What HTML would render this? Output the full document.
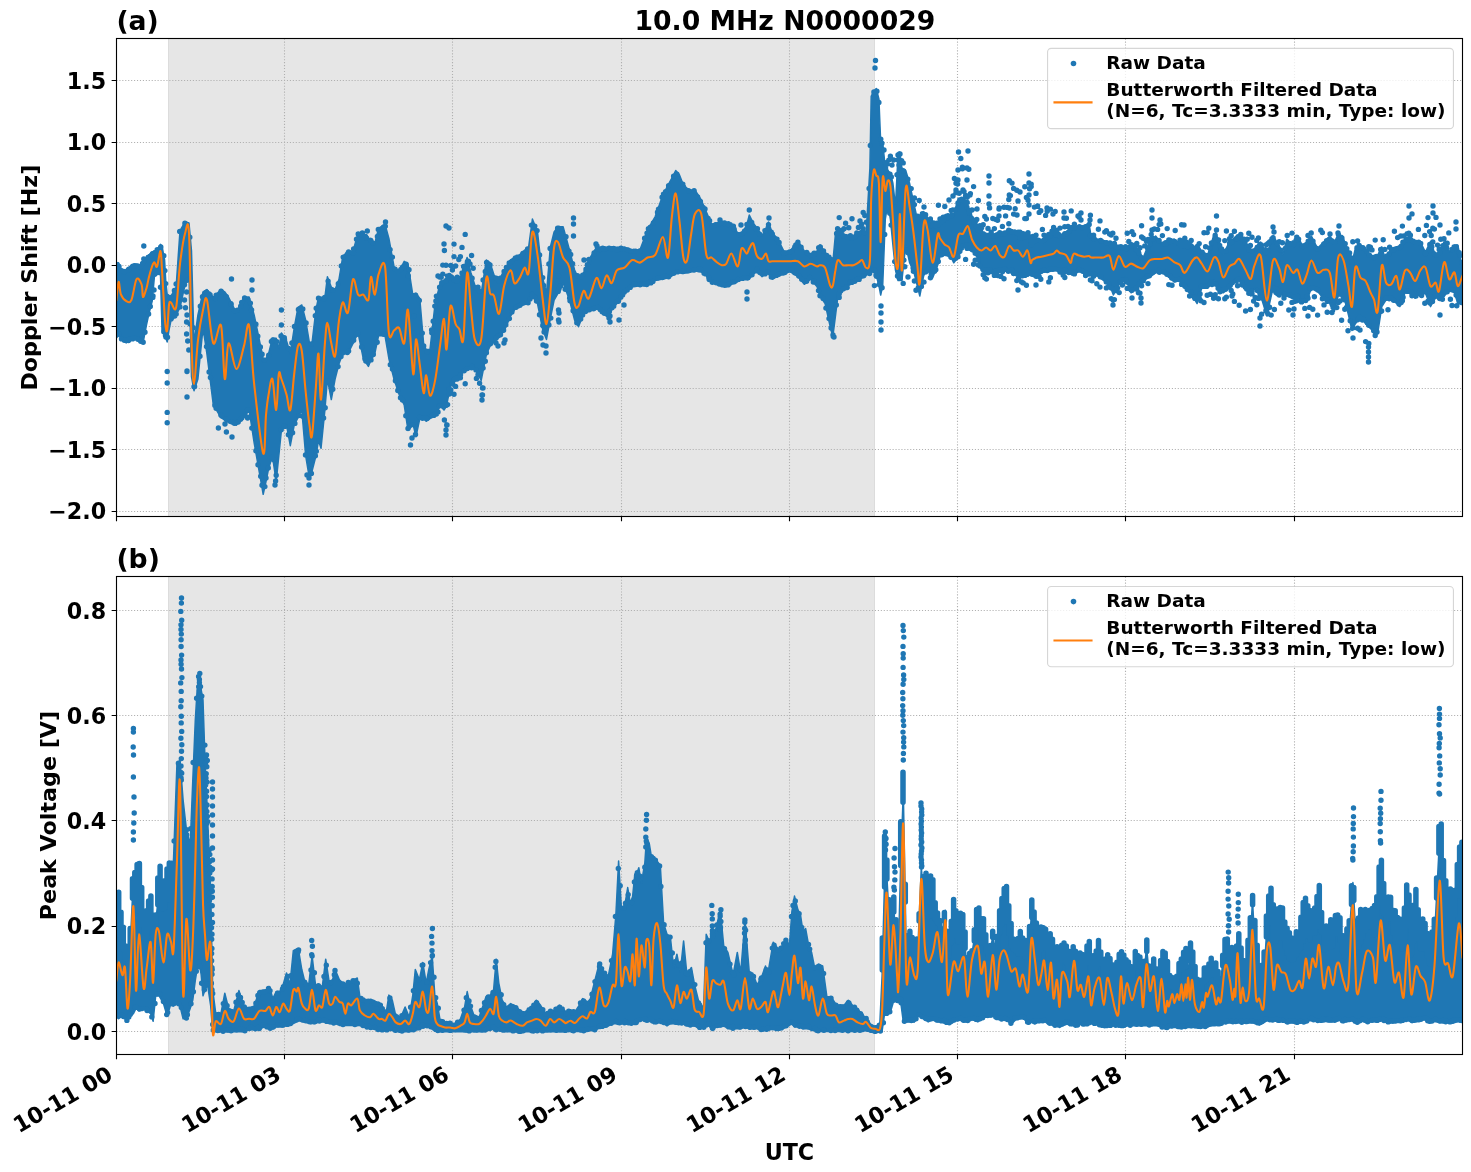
<!DOCTYPE html><html><head><meta charset="utf-8"><style>
html,body{margin:0;padding:0;background:#fff;overflow:hidden;}svg{display:block;}
text{font-family:'DejaVu Sans', 'Liberation Sans', sans-serif;font-weight:bold;fill:#000;}
.tl{font-size:22.22px;}.lg{font-size:18.51px;}.ti{font-size:26.67px;}.al{font-size:22.22px;}.yl{font-size:21.4px;}
</style></head><body>
<svg width="1471" height="1172" viewBox="0 0 1471 1172">
<rect width="1471" height="1172" fill="#fff"/>
<defs><clipPath id="ca"><rect x="116.4" y="38.6" width="1346.0" height="478.0"/></clipPath>
<clipPath id="cb"><rect x="116.4" y="576.7" width="1346.0" height="477.6"/></clipPath></defs>
<rect x="168.0" y="38.6" width="707.0" height="478.0" fill="#e6e6e6"/>
<path d="M168.5 38.6V516.6M874.5 38.6V516.6" stroke="#dcdcdc" stroke-width="1"/>
<path d="M284.5 38.6V516.6M452.5 38.6V516.6M621.5 38.6V516.6M789.5 38.6V516.6M957.5 38.6V516.6M1125.5 38.6V516.6M1294.5 38.6V516.6M116.4 80.5H1462.4M116.4 142.5H1462.4M116.4 203.5H1462.4M116.4 265.5H1462.4M116.4 326.5H1462.4M116.4 388.5H1462.4M116.4 449.5H1462.4M116.4 511.5H1462.4" stroke="#b0b0b0" stroke-width="1.11" stroke-dasharray="1.11 1.83" fill="none"/>
<g clip-path="url(#ca)">
<path d="M116.4 262.7 L118.6 262.7 L121.0 269.0 L126.2 270.0 L131.4 265.0 L136.5 264.0 L141.6 265.0 L143.0 262.0 L146.6 257.0 L148.8 255.0 L152.2 252.0 L154.4 251.0 L157.0 250.0 L160.5 244.4 L162.0 246.0 L164.6 260.0 L165.7 280.0 L167.2 294.7 L169.0 296.0 L171.0 296.0 L176.1 287.0 L180.0 230.7 L185.1 221.8 L189.0 223.0 L191.5 251.0 L194.0 343.0 L197.9 315.2 L203.0 292.0 L206.9 289.6 L213.3 297.3 L221.0 289.6 L224.8 292.0 L228.6 297.3 L236.3 312.6 L244.0 297.3 L249.1 297.0 L254.2 315.2 L263.2 358.7 L266.0 358.7 L268.6 353.6 L272.4 338.2 L276.2 338.2 L278.8 348.5 L281.4 333.0 L286.5 340.8 L290.3 353.6 L294.2 328.0 L298.0 307.5 L301.8 305.0 L305.7 320.3 L309.5 343.3 L312.0 343.3 L315.9 310.0 L318.5 297.3 L321.0 297.3 L324.9 297.3 L327.4 276.8 L331.3 287.0 L335.1 289.6 L339.0 279.3 L342.8 256.3 L347.9 251.2 L353.0 251.2 L358.1 233.3 L363.3 233.3 L368.4 238.4 L371.0 238.4 L374.8 243.5 L378.6 228.2 L385.0 224.3 L388.9 238.4 L394.0 266.5 L399.1 271.7 L404.2 261.4 L408.0 264.0 L413.2 297.3 L416.0 293.3 L419.8 298.5 L423.7 344.5 L426.2 349.6 L430.0 349.6 L435.1 303.6 L440.2 283.1 L444.0 280.0 L446.5 278.0 L450.5 275.0 L455.6 280.5 L459.4 279.0 L463.3 270.0 L467.1 257.5 L471.0 272.9 L474.8 285.0 L481.2 293.3 L486.3 260.1 L490.1 262.6 L494.0 275.0 L499.1 280.0 L504.2 270.0 L510.6 260.0 L514.4 257.5 L519.6 254.9 L524.7 250.0 L528.6 247.3 L532.4 219.1 L537.5 231.9 L542.6 278.0 L546.5 293.3 L550.3 247.3 L554.1 232.0 L558.0 226.8 L563.1 226.8 L569.5 250.0 L574.6 270.0 L578.5 278.0 L583.6 272.9 L588.7 260.0 L596.4 247.3 L601.5 247.3 L606.6 247.3 L611.7 247.3 L616.8 247.3 L624.5 247.3 L632.2 250.0 L639.9 250.0 L647.5 230.0 L655.2 216.5 L662.9 195.0 L668.0 185.0 L671.9 178.0 L675.7 170.5 L679.5 175.0 L683.4 185.0 L687.2 188.4 L691.1 190.0 L694.9 190.0 L701.3 200.0 L706.4 212.0 L711.5 224.2 L716.6 223.0 L721.8 221.7 L726.2 222.9 L731.4 222.9 L737.8 233.1 L741.6 233.1 L746.7 225.4 L749.3 215.0 L753.1 222.9 L757.0 228.0 L762.1 235.7 L765.9 228.0 L768.5 222.0 L772.3 233.1 L777.4 238.2 L783.8 251.0 L790.2 251.0 L797.9 240.8 L804.3 251.0 L810.7 253.6 L817.1 251.0 L820.0 244.8 L825.1 252.4 L830.2 257.6 L832.8 262.7 L835.4 234.5 L837.9 228.0 L843.0 234.0 L848.2 236.0 L853.3 236.0 L858.4 232.0 L862.2 230.0 L866.1 234.0 L869.9 168.0 L871.2 96.3 L873.7 91.2 L876.3 88.6 L878.9 98.9 L880.7 142.4 L882.7 142.4 L885.3 168.0 L887.8 170.5 L890.4 173.1 L892.9 183.3 L895.5 206.4 L898.1 152.6 L899.9 152.6 L901.9 168.0 L905.7 170.5 L909.6 183.3 L913.4 201.2 L917.3 219.2 L919.8 219.2 L923.7 211.5 L927.5 219.2 L932.6 224.3 L937.7 224.3 L940.0 222.9 L944.6 216.8 L949.2 215.2 L953.8 213.7 L958.4 198.3 L963.0 198.3 L967.6 209.1 L970.7 212.0 L972.2 216.8 L976.8 226.0 L981.5 232.1 L986.1 233.7 L990.7 235.2 L995.3 233.7 L999.9 232.1 L1004.5 232.1 L1009.1 229.0 L1013.7 230.6 L1018.3 233.7 L1022.9 236.7 L1027.5 232.1 L1030.6 240.0 L1032.1 244.4 L1035.2 240.0 L1036.7 238.3 L1041.3 239.8 L1047.5 235.2 L1053.6 232.1 L1056.7 233.0 L1059.8 235.2 L1065.9 232.1 L1070.5 228.0 L1072.0 226.0 L1074.0 226.0 L1078.2 226.0 L1084.3 226.0 L1088.9 222.9 L1091.1 236.0 L1097.3 239.0 L1103.4 240.6 L1109.6 242.1 L1113.4 245.2 L1118.8 245.2 L1124.9 248.3 L1131.1 243.7 L1137.2 249.8 L1143.3 257.5 L1149.5 242.1 L1155.6 236.0 L1161.8 243.7 L1167.9 242.1 L1174.1 239.0 L1180.2 243.7 L1184.8 245.2 L1192.5 245.2 L1197.1 248.3 L1201.7 251.3 L1207.8 254.4 L1214.0 234.4 L1218.6 239.0 L1223.2 254.4 L1229.3 242.1 L1234.6 237.5 L1239.2 234.4 L1245.4 242.1 L1250.7 251.3 L1254.6 248.3 L1260.7 242.1 L1266.8 254.4 L1273.0 236.0 L1279.1 245.2 L1283.0 254.4 L1286.8 239.0 L1293.0 245.2 L1297.6 236.0 L1302.2 245.2 L1306.8 242.1 L1311.4 236.0 L1317.5 248.3 L1323.7 242.1 L1329.8 236.0 L1334.4 242.1 L1338.2 234.4 L1343.6 239.0 L1348.5 252.0 L1352.0 262.2 L1355.4 248.5 L1360.5 245.1 L1365.6 248.5 L1370.7 255.4 L1374.1 255.4 L1377.6 255.4 L1381.8 246.8 L1386.1 262.2 L1391.2 248.5 L1396.3 246.8 L1399.8 246.8 L1404.9 238.3 L1410.0 238.3 L1415.1 241.7 L1420.2 241.7 L1425.4 252.0 L1430.5 241.7 L1435.6 255.4 L1439.0 252.0 L1444.2 241.7 L1449.3 252.0 L1454.4 245.1 L1457.8 245.1 L1462.4 267.3 L1462.4 303.2 L1457.8 303.2 L1454.4 292.9 L1449.3 289.5 L1444.2 296.3 L1439.0 299.8 L1435.6 296.3 L1430.5 306.6 L1425.4 292.9 L1420.2 292.9 L1415.1 298.1 L1410.0 292.9 L1404.9 292.9 L1399.8 306.6 L1396.3 303.2 L1391.2 299.8 L1386.1 299.8 L1381.8 306.6 L1377.6 333.9 L1374.1 332.2 L1370.7 328.8 L1365.6 323.7 L1360.5 316.8 L1355.4 323.7 L1352.0 330.5 L1348.5 315.1 L1343.6 295.9 L1338.2 295.9 L1334.4 311.2 L1329.8 303.5 L1323.7 298.9 L1317.5 291.3 L1311.4 288.2 L1306.8 300.5 L1302.2 303.5 L1297.6 297.4 L1293.0 298.9 L1286.8 295.9 L1283.0 295.9 L1279.1 291.3 L1273.0 288.2 L1266.8 315.8 L1260.7 295.9 L1254.6 288.2 L1250.7 295.9 L1245.4 288.2 L1239.2 280.5 L1234.6 282.0 L1229.3 288.2 L1223.2 292.8 L1218.6 291.3 L1214.0 280.5 L1207.8 288.2 L1201.7 288.2 L1197.1 303.5 L1192.5 295.9 L1184.8 288.2 L1180.2 280.5 L1174.1 282.0 L1167.9 275.9 L1161.8 272.8 L1155.6 272.8 L1149.5 277.4 L1143.3 280.5 L1137.2 288.2 L1131.1 292.8 L1124.9 277.4 L1118.8 285.1 L1113.4 295.0 L1109.6 285.1 L1103.4 280.5 L1097.3 275.9 L1091.1 275.9 L1088.9 275.1 L1084.3 272.0 L1078.2 272.0 L1074.0 274.0 L1072.0 275.1 L1070.5 274.0 L1065.9 272.0 L1059.8 272.0 L1056.7 271.0 L1053.6 270.5 L1047.5 272.0 L1041.3 272.0 L1036.7 278.2 L1035.2 277.0 L1032.1 275.1 L1030.6 275.1 L1027.5 275.1 L1022.9 276.7 L1018.3 275.1 L1013.7 273.6 L1009.1 272.0 L1004.5 270.5 L999.9 272.0 L995.3 273.6 L990.7 272.0 L986.1 272.0 L981.5 270.5 L976.8 256.7 L972.2 250.5 L970.7 248.0 L967.6 245.9 L963.0 247.5 L958.4 256.7 L953.8 262.8 L949.2 253.6 L944.6 255.2 L940.0 256.7 L937.7 265.2 L932.6 278.0 L927.5 270.4 L923.7 275.5 L919.8 296.0 L917.3 285.7 L913.4 270.4 L909.6 262.7 L905.7 244.8 L901.9 280.6 L899.9 280.6 L898.1 280.6 L895.5 270.4 L892.9 244.8 L890.4 219.2 L887.8 203.8 L885.3 219.2 L882.7 285.7 L880.7 295.0 L878.9 285.7 L876.3 275.5 L873.7 270.4 L871.2 270.4 L869.9 272.9 L866.1 275.5 L862.2 278.0 L858.4 280.6 L853.3 283.2 L848.2 285.7 L843.0 290.8 L837.9 296.0 L835.4 316.4 L832.8 336.9 L830.2 326.7 L825.1 303.6 L820.0 296.0 L817.1 286.8 L810.7 279.2 L804.3 284.3 L797.9 276.6 L790.2 271.5 L783.8 274.0 L777.4 276.6 L772.3 279.2 L768.5 274.0 L765.9 274.0 L762.1 276.6 L757.0 271.5 L753.1 274.0 L749.3 279.2 L746.7 279.2 L741.6 279.2 L737.8 281.7 L731.4 284.3 L726.2 286.8 L721.8 285.7 L716.6 284.0 L711.5 283.1 L706.4 276.0 L701.3 272.0 L694.9 271.0 L691.1 272.0 L687.2 272.9 L683.4 273.0 L679.5 272.9 L675.7 272.9 L671.9 276.0 L668.0 278.0 L662.9 279.0 L655.2 280.5 L647.5 285.7 L639.9 285.7 L632.2 287.0 L624.5 293.3 L616.8 303.6 L611.7 310.0 L606.6 316.4 L601.5 312.0 L596.4 308.7 L588.7 311.0 L583.6 313.8 L578.5 326.6 L574.6 320.0 L569.5 300.0 L563.1 283.1 L558.0 293.3 L554.1 300.0 L550.3 318.9 L546.5 339.4 L542.6 329.2 L537.5 303.6 L532.4 293.3 L528.6 303.6 L524.7 304.5 L519.6 306.1 L514.4 310.0 L510.6 316.0 L504.2 331.0 L499.1 337.0 L494.0 342.0 L490.1 346.0 L486.3 354.8 L481.2 380.4 L474.8 368.0 L471.0 367.6 L467.1 370.1 L463.3 372.0 L459.4 377.0 L455.6 380.4 L450.5 385.5 L446.5 406.0 L444.0 410.0 L440.2 406.0 L435.1 416.2 L430.0 418.7 L426.2 421.3 L423.7 418.7 L419.8 418.7 L416.0 436.7 L413.2 425.0 L408.0 430.4 L404.2 404.8 L399.1 394.5 L394.0 379.0 L388.9 358.7 L385.0 335.7 L378.6 335.7 L374.8 353.6 L371.0 360.0 L368.4 366.4 L363.3 358.7 L358.1 333.0 L353.0 343.3 L347.9 353.6 L342.8 353.6 L339.0 363.8 L335.1 379.0 L331.3 399.6 L327.4 379.0 L324.9 410.0 L321.0 448.3 L318.5 440.6 L315.9 456.0 L312.0 471.3 L309.5 479.0 L305.7 456.0 L301.8 410.0 L298.0 417.6 L294.2 425.2 L290.3 445.7 L286.5 425.2 L281.4 430.4 L278.8 456.0 L276.2 481.5 L272.4 456.0 L268.6 468.7 L266.0 481.5 L263.2 494.3 L254.2 443.0 L249.1 410.0 L244.0 417.6 L236.3 425.2 L228.6 422.7 L224.8 420.0 L221.0 417.6 L213.3 404.8 L206.9 353.6 L203.0 328.0 L197.9 379.0 L194.0 390.7 L191.5 376.6 L189.0 276.8 L185.1 284.5 L180.0 307.5 L176.1 315.2 L171.0 320.3 L169.0 330.0 L167.2 342.0 L165.7 338.0 L164.6 335.0 L162.0 330.0 L160.5 275.0 L157.0 273.0 L154.4 276.6 L152.2 301.0 L148.8 314.4 L146.6 324.3 L143.0 343.0 L141.6 343.0 L136.5 339.5 L131.4 339.5 L126.2 343.0 L121.0 339.5 L118.6 333.0 L116.4 338.2Z" fill="#1f77b4" stroke="#1f77b4" stroke-width="1.5" stroke-linejoin="round"/>
<path d="M114.1 264.5a2.7 2.7 0 1 0 5.4 0a2.7 2.7 0 1 0 -5.4 0M114.0 334.9a2.7 2.7 0 1 0 5.4 0a2.7 2.7 0 1 0 -5.4 0M116.3 266.5a2.7 2.7 0 1 0 5.4 0a2.7 2.7 0 1 0 -5.4 0M116.3 334.0a2.7 2.7 0 1 0 5.4 0a2.7 2.7 0 1 0 -5.4 0M118.1 270.4a2.7 2.7 0 1 0 5.4 0a2.7 2.7 0 1 0 -5.4 0M118.8 338.9a2.7 2.7 0 1 0 5.4 0a2.7 2.7 0 1 0 -5.4 0M121.6 272.0a2.7 2.7 0 1 0 5.4 0a2.7 2.7 0 1 0 -5.4 0M121.6 340.3a2.7 2.7 0 1 0 5.4 0a2.7 2.7 0 1 0 -5.4 0M125.6 269.8a2.7 2.7 0 1 0 5.4 0a2.7 2.7 0 1 0 -5.4 0M125.8 340.5a2.7 2.7 0 1 0 5.4 0a2.7 2.7 0 1 0 -5.4 0M126.2 269.3a2.7 2.7 0 1 0 5.4 0a2.7 2.7 0 1 0 -5.4 0M126.1 339.4a2.7 2.7 0 1 0 5.4 0a2.7 2.7 0 1 0 -5.4 0M130.2 266.3a2.7 2.7 0 1 0 5.4 0a2.7 2.7 0 1 0 -5.4 0M129.9 338.9a2.7 2.7 0 1 0 5.4 0a2.7 2.7 0 1 0 -5.4 0M132.0 265.8a2.7 2.7 0 1 0 5.4 0a2.7 2.7 0 1 0 -5.4 0M131.6 337.8a2.7 2.7 0 1 0 5.4 0a2.7 2.7 0 1 0 -5.4 0M134.8 266.3a2.7 2.7 0 1 0 5.4 0a2.7 2.7 0 1 0 -5.4 0M135.2 339.3a2.7 2.7 0 1 0 5.4 0a2.7 2.7 0 1 0 -5.4 0M137.8 267.0a2.7 2.7 0 1 0 5.4 0a2.7 2.7 0 1 0 -5.4 0M138.0 341.2a2.7 2.7 0 1 0 5.4 0a2.7 2.7 0 1 0 -5.4 0M139.9 263.4a2.7 2.7 0 1 0 5.4 0a2.7 2.7 0 1 0 -5.4 0M140.5 342.2a2.7 2.7 0 1 0 5.4 0a2.7 2.7 0 1 0 -5.4 0M141.6 261.4a2.7 2.7 0 1 0 5.4 0a2.7 2.7 0 1 0 -5.4 0M142.3 332.2a2.7 2.7 0 1 0 5.4 0a2.7 2.7 0 1 0 -5.4 0M145.6 257.1a2.7 2.7 0 1 0 5.4 0a2.7 2.7 0 1 0 -5.4 0M145.9 314.0a2.7 2.7 0 1 0 5.4 0a2.7 2.7 0 1 0 -5.4 0M148.0 256.0a2.7 2.7 0 1 0 5.4 0a2.7 2.7 0 1 0 -5.4 0M147.6 306.5a2.7 2.7 0 1 0 5.4 0a2.7 2.7 0 1 0 -5.4 0M149.8 253.7a2.7 2.7 0 1 0 5.4 0a2.7 2.7 0 1 0 -5.4 0M150.1 297.4a2.7 2.7 0 1 0 5.4 0a2.7 2.7 0 1 0 -5.4 0M152.3 252.6a2.7 2.7 0 1 0 5.4 0a2.7 2.7 0 1 0 -5.4 0M152.0 274.2a2.7 2.7 0 1 0 5.4 0a2.7 2.7 0 1 0 -5.4 0M154.5 249.7a2.7 2.7 0 1 0 5.4 0a2.7 2.7 0 1 0 -5.4 0M155.2 272.6a2.7 2.7 0 1 0 5.4 0a2.7 2.7 0 1 0 -5.4 0M158.1 247.0a2.7 2.7 0 1 0 5.4 0a2.7 2.7 0 1 0 -5.4 0M157.8 287.2a2.7 2.7 0 1 0 5.4 0a2.7 2.7 0 1 0 -5.4 0M161.1 255.8a2.7 2.7 0 1 0 5.4 0a2.7 2.7 0 1 0 -5.4 0M161.1 331.7a2.7 2.7 0 1 0 5.4 0a2.7 2.7 0 1 0 -5.4 0M162.2 270.6a2.7 2.7 0 1 0 5.4 0a2.7 2.7 0 1 0 -5.4 0M162.8 335.4a2.7 2.7 0 1 0 5.4 0a2.7 2.7 0 1 0 -5.4 0M163.0 283.6a2.7 2.7 0 1 0 5.4 0a2.7 2.7 0 1 0 -5.4 0M163.2 337.0a2.7 2.7 0 1 0 5.4 0a2.7 2.7 0 1 0 -5.4 0M164.5 296.4a2.7 2.7 0 1 0 5.4 0a2.7 2.7 0 1 0 -5.4 0M164.8 337.2a2.7 2.7 0 1 0 5.4 0a2.7 2.7 0 1 0 -5.4 0M168.4 297.5a2.7 2.7 0 1 0 5.4 0a2.7 2.7 0 1 0 -5.4 0M168.3 318.9a2.7 2.7 0 1 0 5.4 0a2.7 2.7 0 1 0 -5.4 0M168.8 297.8a2.7 2.7 0 1 0 5.4 0a2.7 2.7 0 1 0 -5.4 0M168.8 318.1a2.7 2.7 0 1 0 5.4 0a2.7 2.7 0 1 0 -5.4 0M171.7 290.4a2.7 2.7 0 1 0 5.4 0a2.7 2.7 0 1 0 -5.4 0M172.0 316.1a2.7 2.7 0 1 0 5.4 0a2.7 2.7 0 1 0 -5.4 0M173.4 284.0a2.7 2.7 0 1 0 5.4 0a2.7 2.7 0 1 0 -5.4 0M173.5 314.1a2.7 2.7 0 1 0 5.4 0a2.7 2.7 0 1 0 -5.4 0M177.0 231.4a2.7 2.7 0 1 0 5.4 0a2.7 2.7 0 1 0 -5.4 0M177.2 306.9a2.7 2.7 0 1 0 5.4 0a2.7 2.7 0 1 0 -5.4 0M182.2 223.2a2.7 2.7 0 1 0 5.4 0a2.7 2.7 0 1 0 -5.4 0M181.8 284.8a2.7 2.7 0 1 0 5.4 0a2.7 2.7 0 1 0 -5.4 0M183.4 224.4a2.7 2.7 0 1 0 5.4 0a2.7 2.7 0 1 0 -5.4 0M184.3 280.3a2.7 2.7 0 1 0 5.4 0a2.7 2.7 0 1 0 -5.4 0M187.1 237.3a2.7 2.7 0 1 0 5.4 0a2.7 2.7 0 1 0 -5.4 0M187.4 324.1a2.7 2.7 0 1 0 5.4 0a2.7 2.7 0 1 0 -5.4 0M190.5 327.8a2.7 2.7 0 1 0 5.4 0a2.7 2.7 0 1 0 -5.4 0M191.3 386.7a2.7 2.7 0 1 0 5.4 0a2.7 2.7 0 1 0 -5.4 0M191.9 339.5a2.7 2.7 0 1 0 5.4 0a2.7 2.7 0 1 0 -5.4 0M191.9 386.5a2.7 2.7 0 1 0 5.4 0a2.7 2.7 0 1 0 -5.4 0M197.6 306.2a2.7 2.7 0 1 0 5.4 0a2.7 2.7 0 1 0 -5.4 0M197.3 356.2a2.7 2.7 0 1 0 5.4 0a2.7 2.7 0 1 0 -5.4 0M199.8 296.7a2.7 2.7 0 1 0 5.4 0a2.7 2.7 0 1 0 -5.4 0M199.5 332.9a2.7 2.7 0 1 0 5.4 0a2.7 2.7 0 1 0 -5.4 0M203.9 292.3a2.7 2.7 0 1 0 5.4 0a2.7 2.7 0 1 0 -5.4 0M203.8 346.6a2.7 2.7 0 1 0 5.4 0a2.7 2.7 0 1 0 -5.4 0M206.3 294.0a2.7 2.7 0 1 0 5.4 0a2.7 2.7 0 1 0 -5.4 0M206.4 372.0a2.7 2.7 0 1 0 5.4 0a2.7 2.7 0 1 0 -5.4 0M207.3 294.6a2.7 2.7 0 1 0 5.4 0a2.7 2.7 0 1 0 -5.4 0M207.7 377.5a2.7 2.7 0 1 0 5.4 0a2.7 2.7 0 1 0 -5.4 0M212.2 298.6a2.7 2.7 0 1 0 5.4 0a2.7 2.7 0 1 0 -5.4 0M212.2 405.5a2.7 2.7 0 1 0 5.4 0a2.7 2.7 0 1 0 -5.4 0M213.5 295.1a2.7 2.7 0 1 0 5.4 0a2.7 2.7 0 1 0 -5.4 0M213.4 408.3a2.7 2.7 0 1 0 5.4 0a2.7 2.7 0 1 0 -5.4 0M218.4 291.3a2.7 2.7 0 1 0 5.4 0a2.7 2.7 0 1 0 -5.4 0M218.2 415.1a2.7 2.7 0 1 0 5.4 0a2.7 2.7 0 1 0 -5.4 0M218.8 292.1a2.7 2.7 0 1 0 5.4 0a2.7 2.7 0 1 0 -5.4 0M218.9 415.8a2.7 2.7 0 1 0 5.4 0a2.7 2.7 0 1 0 -5.4 0M223.6 296.6a2.7 2.7 0 1 0 5.4 0a2.7 2.7 0 1 0 -5.4 0M223.7 419.2a2.7 2.7 0 1 0 5.4 0a2.7 2.7 0 1 0 -5.4 0M228.3 303.6a2.7 2.7 0 1 0 5.4 0a2.7 2.7 0 1 0 -5.4 0M228.8 421.6a2.7 2.7 0 1 0 5.4 0a2.7 2.7 0 1 0 -5.4 0M228.5 304.1a2.7 2.7 0 1 0 5.4 0a2.7 2.7 0 1 0 -5.4 0M229.3 421.6a2.7 2.7 0 1 0 5.4 0a2.7 2.7 0 1 0 -5.4 0M231.7 310.7a2.7 2.7 0 1 0 5.4 0a2.7 2.7 0 1 0 -5.4 0M231.6 423.3a2.7 2.7 0 1 0 5.4 0a2.7 2.7 0 1 0 -5.4 0M234.6 310.3a2.7 2.7 0 1 0 5.4 0a2.7 2.7 0 1 0 -5.4 0M235.5 422.0a2.7 2.7 0 1 0 5.4 0a2.7 2.7 0 1 0 -5.4 0M238.0 306.2a2.7 2.7 0 1 0 5.4 0a2.7 2.7 0 1 0 -5.4 0M237.9 419.2a2.7 2.7 0 1 0 5.4 0a2.7 2.7 0 1 0 -5.4 0M239.0 302.4a2.7 2.7 0 1 0 5.4 0a2.7 2.7 0 1 0 -5.4 0M239.0 417.9a2.7 2.7 0 1 0 5.4 0a2.7 2.7 0 1 0 -5.4 0M241.9 298.0a2.7 2.7 0 1 0 5.4 0a2.7 2.7 0 1 0 -5.4 0M242.4 415.4a2.7 2.7 0 1 0 5.4 0a2.7 2.7 0 1 0 -5.4 0M245.1 299.4a2.7 2.7 0 1 0 5.4 0a2.7 2.7 0 1 0 -5.4 0M244.9 409.7a2.7 2.7 0 1 0 5.4 0a2.7 2.7 0 1 0 -5.4 0M247.7 303.1a2.7 2.7 0 1 0 5.4 0a2.7 2.7 0 1 0 -5.4 0M247.2 416.9a2.7 2.7 0 1 0 5.4 0a2.7 2.7 0 1 0 -5.4 0M248.9 309.9a2.7 2.7 0 1 0 5.4 0a2.7 2.7 0 1 0 -5.4 0M249.1 428.1a2.7 2.7 0 1 0 5.4 0a2.7 2.7 0 1 0 -5.4 0M253.2 324.2a2.7 2.7 0 1 0 5.4 0a2.7 2.7 0 1 0 -5.4 0M253.2 450.7a2.7 2.7 0 1 0 5.4 0a2.7 2.7 0 1 0 -5.4 0M255.1 336.2a2.7 2.7 0 1 0 5.4 0a2.7 2.7 0 1 0 -5.4 0M255.3 464.8a2.7 2.7 0 1 0 5.4 0a2.7 2.7 0 1 0 -5.4 0M257.7 347.0a2.7 2.7 0 1 0 5.4 0a2.7 2.7 0 1 0 -5.4 0M258.0 476.2a2.7 2.7 0 1 0 5.4 0a2.7 2.7 0 1 0 -5.4 0M259.4 354.2a2.7 2.7 0 1 0 5.4 0a2.7 2.7 0 1 0 -5.4 0M259.3 485.3a2.7 2.7 0 1 0 5.4 0a2.7 2.7 0 1 0 -5.4 0M261.8 360.2a2.7 2.7 0 1 0 5.4 0a2.7 2.7 0 1 0 -5.4 0M262.2 486.6a2.7 2.7 0 1 0 5.4 0a2.7 2.7 0 1 0 -5.4 0M266.0 355.2a2.7 2.7 0 1 0 5.4 0a2.7 2.7 0 1 0 -5.4 0M265.6 467.9a2.7 2.7 0 1 0 5.4 0a2.7 2.7 0 1 0 -5.4 0M268.7 341.4a2.7 2.7 0 1 0 5.4 0a2.7 2.7 0 1 0 -5.4 0M269.0 457.4a2.7 2.7 0 1 0 5.4 0a2.7 2.7 0 1 0 -5.4 0M270.2 340.0a2.7 2.7 0 1 0 5.4 0a2.7 2.7 0 1 0 -5.4 0M270.9 459.8a2.7 2.7 0 1 0 5.4 0a2.7 2.7 0 1 0 -5.4 0M274.1 341.6a2.7 2.7 0 1 0 5.4 0a2.7 2.7 0 1 0 -5.4 0M273.5 475.3a2.7 2.7 0 1 0 5.4 0a2.7 2.7 0 1 0 -5.4 0M278.3 335.9a2.7 2.7 0 1 0 5.4 0a2.7 2.7 0 1 0 -5.4 0M278.5 429.8a2.7 2.7 0 1 0 5.4 0a2.7 2.7 0 1 0 -5.4 0M281.6 337.7a2.7 2.7 0 1 0 5.4 0a2.7 2.7 0 1 0 -5.4 0M281.2 426.3a2.7 2.7 0 1 0 5.4 0a2.7 2.7 0 1 0 -5.4 0M281.8 339.4a2.7 2.7 0 1 0 5.4 0a2.7 2.7 0 1 0 -5.4 0M282.3 426.4a2.7 2.7 0 1 0 5.4 0a2.7 2.7 0 1 0 -5.4 0M285.8 348.4a2.7 2.7 0 1 0 5.4 0a2.7 2.7 0 1 0 -5.4 0M285.7 434.8a2.7 2.7 0 1 0 5.4 0a2.7 2.7 0 1 0 -5.4 0M289.2 343.0a2.7 2.7 0 1 0 5.4 0a2.7 2.7 0 1 0 -5.4 0M289.9 432.8a2.7 2.7 0 1 0 5.4 0a2.7 2.7 0 1 0 -5.4 0M291.7 326.4a2.7 2.7 0 1 0 5.4 0a2.7 2.7 0 1 0 -5.4 0M292.2 423.4a2.7 2.7 0 1 0 5.4 0a2.7 2.7 0 1 0 -5.4 0M295.7 309.5a2.7 2.7 0 1 0 5.4 0a2.7 2.7 0 1 0 -5.4 0M296.1 415.6a2.7 2.7 0 1 0 5.4 0a2.7 2.7 0 1 0 -5.4 0M300.1 308.9a2.7 2.7 0 1 0 5.4 0a2.7 2.7 0 1 0 -5.4 0M299.9 416.2a2.7 2.7 0 1 0 5.4 0a2.7 2.7 0 1 0 -5.4 0M303.4 323.0a2.7 2.7 0 1 0 5.4 0a2.7 2.7 0 1 0 -5.4 0M302.8 454.9a2.7 2.7 0 1 0 5.4 0a2.7 2.7 0 1 0 -5.4 0M308.7 344.0a2.7 2.7 0 1 0 5.4 0a2.7 2.7 0 1 0 -5.4 0M308.7 473.5a2.7 2.7 0 1 0 5.4 0a2.7 2.7 0 1 0 -5.4 0M312.6 315.7a2.7 2.7 0 1 0 5.4 0a2.7 2.7 0 1 0 -5.4 0M312.7 455.7a2.7 2.7 0 1 0 5.4 0a2.7 2.7 0 1 0 -5.4 0M313.5 308.2a2.7 2.7 0 1 0 5.4 0a2.7 2.7 0 1 0 -5.4 0M313.6 451.2a2.7 2.7 0 1 0 5.4 0a2.7 2.7 0 1 0 -5.4 0M315.8 298.2a2.7 2.7 0 1 0 5.4 0a2.7 2.7 0 1 0 -5.4 0M316.0 440.7a2.7 2.7 0 1 0 5.4 0a2.7 2.7 0 1 0 -5.4 0M321.1 298.8a2.7 2.7 0 1 0 5.4 0a2.7 2.7 0 1 0 -5.4 0M320.9 418.0a2.7 2.7 0 1 0 5.4 0a2.7 2.7 0 1 0 -5.4 0M322.0 297.5a2.7 2.7 0 1 0 5.4 0a2.7 2.7 0 1 0 -5.4 0M322.5 407.8a2.7 2.7 0 1 0 5.4 0a2.7 2.7 0 1 0 -5.4 0M325.4 281.1a2.7 2.7 0 1 0 5.4 0a2.7 2.7 0 1 0 -5.4 0M325.0 380.8a2.7 2.7 0 1 0 5.4 0a2.7 2.7 0 1 0 -5.4 0M330.2 290.3a2.7 2.7 0 1 0 5.4 0a2.7 2.7 0 1 0 -5.4 0M330.1 389.2a2.7 2.7 0 1 0 5.4 0a2.7 2.7 0 1 0 -5.4 0M335.6 283.7a2.7 2.7 0 1 0 5.4 0a2.7 2.7 0 1 0 -5.4 0M335.4 366.6a2.7 2.7 0 1 0 5.4 0a2.7 2.7 0 1 0 -5.4 0M338.6 265.9a2.7 2.7 0 1 0 5.4 0a2.7 2.7 0 1 0 -5.4 0M338.3 356.6a2.7 2.7 0 1 0 5.4 0a2.7 2.7 0 1 0 -5.4 0M340.5 257.1a2.7 2.7 0 1 0 5.4 0a2.7 2.7 0 1 0 -5.4 0M339.9 352.9a2.7 2.7 0 1 0 5.4 0a2.7 2.7 0 1 0 -5.4 0M345.2 253.4a2.7 2.7 0 1 0 5.4 0a2.7 2.7 0 1 0 -5.4 0M344.6 352.6a2.7 2.7 0 1 0 5.4 0a2.7 2.7 0 1 0 -5.4 0M345.9 252.0a2.7 2.7 0 1 0 5.4 0a2.7 2.7 0 1 0 -5.4 0M345.9 351.1a2.7 2.7 0 1 0 5.4 0a2.7 2.7 0 1 0 -5.4 0M350.7 252.8a2.7 2.7 0 1 0 5.4 0a2.7 2.7 0 1 0 -5.4 0M349.9 341.1a2.7 2.7 0 1 0 5.4 0a2.7 2.7 0 1 0 -5.4 0M350.9 248.9a2.7 2.7 0 1 0 5.4 0a2.7 2.7 0 1 0 -5.4 0M351.0 340.3a2.7 2.7 0 1 0 5.4 0a2.7 2.7 0 1 0 -5.4 0M353.8 239.3a2.7 2.7 0 1 0 5.4 0a2.7 2.7 0 1 0 -5.4 0M353.6 334.5a2.7 2.7 0 1 0 5.4 0a2.7 2.7 0 1 0 -5.4 0M355.5 233.9a2.7 2.7 0 1 0 5.4 0a2.7 2.7 0 1 0 -5.4 0M355.2 333.0a2.7 2.7 0 1 0 5.4 0a2.7 2.7 0 1 0 -5.4 0M358.7 234.9a2.7 2.7 0 1 0 5.4 0a2.7 2.7 0 1 0 -5.4 0M358.9 347.0a2.7 2.7 0 1 0 5.4 0a2.7 2.7 0 1 0 -5.4 0M362.8 236.4a2.7 2.7 0 1 0 5.4 0a2.7 2.7 0 1 0 -5.4 0M362.3 359.0a2.7 2.7 0 1 0 5.4 0a2.7 2.7 0 1 0 -5.4 0M363.8 238.0a2.7 2.7 0 1 0 5.4 0a2.7 2.7 0 1 0 -5.4 0M363.1 361.0a2.7 2.7 0 1 0 5.4 0a2.7 2.7 0 1 0 -5.4 0M368.1 240.4a2.7 2.7 0 1 0 5.4 0a2.7 2.7 0 1 0 -5.4 0M368.3 359.9a2.7 2.7 0 1 0 5.4 0a2.7 2.7 0 1 0 -5.4 0M370.3 243.2a2.7 2.7 0 1 0 5.4 0a2.7 2.7 0 1 0 -5.4 0M370.6 354.5a2.7 2.7 0 1 0 5.4 0a2.7 2.7 0 1 0 -5.4 0M374.7 236.4a2.7 2.7 0 1 0 5.4 0a2.7 2.7 0 1 0 -5.4 0M374.5 342.2a2.7 2.7 0 1 0 5.4 0a2.7 2.7 0 1 0 -5.4 0M375.6 229.4a2.7 2.7 0 1 0 5.4 0a2.7 2.7 0 1 0 -5.4 0M375.6 333.5a2.7 2.7 0 1 0 5.4 0a2.7 2.7 0 1 0 -5.4 0M381.0 226.9a2.7 2.7 0 1 0 5.4 0a2.7 2.7 0 1 0 -5.4 0M381.1 334.2a2.7 2.7 0 1 0 5.4 0a2.7 2.7 0 1 0 -5.4 0M382.6 226.3a2.7 2.7 0 1 0 5.4 0a2.7 2.7 0 1 0 -5.4 0M382.3 334.2a2.7 2.7 0 1 0 5.4 0a2.7 2.7 0 1 0 -5.4 0M387.4 249.6a2.7 2.7 0 1 0 5.4 0a2.7 2.7 0 1 0 -5.4 0M387.6 364.7a2.7 2.7 0 1 0 5.4 0a2.7 2.7 0 1 0 -5.4 0M389.7 257.1a2.7 2.7 0 1 0 5.4 0a2.7 2.7 0 1 0 -5.4 0M389.7 369.1a2.7 2.7 0 1 0 5.4 0a2.7 2.7 0 1 0 -5.4 0M392.4 269.2a2.7 2.7 0 1 0 5.4 0a2.7 2.7 0 1 0 -5.4 0M392.7 380.8a2.7 2.7 0 1 0 5.4 0a2.7 2.7 0 1 0 -5.4 0M395.6 271.4a2.7 2.7 0 1 0 5.4 0a2.7 2.7 0 1 0 -5.4 0M395.1 390.5a2.7 2.7 0 1 0 5.4 0a2.7 2.7 0 1 0 -5.4 0M398.1 269.5a2.7 2.7 0 1 0 5.4 0a2.7 2.7 0 1 0 -5.4 0M397.8 397.7a2.7 2.7 0 1 0 5.4 0a2.7 2.7 0 1 0 -5.4 0M399.8 267.1a2.7 2.7 0 1 0 5.4 0a2.7 2.7 0 1 0 -5.4 0M399.8 400.0a2.7 2.7 0 1 0 5.4 0a2.7 2.7 0 1 0 -5.4 0M403.4 264.2a2.7 2.7 0 1 0 5.4 0a2.7 2.7 0 1 0 -5.4 0M403.1 415.7a2.7 2.7 0 1 0 5.4 0a2.7 2.7 0 1 0 -5.4 0M406.3 269.7a2.7 2.7 0 1 0 5.4 0a2.7 2.7 0 1 0 -5.4 0M405.3 428.4a2.7 2.7 0 1 0 5.4 0a2.7 2.7 0 1 0 -5.4 0M410.5 295.7a2.7 2.7 0 1 0 5.4 0a2.7 2.7 0 1 0 -5.4 0M409.8 424.6a2.7 2.7 0 1 0 5.4 0a2.7 2.7 0 1 0 -5.4 0M412.9 295.2a2.7 2.7 0 1 0 5.4 0a2.7 2.7 0 1 0 -5.4 0M412.8 434.5a2.7 2.7 0 1 0 5.4 0a2.7 2.7 0 1 0 -5.4 0M416.6 300.4a2.7 2.7 0 1 0 5.4 0a2.7 2.7 0 1 0 -5.4 0M416.9 417.3a2.7 2.7 0 1 0 5.4 0a2.7 2.7 0 1 0 -5.4 0M419.6 333.1a2.7 2.7 0 1 0 5.4 0a2.7 2.7 0 1 0 -5.4 0M419.8 418.2a2.7 2.7 0 1 0 5.4 0a2.7 2.7 0 1 0 -5.4 0M421.0 345.9a2.7 2.7 0 1 0 5.4 0a2.7 2.7 0 1 0 -5.4 0M420.8 417.9a2.7 2.7 0 1 0 5.4 0a2.7 2.7 0 1 0 -5.4 0M424.6 351.8a2.7 2.7 0 1 0 5.4 0a2.7 2.7 0 1 0 -5.4 0M424.3 418.4a2.7 2.7 0 1 0 5.4 0a2.7 2.7 0 1 0 -5.4 0M429.1 332.7a2.7 2.7 0 1 0 5.4 0a2.7 2.7 0 1 0 -5.4 0M429.7 415.3a2.7 2.7 0 1 0 5.4 0a2.7 2.7 0 1 0 -5.4 0M430.5 321.2a2.7 2.7 0 1 0 5.4 0a2.7 2.7 0 1 0 -5.4 0M431.1 415.4a2.7 2.7 0 1 0 5.4 0a2.7 2.7 0 1 0 -5.4 0M433.2 301.0a2.7 2.7 0 1 0 5.4 0a2.7 2.7 0 1 0 -5.4 0M432.9 413.7a2.7 2.7 0 1 0 5.4 0a2.7 2.7 0 1 0 -5.4 0M436.9 287.2a2.7 2.7 0 1 0 5.4 0a2.7 2.7 0 1 0 -5.4 0M436.8 405.8a2.7 2.7 0 1 0 5.4 0a2.7 2.7 0 1 0 -5.4 0M439.1 282.8a2.7 2.7 0 1 0 5.4 0a2.7 2.7 0 1 0 -5.4 0M439.9 405.8a2.7 2.7 0 1 0 5.4 0a2.7 2.7 0 1 0 -5.4 0M443.5 280.7a2.7 2.7 0 1 0 5.4 0a2.7 2.7 0 1 0 -5.4 0M443.8 405.2a2.7 2.7 0 1 0 5.4 0a2.7 2.7 0 1 0 -5.4 0M446.2 277.8a2.7 2.7 0 1 0 5.4 0a2.7 2.7 0 1 0 -5.4 0M446.6 389.2a2.7 2.7 0 1 0 5.4 0a2.7 2.7 0 1 0 -5.4 0M449.2 277.4a2.7 2.7 0 1 0 5.4 0a2.7 2.7 0 1 0 -5.4 0M449.9 383.1a2.7 2.7 0 1 0 5.4 0a2.7 2.7 0 1 0 -5.4 0M451.4 280.1a2.7 2.7 0 1 0 5.4 0a2.7 2.7 0 1 0 -5.4 0M451.8 379.3a2.7 2.7 0 1 0 5.4 0a2.7 2.7 0 1 0 -5.4 0M454.0 281.2a2.7 2.7 0 1 0 5.4 0a2.7 2.7 0 1 0 -5.4 0M453.9 378.2a2.7 2.7 0 1 0 5.4 0a2.7 2.7 0 1 0 -5.4 0M457.0 278.4a2.7 2.7 0 1 0 5.4 0a2.7 2.7 0 1 0 -5.4 0M457.8 374.7a2.7 2.7 0 1 0 5.4 0a2.7 2.7 0 1 0 -5.4 0M461.8 269.7a2.7 2.7 0 1 0 5.4 0a2.7 2.7 0 1 0 -5.4 0M461.4 370.8a2.7 2.7 0 1 0 5.4 0a2.7 2.7 0 1 0 -5.4 0M464.7 261.6a2.7 2.7 0 1 0 5.4 0a2.7 2.7 0 1 0 -5.4 0M464.7 368.6a2.7 2.7 0 1 0 5.4 0a2.7 2.7 0 1 0 -5.4 0M469.4 278.3a2.7 2.7 0 1 0 5.4 0a2.7 2.7 0 1 0 -5.4 0M469.5 366.4a2.7 2.7 0 1 0 5.4 0a2.7 2.7 0 1 0 -5.4 0M473.4 288.0a2.7 2.7 0 1 0 5.4 0a2.7 2.7 0 1 0 -5.4 0M473.3 369.9a2.7 2.7 0 1 0 5.4 0a2.7 2.7 0 1 0 -5.4 0M476.7 291.1a2.7 2.7 0 1 0 5.4 0a2.7 2.7 0 1 0 -5.4 0M476.2 374.2a2.7 2.7 0 1 0 5.4 0a2.7 2.7 0 1 0 -5.4 0M480.4 280.0a2.7 2.7 0 1 0 5.4 0a2.7 2.7 0 1 0 -5.4 0M480.4 368.1a2.7 2.7 0 1 0 5.4 0a2.7 2.7 0 1 0 -5.4 0M482.6 271.5a2.7 2.7 0 1 0 5.4 0a2.7 2.7 0 1 0 -5.4 0M482.6 361.3a2.7 2.7 0 1 0 5.4 0a2.7 2.7 0 1 0 -5.4 0M483.9 262.5a2.7 2.7 0 1 0 5.4 0a2.7 2.7 0 1 0 -5.4 0M483.7 352.8a2.7 2.7 0 1 0 5.4 0a2.7 2.7 0 1 0 -5.4 0M487.3 265.0a2.7 2.7 0 1 0 5.4 0a2.7 2.7 0 1 0 -5.4 0M487.7 343.8a2.7 2.7 0 1 0 5.4 0a2.7 2.7 0 1 0 -5.4 0M493.5 278.1a2.7 2.7 0 1 0 5.4 0a2.7 2.7 0 1 0 -5.4 0M493.4 338.0a2.7 2.7 0 1 0 5.4 0a2.7 2.7 0 1 0 -5.4 0M496.0 281.1a2.7 2.7 0 1 0 5.4 0a2.7 2.7 0 1 0 -5.4 0M495.7 335.8a2.7 2.7 0 1 0 5.4 0a2.7 2.7 0 1 0 -5.4 0M497.6 278.3a2.7 2.7 0 1 0 5.4 0a2.7 2.7 0 1 0 -5.4 0M497.8 334.7a2.7 2.7 0 1 0 5.4 0a2.7 2.7 0 1 0 -5.4 0M501.4 271.5a2.7 2.7 0 1 0 5.4 0a2.7 2.7 0 1 0 -5.4 0M500.9 330.2a2.7 2.7 0 1 0 5.4 0a2.7 2.7 0 1 0 -5.4 0M503.7 267.5a2.7 2.7 0 1 0 5.4 0a2.7 2.7 0 1 0 -5.4 0M503.1 324.7a2.7 2.7 0 1 0 5.4 0a2.7 2.7 0 1 0 -5.4 0M506.5 263.0a2.7 2.7 0 1 0 5.4 0a2.7 2.7 0 1 0 -5.4 0M506.7 318.6a2.7 2.7 0 1 0 5.4 0a2.7 2.7 0 1 0 -5.4 0M509.0 261.7a2.7 2.7 0 1 0 5.4 0a2.7 2.7 0 1 0 -5.4 0M509.2 311.9a2.7 2.7 0 1 0 5.4 0a2.7 2.7 0 1 0 -5.4 0M512.7 257.9a2.7 2.7 0 1 0 5.4 0a2.7 2.7 0 1 0 -5.4 0M513.4 307.2a2.7 2.7 0 1 0 5.4 0a2.7 2.7 0 1 0 -5.4 0M514.6 257.3a2.7 2.7 0 1 0 5.4 0a2.7 2.7 0 1 0 -5.4 0M515.3 306.1a2.7 2.7 0 1 0 5.4 0a2.7 2.7 0 1 0 -5.4 0M517.7 256.6a2.7 2.7 0 1 0 5.4 0a2.7 2.7 0 1 0 -5.4 0M517.3 305.3a2.7 2.7 0 1 0 5.4 0a2.7 2.7 0 1 0 -5.4 0M520.2 253.5a2.7 2.7 0 1 0 5.4 0a2.7 2.7 0 1 0 -5.4 0M520.0 302.9a2.7 2.7 0 1 0 5.4 0a2.7 2.7 0 1 0 -5.4 0M524.9 248.9a2.7 2.7 0 1 0 5.4 0a2.7 2.7 0 1 0 -5.4 0M525.4 302.7a2.7 2.7 0 1 0 5.4 0a2.7 2.7 0 1 0 -5.4 0M528.7 225.1a2.7 2.7 0 1 0 5.4 0a2.7 2.7 0 1 0 -5.4 0M529.3 294.1a2.7 2.7 0 1 0 5.4 0a2.7 2.7 0 1 0 -5.4 0M532.1 226.1a2.7 2.7 0 1 0 5.4 0a2.7 2.7 0 1 0 -5.4 0M531.9 296.9a2.7 2.7 0 1 0 5.4 0a2.7 2.7 0 1 0 -5.4 0M534.4 230.6a2.7 2.7 0 1 0 5.4 0a2.7 2.7 0 1 0 -5.4 0M533.8 301.0a2.7 2.7 0 1 0 5.4 0a2.7 2.7 0 1 0 -5.4 0M536.9 255.0a2.7 2.7 0 1 0 5.4 0a2.7 2.7 0 1 0 -5.4 0M536.8 314.8a2.7 2.7 0 1 0 5.4 0a2.7 2.7 0 1 0 -5.4 0M540.0 277.6a2.7 2.7 0 1 0 5.4 0a2.7 2.7 0 1 0 -5.4 0M540.1 325.5a2.7 2.7 0 1 0 5.4 0a2.7 2.7 0 1 0 -5.4 0M540.9 285.4a2.7 2.7 0 1 0 5.4 0a2.7 2.7 0 1 0 -5.4 0M541.4 332.0a2.7 2.7 0 1 0 5.4 0a2.7 2.7 0 1 0 -5.4 0M546.2 264.0a2.7 2.7 0 1 0 5.4 0a2.7 2.7 0 1 0 -5.4 0M546.2 324.9a2.7 2.7 0 1 0 5.4 0a2.7 2.7 0 1 0 -5.4 0M547.4 248.5a2.7 2.7 0 1 0 5.4 0a2.7 2.7 0 1 0 -5.4 0M548.1 318.1a2.7 2.7 0 1 0 5.4 0a2.7 2.7 0 1 0 -5.4 0M554.9 228.2a2.7 2.7 0 1 0 5.4 0a2.7 2.7 0 1 0 -5.4 0M555.5 291.4a2.7 2.7 0 1 0 5.4 0a2.7 2.7 0 1 0 -5.4 0M556.0 228.2a2.7 2.7 0 1 0 5.4 0a2.7 2.7 0 1 0 -5.4 0M556.3 288.8a2.7 2.7 0 1 0 5.4 0a2.7 2.7 0 1 0 -5.4 0M558.2 229.1a2.7 2.7 0 1 0 5.4 0a2.7 2.7 0 1 0 -5.4 0M557.9 285.9a2.7 2.7 0 1 0 5.4 0a2.7 2.7 0 1 0 -5.4 0M563.3 236.8a2.7 2.7 0 1 0 5.4 0a2.7 2.7 0 1 0 -5.4 0M562.5 289.3a2.7 2.7 0 1 0 5.4 0a2.7 2.7 0 1 0 -5.4 0M566.3 251.1a2.7 2.7 0 1 0 5.4 0a2.7 2.7 0 1 0 -5.4 0M566.9 298.1a2.7 2.7 0 1 0 5.4 0a2.7 2.7 0 1 0 -5.4 0M568.0 254.5a2.7 2.7 0 1 0 5.4 0a2.7 2.7 0 1 0 -5.4 0M567.3 300.8a2.7 2.7 0 1 0 5.4 0a2.7 2.7 0 1 0 -5.4 0M569.9 263.7a2.7 2.7 0 1 0 5.4 0a2.7 2.7 0 1 0 -5.4 0M570.4 310.8a2.7 2.7 0 1 0 5.4 0a2.7 2.7 0 1 0 -5.4 0M574.8 275.6a2.7 2.7 0 1 0 5.4 0a2.7 2.7 0 1 0 -5.4 0M574.1 322.7a2.7 2.7 0 1 0 5.4 0a2.7 2.7 0 1 0 -5.4 0M578.7 276.8a2.7 2.7 0 1 0 5.4 0a2.7 2.7 0 1 0 -5.4 0M578.0 319.1a2.7 2.7 0 1 0 5.4 0a2.7 2.7 0 1 0 -5.4 0M580.0 275.1a2.7 2.7 0 1 0 5.4 0a2.7 2.7 0 1 0 -5.4 0M579.9 315.1a2.7 2.7 0 1 0 5.4 0a2.7 2.7 0 1 0 -5.4 0M583.3 269.3a2.7 2.7 0 1 0 5.4 0a2.7 2.7 0 1 0 -5.4 0M582.8 311.5a2.7 2.7 0 1 0 5.4 0a2.7 2.7 0 1 0 -5.4 0M584.7 264.8a2.7 2.7 0 1 0 5.4 0a2.7 2.7 0 1 0 -5.4 0M584.1 309.9a2.7 2.7 0 1 0 5.4 0a2.7 2.7 0 1 0 -5.4 0M586.2 259.5a2.7 2.7 0 1 0 5.4 0a2.7 2.7 0 1 0 -5.4 0M586.7 309.7a2.7 2.7 0 1 0 5.4 0a2.7 2.7 0 1 0 -5.4 0M591.5 254.1a2.7 2.7 0 1 0 5.4 0a2.7 2.7 0 1 0 -5.4 0M590.8 308.8a2.7 2.7 0 1 0 5.4 0a2.7 2.7 0 1 0 -5.4 0M591.4 253.0a2.7 2.7 0 1 0 5.4 0a2.7 2.7 0 1 0 -5.4 0M591.3 308.4a2.7 2.7 0 1 0 5.4 0a2.7 2.7 0 1 0 -5.4 0M594.9 249.1a2.7 2.7 0 1 0 5.4 0a2.7 2.7 0 1 0 -5.4 0M595.0 307.2a2.7 2.7 0 1 0 5.4 0a2.7 2.7 0 1 0 -5.4 0M597.6 249.5a2.7 2.7 0 1 0 5.4 0a2.7 2.7 0 1 0 -5.4 0M597.7 309.8a2.7 2.7 0 1 0 5.4 0a2.7 2.7 0 1 0 -5.4 0M600.0 248.2a2.7 2.7 0 1 0 5.4 0a2.7 2.7 0 1 0 -5.4 0M599.5 311.8a2.7 2.7 0 1 0 5.4 0a2.7 2.7 0 1 0 -5.4 0M602.1 249.0a2.7 2.7 0 1 0 5.4 0a2.7 2.7 0 1 0 -5.4 0M601.6 313.2a2.7 2.7 0 1 0 5.4 0a2.7 2.7 0 1 0 -5.4 0M606.4 248.3a2.7 2.7 0 1 0 5.4 0a2.7 2.7 0 1 0 -5.4 0M606.7 311.4a2.7 2.7 0 1 0 5.4 0a2.7 2.7 0 1 0 -5.4 0M608.6 248.7a2.7 2.7 0 1 0 5.4 0a2.7 2.7 0 1 0 -5.4 0M609.3 307.8a2.7 2.7 0 1 0 5.4 0a2.7 2.7 0 1 0 -5.4 0M610.9 248.4a2.7 2.7 0 1 0 5.4 0a2.7 2.7 0 1 0 -5.4 0M611.0 306.2a2.7 2.7 0 1 0 5.4 0a2.7 2.7 0 1 0 -5.4 0M614.1 249.7a2.7 2.7 0 1 0 5.4 0a2.7 2.7 0 1 0 -5.4 0M613.9 301.5a2.7 2.7 0 1 0 5.4 0a2.7 2.7 0 1 0 -5.4 0M615.0 249.4a2.7 2.7 0 1 0 5.4 0a2.7 2.7 0 1 0 -5.4 0M615.7 301.3a2.7 2.7 0 1 0 5.4 0a2.7 2.7 0 1 0 -5.4 0M618.3 248.2a2.7 2.7 0 1 0 5.4 0a2.7 2.7 0 1 0 -5.4 0M618.1 297.3a2.7 2.7 0 1 0 5.4 0a2.7 2.7 0 1 0 -5.4 0M619.5 249.0a2.7 2.7 0 1 0 5.4 0a2.7 2.7 0 1 0 -5.4 0M619.9 295.1a2.7 2.7 0 1 0 5.4 0a2.7 2.7 0 1 0 -5.4 0M621.7 249.2a2.7 2.7 0 1 0 5.4 0a2.7 2.7 0 1 0 -5.4 0M621.5 292.2a2.7 2.7 0 1 0 5.4 0a2.7 2.7 0 1 0 -5.4 0M625.2 250.0a2.7 2.7 0 1 0 5.4 0a2.7 2.7 0 1 0 -5.4 0M624.5 290.1a2.7 2.7 0 1 0 5.4 0a2.7 2.7 0 1 0 -5.4 0M628.0 251.2a2.7 2.7 0 1 0 5.4 0a2.7 2.7 0 1 0 -5.4 0M627.5 287.4a2.7 2.7 0 1 0 5.4 0a2.7 2.7 0 1 0 -5.4 0M631.2 251.1a2.7 2.7 0 1 0 5.4 0a2.7 2.7 0 1 0 -5.4 0M631.1 284.3a2.7 2.7 0 1 0 5.4 0a2.7 2.7 0 1 0 -5.4 0M632.9 251.2a2.7 2.7 0 1 0 5.4 0a2.7 2.7 0 1 0 -5.4 0M632.8 284.2a2.7 2.7 0 1 0 5.4 0a2.7 2.7 0 1 0 -5.4 0M637.1 250.9a2.7 2.7 0 1 0 5.4 0a2.7 2.7 0 1 0 -5.4 0M637.4 284.8a2.7 2.7 0 1 0 5.4 0a2.7 2.7 0 1 0 -5.4 0M637.6 251.3a2.7 2.7 0 1 0 5.4 0a2.7 2.7 0 1 0 -5.4 0M637.5 284.4a2.7 2.7 0 1 0 5.4 0a2.7 2.7 0 1 0 -5.4 0M641.9 238.3a2.7 2.7 0 1 0 5.4 0a2.7 2.7 0 1 0 -5.4 0M641.5 284.1a2.7 2.7 0 1 0 5.4 0a2.7 2.7 0 1 0 -5.4 0M644.3 233.1a2.7 2.7 0 1 0 5.4 0a2.7 2.7 0 1 0 -5.4 0M644.0 284.5a2.7 2.7 0 1 0 5.4 0a2.7 2.7 0 1 0 -5.4 0M645.7 228.8a2.7 2.7 0 1 0 5.4 0a2.7 2.7 0 1 0 -5.4 0M646.1 282.5a2.7 2.7 0 1 0 5.4 0a2.7 2.7 0 1 0 -5.4 0M647.6 227.1a2.7 2.7 0 1 0 5.4 0a2.7 2.7 0 1 0 -5.4 0M648.1 282.9a2.7 2.7 0 1 0 5.4 0a2.7 2.7 0 1 0 -5.4 0M650.7 222.9a2.7 2.7 0 1 0 5.4 0a2.7 2.7 0 1 0 -5.4 0M650.2 281.4a2.7 2.7 0 1 0 5.4 0a2.7 2.7 0 1 0 -5.4 0M654.8 212.2a2.7 2.7 0 1 0 5.4 0a2.7 2.7 0 1 0 -5.4 0M655.0 277.9a2.7 2.7 0 1 0 5.4 0a2.7 2.7 0 1 0 -5.4 0M655.8 209.1a2.7 2.7 0 1 0 5.4 0a2.7 2.7 0 1 0 -5.4 0M655.4 277.7a2.7 2.7 0 1 0 5.4 0a2.7 2.7 0 1 0 -5.4 0M659.4 197.2a2.7 2.7 0 1 0 5.4 0a2.7 2.7 0 1 0 -5.4 0M659.7 277.5a2.7 2.7 0 1 0 5.4 0a2.7 2.7 0 1 0 -5.4 0M660.8 194.1a2.7 2.7 0 1 0 5.4 0a2.7 2.7 0 1 0 -5.4 0M661.4 276.5a2.7 2.7 0 1 0 5.4 0a2.7 2.7 0 1 0 -5.4 0M662.9 191.8a2.7 2.7 0 1 0 5.4 0a2.7 2.7 0 1 0 -5.4 0M662.4 276.3a2.7 2.7 0 1 0 5.4 0a2.7 2.7 0 1 0 -5.4 0M665.9 185.8a2.7 2.7 0 1 0 5.4 0a2.7 2.7 0 1 0 -5.4 0M665.9 276.7a2.7 2.7 0 1 0 5.4 0a2.7 2.7 0 1 0 -5.4 0M670.9 176.2a2.7 2.7 0 1 0 5.4 0a2.7 2.7 0 1 0 -5.4 0M671.0 273.3a2.7 2.7 0 1 0 5.4 0a2.7 2.7 0 1 0 -5.4 0M674.2 174.2a2.7 2.7 0 1 0 5.4 0a2.7 2.7 0 1 0 -5.4 0M674.7 271.9a2.7 2.7 0 1 0 5.4 0a2.7 2.7 0 1 0 -5.4 0M680.1 184.1a2.7 2.7 0 1 0 5.4 0a2.7 2.7 0 1 0 -5.4 0M679.5 271.5a2.7 2.7 0 1 0 5.4 0a2.7 2.7 0 1 0 -5.4 0M680.7 186.7a2.7 2.7 0 1 0 5.4 0a2.7 2.7 0 1 0 -5.4 0M680.7 271.6a2.7 2.7 0 1 0 5.4 0a2.7 2.7 0 1 0 -5.4 0M686.0 191.0a2.7 2.7 0 1 0 5.4 0a2.7 2.7 0 1 0 -5.4 0M686.1 270.5a2.7 2.7 0 1 0 5.4 0a2.7 2.7 0 1 0 -5.4 0M691.4 190.6a2.7 2.7 0 1 0 5.4 0a2.7 2.7 0 1 0 -5.4 0M691.4 270.0a2.7 2.7 0 1 0 5.4 0a2.7 2.7 0 1 0 -5.4 0M694.9 197.0a2.7 2.7 0 1 0 5.4 0a2.7 2.7 0 1 0 -5.4 0M695.7 269.5a2.7 2.7 0 1 0 5.4 0a2.7 2.7 0 1 0 -5.4 0M697.7 201.5a2.7 2.7 0 1 0 5.4 0a2.7 2.7 0 1 0 -5.4 0M698.0 269.5a2.7 2.7 0 1 0 5.4 0a2.7 2.7 0 1 0 -5.4 0M700.6 207.6a2.7 2.7 0 1 0 5.4 0a2.7 2.7 0 1 0 -5.4 0M701.4 273.2a2.7 2.7 0 1 0 5.4 0a2.7 2.7 0 1 0 -5.4 0M702.3 208.9a2.7 2.7 0 1 0 5.4 0a2.7 2.7 0 1 0 -5.4 0M702.4 273.7a2.7 2.7 0 1 0 5.4 0a2.7 2.7 0 1 0 -5.4 0M705.4 218.5a2.7 2.7 0 1 0 5.4 0a2.7 2.7 0 1 0 -5.4 0M706.2 278.0a2.7 2.7 0 1 0 5.4 0a2.7 2.7 0 1 0 -5.4 0M706.9 220.8a2.7 2.7 0 1 0 5.4 0a2.7 2.7 0 1 0 -5.4 0M706.5 279.6a2.7 2.7 0 1 0 5.4 0a2.7 2.7 0 1 0 -5.4 0M709.6 226.0a2.7 2.7 0 1 0 5.4 0a2.7 2.7 0 1 0 -5.4 0M709.6 282.3a2.7 2.7 0 1 0 5.4 0a2.7 2.7 0 1 0 -5.4 0M713.0 224.7a2.7 2.7 0 1 0 5.4 0a2.7 2.7 0 1 0 -5.4 0M713.5 282.7a2.7 2.7 0 1 0 5.4 0a2.7 2.7 0 1 0 -5.4 0M716.2 224.1a2.7 2.7 0 1 0 5.4 0a2.7 2.7 0 1 0 -5.4 0M716.6 284.0a2.7 2.7 0 1 0 5.4 0a2.7 2.7 0 1 0 -5.4 0M719.2 223.0a2.7 2.7 0 1 0 5.4 0a2.7 2.7 0 1 0 -5.4 0M719.4 284.7a2.7 2.7 0 1 0 5.4 0a2.7 2.7 0 1 0 -5.4 0M721.4 223.5a2.7 2.7 0 1 0 5.4 0a2.7 2.7 0 1 0 -5.4 0M721.5 284.9a2.7 2.7 0 1 0 5.4 0a2.7 2.7 0 1 0 -5.4 0M721.9 223.0a2.7 2.7 0 1 0 5.4 0a2.7 2.7 0 1 0 -5.4 0M722.0 285.3a2.7 2.7 0 1 0 5.4 0a2.7 2.7 0 1 0 -5.4 0M725.6 224.6a2.7 2.7 0 1 0 5.4 0a2.7 2.7 0 1 0 -5.4 0M725.3 284.9a2.7 2.7 0 1 0 5.4 0a2.7 2.7 0 1 0 -5.4 0M725.6 223.7a2.7 2.7 0 1 0 5.4 0a2.7 2.7 0 1 0 -5.4 0M726.2 284.2a2.7 2.7 0 1 0 5.4 0a2.7 2.7 0 1 0 -5.4 0M730.7 226.3a2.7 2.7 0 1 0 5.4 0a2.7 2.7 0 1 0 -5.4 0M730.1 281.8a2.7 2.7 0 1 0 5.4 0a2.7 2.7 0 1 0 -5.4 0M731.5 229.3a2.7 2.7 0 1 0 5.4 0a2.7 2.7 0 1 0 -5.4 0M731.6 281.8a2.7 2.7 0 1 0 5.4 0a2.7 2.7 0 1 0 -5.4 0M736.0 234.8a2.7 2.7 0 1 0 5.4 0a2.7 2.7 0 1 0 -5.4 0M735.7 279.4a2.7 2.7 0 1 0 5.4 0a2.7 2.7 0 1 0 -5.4 0M739.7 233.6a2.7 2.7 0 1 0 5.4 0a2.7 2.7 0 1 0 -5.4 0M739.9 278.4a2.7 2.7 0 1 0 5.4 0a2.7 2.7 0 1 0 -5.4 0M741.8 231.1a2.7 2.7 0 1 0 5.4 0a2.7 2.7 0 1 0 -5.4 0M742.0 277.9a2.7 2.7 0 1 0 5.4 0a2.7 2.7 0 1 0 -5.4 0M744.2 224.4a2.7 2.7 0 1 0 5.4 0a2.7 2.7 0 1 0 -5.4 0M744.7 278.0a2.7 2.7 0 1 0 5.4 0a2.7 2.7 0 1 0 -5.4 0M749.0 222.5a2.7 2.7 0 1 0 5.4 0a2.7 2.7 0 1 0 -5.4 0M749.3 274.8a2.7 2.7 0 1 0 5.4 0a2.7 2.7 0 1 0 -5.4 0M753.5 229.1a2.7 2.7 0 1 0 5.4 0a2.7 2.7 0 1 0 -5.4 0M753.8 270.8a2.7 2.7 0 1 0 5.4 0a2.7 2.7 0 1 0 -5.4 0M754.7 228.7a2.7 2.7 0 1 0 5.4 0a2.7 2.7 0 1 0 -5.4 0M754.5 269.3a2.7 2.7 0 1 0 5.4 0a2.7 2.7 0 1 0 -5.4 0M756.9 234.1a2.7 2.7 0 1 0 5.4 0a2.7 2.7 0 1 0 -5.4 0M757.2 272.6a2.7 2.7 0 1 0 5.4 0a2.7 2.7 0 1 0 -5.4 0M762.2 230.6a2.7 2.7 0 1 0 5.4 0a2.7 2.7 0 1 0 -5.4 0M762.3 273.9a2.7 2.7 0 1 0 5.4 0a2.7 2.7 0 1 0 -5.4 0M765.8 224.6a2.7 2.7 0 1 0 5.4 0a2.7 2.7 0 1 0 -5.4 0M765.0 271.8a2.7 2.7 0 1 0 5.4 0a2.7 2.7 0 1 0 -5.4 0M768.6 232.3a2.7 2.7 0 1 0 5.4 0a2.7 2.7 0 1 0 -5.4 0M768.6 276.9a2.7 2.7 0 1 0 5.4 0a2.7 2.7 0 1 0 -5.4 0M769.6 233.9a2.7 2.7 0 1 0 5.4 0a2.7 2.7 0 1 0 -5.4 0M769.7 277.1a2.7 2.7 0 1 0 5.4 0a2.7 2.7 0 1 0 -5.4 0M774.3 239.3a2.7 2.7 0 1 0 5.4 0a2.7 2.7 0 1 0 -5.4 0M773.7 275.4a2.7 2.7 0 1 0 5.4 0a2.7 2.7 0 1 0 -5.4 0M776.4 242.5a2.7 2.7 0 1 0 5.4 0a2.7 2.7 0 1 0 -5.4 0M775.9 274.2a2.7 2.7 0 1 0 5.4 0a2.7 2.7 0 1 0 -5.4 0M780.7 253.0a2.7 2.7 0 1 0 5.4 0a2.7 2.7 0 1 0 -5.4 0M780.5 273.0a2.7 2.7 0 1 0 5.4 0a2.7 2.7 0 1 0 -5.4 0M782.1 253.4a2.7 2.7 0 1 0 5.4 0a2.7 2.7 0 1 0 -5.4 0M782.1 272.6a2.7 2.7 0 1 0 5.4 0a2.7 2.7 0 1 0 -5.4 0M786.9 252.0a2.7 2.7 0 1 0 5.4 0a2.7 2.7 0 1 0 -5.4 0M787.5 269.9a2.7 2.7 0 1 0 5.4 0a2.7 2.7 0 1 0 -5.4 0M789.4 251.1a2.7 2.7 0 1 0 5.4 0a2.7 2.7 0 1 0 -5.4 0M789.2 270.5a2.7 2.7 0 1 0 5.4 0a2.7 2.7 0 1 0 -5.4 0M792.2 246.6a2.7 2.7 0 1 0 5.4 0a2.7 2.7 0 1 0 -5.4 0M792.1 272.7a2.7 2.7 0 1 0 5.4 0a2.7 2.7 0 1 0 -5.4 0M793.1 244.9a2.7 2.7 0 1 0 5.4 0a2.7 2.7 0 1 0 -5.4 0M793.0 273.1a2.7 2.7 0 1 0 5.4 0a2.7 2.7 0 1 0 -5.4 0M795.2 242.3a2.7 2.7 0 1 0 5.4 0a2.7 2.7 0 1 0 -5.4 0M796.1 276.0a2.7 2.7 0 1 0 5.4 0a2.7 2.7 0 1 0 -5.4 0M798.4 247.2a2.7 2.7 0 1 0 5.4 0a2.7 2.7 0 1 0 -5.4 0M799.0 279.2a2.7 2.7 0 1 0 5.4 0a2.7 2.7 0 1 0 -5.4 0M804.1 252.5a2.7 2.7 0 1 0 5.4 0a2.7 2.7 0 1 0 -5.4 0M803.9 281.3a2.7 2.7 0 1 0 5.4 0a2.7 2.7 0 1 0 -5.4 0M807.7 255.6a2.7 2.7 0 1 0 5.4 0a2.7 2.7 0 1 0 -5.4 0M807.0 277.4a2.7 2.7 0 1 0 5.4 0a2.7 2.7 0 1 0 -5.4 0M811.4 253.1a2.7 2.7 0 1 0 5.4 0a2.7 2.7 0 1 0 -5.4 0M810.6 282.0a2.7 2.7 0 1 0 5.4 0a2.7 2.7 0 1 0 -5.4 0M811.7 254.4a2.7 2.7 0 1 0 5.4 0a2.7 2.7 0 1 0 -5.4 0M811.4 281.0a2.7 2.7 0 1 0 5.4 0a2.7 2.7 0 1 0 -5.4 0M816.0 247.8a2.7 2.7 0 1 0 5.4 0a2.7 2.7 0 1 0 -5.4 0M815.8 290.6a2.7 2.7 0 1 0 5.4 0a2.7 2.7 0 1 0 -5.4 0M817.6 246.9a2.7 2.7 0 1 0 5.4 0a2.7 2.7 0 1 0 -5.4 0M817.3 295.8a2.7 2.7 0 1 0 5.4 0a2.7 2.7 0 1 0 -5.4 0M820.8 250.9a2.7 2.7 0 1 0 5.4 0a2.7 2.7 0 1 0 -5.4 0M820.4 298.4a2.7 2.7 0 1 0 5.4 0a2.7 2.7 0 1 0 -5.4 0M824.0 255.4a2.7 2.7 0 1 0 5.4 0a2.7 2.7 0 1 0 -5.4 0M823.2 308.1a2.7 2.7 0 1 0 5.4 0a2.7 2.7 0 1 0 -5.4 0M826.3 257.3a2.7 2.7 0 1 0 5.4 0a2.7 2.7 0 1 0 -5.4 0M826.3 318.6a2.7 2.7 0 1 0 5.4 0a2.7 2.7 0 1 0 -5.4 0M828.4 259.4a2.7 2.7 0 1 0 5.4 0a2.7 2.7 0 1 0 -5.4 0M828.4 328.1a2.7 2.7 0 1 0 5.4 0a2.7 2.7 0 1 0 -5.4 0M829.8 264.7a2.7 2.7 0 1 0 5.4 0a2.7 2.7 0 1 0 -5.4 0M830.6 336.4a2.7 2.7 0 1 0 5.4 0a2.7 2.7 0 1 0 -5.4 0M833.9 233.4a2.7 2.7 0 1 0 5.4 0a2.7 2.7 0 1 0 -5.4 0M833.6 304.9a2.7 2.7 0 1 0 5.4 0a2.7 2.7 0 1 0 -5.4 0M836.4 230.1a2.7 2.7 0 1 0 5.4 0a2.7 2.7 0 1 0 -5.4 0M836.5 294.0a2.7 2.7 0 1 0 5.4 0a2.7 2.7 0 1 0 -5.4 0M838.5 233.1a2.7 2.7 0 1 0 5.4 0a2.7 2.7 0 1 0 -5.4 0M837.9 291.1a2.7 2.7 0 1 0 5.4 0a2.7 2.7 0 1 0 -5.4 0M840.8 236.0a2.7 2.7 0 1 0 5.4 0a2.7 2.7 0 1 0 -5.4 0M840.8 288.8a2.7 2.7 0 1 0 5.4 0a2.7 2.7 0 1 0 -5.4 0M843.7 236.6a2.7 2.7 0 1 0 5.4 0a2.7 2.7 0 1 0 -5.4 0M844.2 286.7a2.7 2.7 0 1 0 5.4 0a2.7 2.7 0 1 0 -5.4 0M847.3 236.9a2.7 2.7 0 1 0 5.4 0a2.7 2.7 0 1 0 -5.4 0M847.5 282.3a2.7 2.7 0 1 0 5.4 0a2.7 2.7 0 1 0 -5.4 0M849.2 238.3a2.7 2.7 0 1 0 5.4 0a2.7 2.7 0 1 0 -5.4 0M849.1 282.4a2.7 2.7 0 1 0 5.4 0a2.7 2.7 0 1 0 -5.4 0M852.2 236.9a2.7 2.7 0 1 0 5.4 0a2.7 2.7 0 1 0 -5.4 0M852.1 281.3a2.7 2.7 0 1 0 5.4 0a2.7 2.7 0 1 0 -5.4 0M853.6 235.5a2.7 2.7 0 1 0 5.4 0a2.7 2.7 0 1 0 -5.4 0M854.1 279.5a2.7 2.7 0 1 0 5.4 0a2.7 2.7 0 1 0 -5.4 0M856.3 233.7a2.7 2.7 0 1 0 5.4 0a2.7 2.7 0 1 0 -5.4 0M856.4 279.4a2.7 2.7 0 1 0 5.4 0a2.7 2.7 0 1 0 -5.4 0M861.7 232.8a2.7 2.7 0 1 0 5.4 0a2.7 2.7 0 1 0 -5.4 0M861.0 275.7a2.7 2.7 0 1 0 5.4 0a2.7 2.7 0 1 0 -5.4 0M866.4 188.4a2.7 2.7 0 1 0 5.4 0a2.7 2.7 0 1 0 -5.4 0M865.7 272.7a2.7 2.7 0 1 0 5.4 0a2.7 2.7 0 1 0 -5.4 0M867.6 145.4a2.7 2.7 0 1 0 5.4 0a2.7 2.7 0 1 0 -5.4 0M867.5 271.2a2.7 2.7 0 1 0 5.4 0a2.7 2.7 0 1 0 -5.4 0M871.2 92.0a2.7 2.7 0 1 0 5.4 0a2.7 2.7 0 1 0 -5.4 0M871.4 269.7a2.7 2.7 0 1 0 5.4 0a2.7 2.7 0 1 0 -5.4 0M872.5 92.3a2.7 2.7 0 1 0 5.4 0a2.7 2.7 0 1 0 -5.4 0M872.2 271.0a2.7 2.7 0 1 0 5.4 0a2.7 2.7 0 1 0 -5.4 0M874.2 91.3a2.7 2.7 0 1 0 5.4 0a2.7 2.7 0 1 0 -5.4 0M873.8 276.2a2.7 2.7 0 1 0 5.4 0a2.7 2.7 0 1 0 -5.4 0M876.2 102.5a2.7 2.7 0 1 0 5.4 0a2.7 2.7 0 1 0 -5.4 0M876.5 284.5a2.7 2.7 0 1 0 5.4 0a2.7 2.7 0 1 0 -5.4 0M879.2 143.2a2.7 2.7 0 1 0 5.4 0a2.7 2.7 0 1 0 -5.4 0M879.4 287.8a2.7 2.7 0 1 0 5.4 0a2.7 2.7 0 1 0 -5.4 0M882.3 162.7a2.7 2.7 0 1 0 5.4 0a2.7 2.7 0 1 0 -5.4 0M882.0 234.4a2.7 2.7 0 1 0 5.4 0a2.7 2.7 0 1 0 -5.4 0M883.4 171.0a2.7 2.7 0 1 0 5.4 0a2.7 2.7 0 1 0 -5.4 0M884.0 210.7a2.7 2.7 0 1 0 5.4 0a2.7 2.7 0 1 0 -5.4 0M887.3 174.2a2.7 2.7 0 1 0 5.4 0a2.7 2.7 0 1 0 -5.4 0M887.1 213.2a2.7 2.7 0 1 0 5.4 0a2.7 2.7 0 1 0 -5.4 0M888.6 177.0a2.7 2.7 0 1 0 5.4 0a2.7 2.7 0 1 0 -5.4 0M888.4 225.1a2.7 2.7 0 1 0 5.4 0a2.7 2.7 0 1 0 -5.4 0M892.2 200.8a2.7 2.7 0 1 0 5.4 0a2.7 2.7 0 1 0 -5.4 0M892.0 261.6a2.7 2.7 0 1 0 5.4 0a2.7 2.7 0 1 0 -5.4 0M894.3 174.8a2.7 2.7 0 1 0 5.4 0a2.7 2.7 0 1 0 -5.4 0M894.8 275.9a2.7 2.7 0 1 0 5.4 0a2.7 2.7 0 1 0 -5.4 0M896.9 153.9a2.7 2.7 0 1 0 5.4 0a2.7 2.7 0 1 0 -5.4 0M896.6 278.2a2.7 2.7 0 1 0 5.4 0a2.7 2.7 0 1 0 -5.4 0M897.3 154.0a2.7 2.7 0 1 0 5.4 0a2.7 2.7 0 1 0 -5.4 0M897.6 278.2a2.7 2.7 0 1 0 5.4 0a2.7 2.7 0 1 0 -5.4 0M900.8 170.9a2.7 2.7 0 1 0 5.4 0a2.7 2.7 0 1 0 -5.4 0M901.2 260.1a2.7 2.7 0 1 0 5.4 0a2.7 2.7 0 1 0 -5.4 0M905.1 179.2a2.7 2.7 0 1 0 5.4 0a2.7 2.7 0 1 0 -5.4 0M905.0 252.6a2.7 2.7 0 1 0 5.4 0a2.7 2.7 0 1 0 -5.4 0M910.2 202.1a2.7 2.7 0 1 0 5.4 0a2.7 2.7 0 1 0 -5.4 0M910.4 268.0a2.7 2.7 0 1 0 5.4 0a2.7 2.7 0 1 0 -5.4 0M911.7 204.6a2.7 2.7 0 1 0 5.4 0a2.7 2.7 0 1 0 -5.4 0M910.7 271.2a2.7 2.7 0 1 0 5.4 0a2.7 2.7 0 1 0 -5.4 0M915.1 220.5a2.7 2.7 0 1 0 5.4 0a2.7 2.7 0 1 0 -5.4 0M915.5 287.9a2.7 2.7 0 1 0 5.4 0a2.7 2.7 0 1 0 -5.4 0M918.2 217.4a2.7 2.7 0 1 0 5.4 0a2.7 2.7 0 1 0 -5.4 0M918.7 286.4a2.7 2.7 0 1 0 5.4 0a2.7 2.7 0 1 0 -5.4 0M922.7 217.7a2.7 2.7 0 1 0 5.4 0a2.7 2.7 0 1 0 -5.4 0M922.9 271.9a2.7 2.7 0 1 0 5.4 0a2.7 2.7 0 1 0 -5.4 0M925.4 221.6a2.7 2.7 0 1 0 5.4 0a2.7 2.7 0 1 0 -5.4 0M925.3 269.5a2.7 2.7 0 1 0 5.4 0a2.7 2.7 0 1 0 -5.4 0M928.5 225.6a2.7 2.7 0 1 0 5.4 0a2.7 2.7 0 1 0 -5.4 0M928.6 274.6a2.7 2.7 0 1 0 5.4 0a2.7 2.7 0 1 0 -5.4 0M932.3 225.7a2.7 2.7 0 1 0 5.4 0a2.7 2.7 0 1 0 -5.4 0M931.8 271.2a2.7 2.7 0 1 0 5.4 0a2.7 2.7 0 1 0 -5.4 0M933.1 225.5a2.7 2.7 0 1 0 5.4 0a2.7 2.7 0 1 0 -5.4 0M933.1 269.8a2.7 2.7 0 1 0 5.4 0a2.7 2.7 0 1 0 -5.4 0M935.6 225.1a2.7 2.7 0 1 0 5.4 0a2.7 2.7 0 1 0 -5.4 0M935.6 261.5a2.7 2.7 0 1 0 5.4 0a2.7 2.7 0 1 0 -5.4 0M938.7 221.7a2.7 2.7 0 1 0 5.4 0a2.7 2.7 0 1 0 -5.4 0M938.8 254.7a2.7 2.7 0 1 0 5.4 0a2.7 2.7 0 1 0 -5.4 0M940.7 220.4a2.7 2.7 0 1 0 5.4 0a2.7 2.7 0 1 0 -5.4 0M940.4 253.3a2.7 2.7 0 1 0 5.4 0a2.7 2.7 0 1 0 -5.4 0M943.4 218.3a2.7 2.7 0 1 0 5.4 0a2.7 2.7 0 1 0 -5.4 0M944.3 252.4a2.7 2.7 0 1 0 5.4 0a2.7 2.7 0 1 0 -5.4 0M944.9 217.7a2.7 2.7 0 1 0 5.4 0a2.7 2.7 0 1 0 -5.4 0M944.0 253.8a2.7 2.7 0 1 0 5.4 0a2.7 2.7 0 1 0 -5.4 0M948.8 215.5a2.7 2.7 0 1 0 5.4 0a2.7 2.7 0 1 0 -5.4 0M948.3 257.2a2.7 2.7 0 1 0 5.4 0a2.7 2.7 0 1 0 -5.4 0M949.6 215.5a2.7 2.7 0 1 0 5.4 0a2.7 2.7 0 1 0 -5.4 0M949.0 257.0a2.7 2.7 0 1 0 5.4 0a2.7 2.7 0 1 0 -5.4 0M952.6 209.9a2.7 2.7 0 1 0 5.4 0a2.7 2.7 0 1 0 -5.4 0M953.0 258.3a2.7 2.7 0 1 0 5.4 0a2.7 2.7 0 1 0 -5.4 0M955.3 202.9a2.7 2.7 0 1 0 5.4 0a2.7 2.7 0 1 0 -5.4 0M955.3 256.8a2.7 2.7 0 1 0 5.4 0a2.7 2.7 0 1 0 -5.4 0M957.3 200.3a2.7 2.7 0 1 0 5.4 0a2.7 2.7 0 1 0 -5.4 0M957.2 251.2a2.7 2.7 0 1 0 5.4 0a2.7 2.7 0 1 0 -5.4 0M959.0 199.3a2.7 2.7 0 1 0 5.4 0a2.7 2.7 0 1 0 -5.4 0M958.9 248.1a2.7 2.7 0 1 0 5.4 0a2.7 2.7 0 1 0 -5.4 0M960.4 199.4a2.7 2.7 0 1 0 5.4 0a2.7 2.7 0 1 0 -5.4 0M960.4 246.0a2.7 2.7 0 1 0 5.4 0a2.7 2.7 0 1 0 -5.4 0M964.2 207.1a2.7 2.7 0 1 0 5.4 0a2.7 2.7 0 1 0 -5.4 0M964.2 244.8a2.7 2.7 0 1 0 5.4 0a2.7 2.7 0 1 0 -5.4 0M966.8 212.9a2.7 2.7 0 1 0 5.4 0a2.7 2.7 0 1 0 -5.4 0M966.5 245.7a2.7 2.7 0 1 0 5.4 0a2.7 2.7 0 1 0 -5.4 0M969.0 218.4a2.7 2.7 0 1 0 5.4 0a2.7 2.7 0 1 0 -5.4 0M969.6 249.8a2.7 2.7 0 1 0 5.4 0a2.7 2.7 0 1 0 -5.4 0M971.1 222.0a2.7 2.7 0 1 0 5.4 0a2.7 2.7 0 1 0 -5.4 0M970.7 249.9a2.7 2.7 0 1 0 5.4 0a2.7 2.7 0 1 0 -5.4 0M973.0 226.0a2.7 2.7 0 1 0 5.4 0a2.7 2.7 0 1 0 -5.4 0M972.5 253.2a2.7 2.7 0 1 0 5.4 0a2.7 2.7 0 1 0 -5.4 0M975.4 230.1a2.7 2.7 0 1 0 5.4 0a2.7 2.7 0 1 0 -5.4 0M975.4 259.6a2.7 2.7 0 1 0 5.4 0a2.7 2.7 0 1 0 -5.4 0M978.0 231.6a2.7 2.7 0 1 0 5.4 0a2.7 2.7 0 1 0 -5.4 0M977.6 265.9a2.7 2.7 0 1 0 5.4 0a2.7 2.7 0 1 0 -5.4 0M980.4 233.6a2.7 2.7 0 1 0 5.4 0a2.7 2.7 0 1 0 -5.4 0M980.4 269.6a2.7 2.7 0 1 0 5.4 0a2.7 2.7 0 1 0 -5.4 0M982.0 234.8a2.7 2.7 0 1 0 5.4 0a2.7 2.7 0 1 0 -5.4 0M982.7 269.8a2.7 2.7 0 1 0 5.4 0a2.7 2.7 0 1 0 -5.4 0M985.1 235.4a2.7 2.7 0 1 0 5.4 0a2.7 2.7 0 1 0 -5.4 0M985.0 270.3a2.7 2.7 0 1 0 5.4 0a2.7 2.7 0 1 0 -5.4 0M987.4 235.5a2.7 2.7 0 1 0 5.4 0a2.7 2.7 0 1 0 -5.4 0M987.4 269.7a2.7 2.7 0 1 0 5.4 0a2.7 2.7 0 1 0 -5.4 0M988.8 235.9a2.7 2.7 0 1 0 5.4 0a2.7 2.7 0 1 0 -5.4 0M988.8 271.6a2.7 2.7 0 1 0 5.4 0a2.7 2.7 0 1 0 -5.4 0M992.5 235.6a2.7 2.7 0 1 0 5.4 0a2.7 2.7 0 1 0 -5.4 0M992.7 271.2a2.7 2.7 0 1 0 5.4 0a2.7 2.7 0 1 0 -5.4 0M994.1 235.0a2.7 2.7 0 1 0 5.4 0a2.7 2.7 0 1 0 -5.4 0M994.2 271.4a2.7 2.7 0 1 0 5.4 0a2.7 2.7 0 1 0 -5.4 0M996.2 234.2a2.7 2.7 0 1 0 5.4 0a2.7 2.7 0 1 0 -5.4 0M996.4 270.2a2.7 2.7 0 1 0 5.4 0a2.7 2.7 0 1 0 -5.4 0M997.1 232.7a2.7 2.7 0 1 0 5.4 0a2.7 2.7 0 1 0 -5.4 0M997.7 269.6a2.7 2.7 0 1 0 5.4 0a2.7 2.7 0 1 0 -5.4 0M1000.9 234.2a2.7 2.7 0 1 0 5.4 0a2.7 2.7 0 1 0 -5.4 0M1001.3 269.1a2.7 2.7 0 1 0 5.4 0a2.7 2.7 0 1 0 -5.4 0M1002.2 233.0a2.7 2.7 0 1 0 5.4 0a2.7 2.7 0 1 0 -5.4 0M1002.2 269.3a2.7 2.7 0 1 0 5.4 0a2.7 2.7 0 1 0 -5.4 0M1006.0 230.2a2.7 2.7 0 1 0 5.4 0a2.7 2.7 0 1 0 -5.4 0M1005.6 271.2a2.7 2.7 0 1 0 5.4 0a2.7 2.7 0 1 0 -5.4 0M1007.0 230.7a2.7 2.7 0 1 0 5.4 0a2.7 2.7 0 1 0 -5.4 0M1007.1 270.7a2.7 2.7 0 1 0 5.4 0a2.7 2.7 0 1 0 -5.4 0M1008.6 231.5a2.7 2.7 0 1 0 5.4 0a2.7 2.7 0 1 0 -5.4 0M1009.2 270.3a2.7 2.7 0 1 0 5.4 0a2.7 2.7 0 1 0 -5.4 0M1012.0 232.0a2.7 2.7 0 1 0 5.4 0a2.7 2.7 0 1 0 -5.4 0M1012.2 273.0a2.7 2.7 0 1 0 5.4 0a2.7 2.7 0 1 0 -5.4 0M1013.2 232.9a2.7 2.7 0 1 0 5.4 0a2.7 2.7 0 1 0 -5.4 0M1013.8 273.7a2.7 2.7 0 1 0 5.4 0a2.7 2.7 0 1 0 -5.4 0M1017.4 237.4a2.7 2.7 0 1 0 5.4 0a2.7 2.7 0 1 0 -5.4 0M1017.5 275.3a2.7 2.7 0 1 0 5.4 0a2.7 2.7 0 1 0 -5.4 0M1019.3 238.2a2.7 2.7 0 1 0 5.4 0a2.7 2.7 0 1 0 -5.4 0M1019.2 275.9a2.7 2.7 0 1 0 5.4 0a2.7 2.7 0 1 0 -5.4 0M1022.2 237.1a2.7 2.7 0 1 0 5.4 0a2.7 2.7 0 1 0 -5.4 0M1022.2 275.4a2.7 2.7 0 1 0 5.4 0a2.7 2.7 0 1 0 -5.4 0M1024.2 234.4a2.7 2.7 0 1 0 5.4 0a2.7 2.7 0 1 0 -5.4 0M1024.4 274.4a2.7 2.7 0 1 0 5.4 0a2.7 2.7 0 1 0 -5.4 0M1028.0 240.2a2.7 2.7 0 1 0 5.4 0a2.7 2.7 0 1 0 -5.4 0M1027.3 273.3a2.7 2.7 0 1 0 5.4 0a2.7 2.7 0 1 0 -5.4 0M1028.7 244.7a2.7 2.7 0 1 0 5.4 0a2.7 2.7 0 1 0 -5.4 0M1029.4 274.3a2.7 2.7 0 1 0 5.4 0a2.7 2.7 0 1 0 -5.4 0M1032.1 241.2a2.7 2.7 0 1 0 5.4 0a2.7 2.7 0 1 0 -5.4 0M1031.9 275.1a2.7 2.7 0 1 0 5.4 0a2.7 2.7 0 1 0 -5.4 0M1033.3 240.0a2.7 2.7 0 1 0 5.4 0a2.7 2.7 0 1 0 -5.4 0M1033.5 276.3a2.7 2.7 0 1 0 5.4 0a2.7 2.7 0 1 0 -5.4 0M1035.6 240.1a2.7 2.7 0 1 0 5.4 0a2.7 2.7 0 1 0 -5.4 0M1035.4 274.1a2.7 2.7 0 1 0 5.4 0a2.7 2.7 0 1 0 -5.4 0M1038.8 241.4a2.7 2.7 0 1 0 5.4 0a2.7 2.7 0 1 0 -5.4 0M1038.3 271.5a2.7 2.7 0 1 0 5.4 0a2.7 2.7 0 1 0 -5.4 0M1041.8 239.7a2.7 2.7 0 1 0 5.4 0a2.7 2.7 0 1 0 -5.4 0M1041.5 270.3a2.7 2.7 0 1 0 5.4 0a2.7 2.7 0 1 0 -5.4 0M1045.1 237.0a2.7 2.7 0 1 0 5.4 0a2.7 2.7 0 1 0 -5.4 0M1044.5 270.6a2.7 2.7 0 1 0 5.4 0a2.7 2.7 0 1 0 -5.4 0M1047.4 235.7a2.7 2.7 0 1 0 5.4 0a2.7 2.7 0 1 0 -5.4 0M1047.6 269.0a2.7 2.7 0 1 0 5.4 0a2.7 2.7 0 1 0 -5.4 0M1050.1 232.9a2.7 2.7 0 1 0 5.4 0a2.7 2.7 0 1 0 -5.4 0M1050.1 269.3a2.7 2.7 0 1 0 5.4 0a2.7 2.7 0 1 0 -5.4 0M1053.0 234.9a2.7 2.7 0 1 0 5.4 0a2.7 2.7 0 1 0 -5.4 0M1052.3 268.6a2.7 2.7 0 1 0 5.4 0a2.7 2.7 0 1 0 -5.4 0M1056.9 236.4a2.7 2.7 0 1 0 5.4 0a2.7 2.7 0 1 0 -5.4 0M1056.3 269.6a2.7 2.7 0 1 0 5.4 0a2.7 2.7 0 1 0 -5.4 0M1059.7 236.3a2.7 2.7 0 1 0 5.4 0a2.7 2.7 0 1 0 -5.4 0M1059.4 271.3a2.7 2.7 0 1 0 5.4 0a2.7 2.7 0 1 0 -5.4 0M1062.1 233.7a2.7 2.7 0 1 0 5.4 0a2.7 2.7 0 1 0 -5.4 0M1062.1 269.6a2.7 2.7 0 1 0 5.4 0a2.7 2.7 0 1 0 -5.4 0M1063.8 233.5a2.7 2.7 0 1 0 5.4 0a2.7 2.7 0 1 0 -5.4 0M1063.7 271.3a2.7 2.7 0 1 0 5.4 0a2.7 2.7 0 1 0 -5.4 0M1066.3 231.6a2.7 2.7 0 1 0 5.4 0a2.7 2.7 0 1 0 -5.4 0M1066.0 272.6a2.7 2.7 0 1 0 5.4 0a2.7 2.7 0 1 0 -5.4 0M1069.3 227.4a2.7 2.7 0 1 0 5.4 0a2.7 2.7 0 1 0 -5.4 0M1069.1 272.6a2.7 2.7 0 1 0 5.4 0a2.7 2.7 0 1 0 -5.4 0M1071.1 227.5a2.7 2.7 0 1 0 5.4 0a2.7 2.7 0 1 0 -5.4 0M1071.2 273.2a2.7 2.7 0 1 0 5.4 0a2.7 2.7 0 1 0 -5.4 0M1071.8 227.9a2.7 2.7 0 1 0 5.4 0a2.7 2.7 0 1 0 -5.4 0M1072.0 272.0a2.7 2.7 0 1 0 5.4 0a2.7 2.7 0 1 0 -5.4 0M1076.7 226.8a2.7 2.7 0 1 0 5.4 0a2.7 2.7 0 1 0 -5.4 0M1076.3 269.5a2.7 2.7 0 1 0 5.4 0a2.7 2.7 0 1 0 -5.4 0M1079.3 227.8a2.7 2.7 0 1 0 5.4 0a2.7 2.7 0 1 0 -5.4 0M1080.0 271.2a2.7 2.7 0 1 0 5.4 0a2.7 2.7 0 1 0 -5.4 0M1082.8 226.6a2.7 2.7 0 1 0 5.4 0a2.7 2.7 0 1 0 -5.4 0M1082.5 272.4a2.7 2.7 0 1 0 5.4 0a2.7 2.7 0 1 0 -5.4 0M1086.5 224.4a2.7 2.7 0 1 0 5.4 0a2.7 2.7 0 1 0 -5.4 0M1086.2 274.1a2.7 2.7 0 1 0 5.4 0a2.7 2.7 0 1 0 -5.4 0M1087.8 235.5a2.7 2.7 0 1 0 5.4 0a2.7 2.7 0 1 0 -5.4 0M1088.2 273.6a2.7 2.7 0 1 0 5.4 0a2.7 2.7 0 1 0 -5.4 0M1091.1 238.0a2.7 2.7 0 1 0 5.4 0a2.7 2.7 0 1 0 -5.4 0M1091.1 275.0a2.7 2.7 0 1 0 5.4 0a2.7 2.7 0 1 0 -5.4 0M1091.3 239.2a2.7 2.7 0 1 0 5.4 0a2.7 2.7 0 1 0 -5.4 0M1092.1 274.5a2.7 2.7 0 1 0 5.4 0a2.7 2.7 0 1 0 -5.4 0M1097.9 240.4a2.7 2.7 0 1 0 5.4 0a2.7 2.7 0 1 0 -5.4 0M1097.6 276.8a2.7 2.7 0 1 0 5.4 0a2.7 2.7 0 1 0 -5.4 0M1098.5 240.9a2.7 2.7 0 1 0 5.4 0a2.7 2.7 0 1 0 -5.4 0M1098.1 276.7a2.7 2.7 0 1 0 5.4 0a2.7 2.7 0 1 0 -5.4 0M1103.8 242.6a2.7 2.7 0 1 0 5.4 0a2.7 2.7 0 1 0 -5.4 0M1103.6 281.9a2.7 2.7 0 1 0 5.4 0a2.7 2.7 0 1 0 -5.4 0M1107.3 243.0a2.7 2.7 0 1 0 5.4 0a2.7 2.7 0 1 0 -5.4 0M1106.3 284.0a2.7 2.7 0 1 0 5.4 0a2.7 2.7 0 1 0 -5.4 0M1108.6 245.5a2.7 2.7 0 1 0 5.4 0a2.7 2.7 0 1 0 -5.4 0M1108.6 288.0a2.7 2.7 0 1 0 5.4 0a2.7 2.7 0 1 0 -5.4 0M1113.0 247.0a2.7 2.7 0 1 0 5.4 0a2.7 2.7 0 1 0 -5.4 0M1113.3 290.5a2.7 2.7 0 1 0 5.4 0a2.7 2.7 0 1 0 -5.4 0M1114.0 247.6a2.7 2.7 0 1 0 5.4 0a2.7 2.7 0 1 0 -5.4 0M1114.0 288.2a2.7 2.7 0 1 0 5.4 0a2.7 2.7 0 1 0 -5.4 0M1118.2 246.8a2.7 2.7 0 1 0 5.4 0a2.7 2.7 0 1 0 -5.4 0M1117.7 281.8a2.7 2.7 0 1 0 5.4 0a2.7 2.7 0 1 0 -5.4 0M1119.5 247.8a2.7 2.7 0 1 0 5.4 0a2.7 2.7 0 1 0 -5.4 0M1119.3 280.0a2.7 2.7 0 1 0 5.4 0a2.7 2.7 0 1 0 -5.4 0M1123.8 248.7a2.7 2.7 0 1 0 5.4 0a2.7 2.7 0 1 0 -5.4 0M1124.0 282.0a2.7 2.7 0 1 0 5.4 0a2.7 2.7 0 1 0 -5.4 0M1127.9 246.2a2.7 2.7 0 1 0 5.4 0a2.7 2.7 0 1 0 -5.4 0M1128.5 290.0a2.7 2.7 0 1 0 5.4 0a2.7 2.7 0 1 0 -5.4 0M1128.8 244.8a2.7 2.7 0 1 0 5.4 0a2.7 2.7 0 1 0 -5.4 0M1129.3 290.3a2.7 2.7 0 1 0 5.4 0a2.7 2.7 0 1 0 -5.4 0M1133.3 249.8a2.7 2.7 0 1 0 5.4 0a2.7 2.7 0 1 0 -5.4 0M1133.7 287.6a2.7 2.7 0 1 0 5.4 0a2.7 2.7 0 1 0 -5.4 0M1136.1 253.2a2.7 2.7 0 1 0 5.4 0a2.7 2.7 0 1 0 -5.4 0M1136.0 283.9a2.7 2.7 0 1 0 5.4 0a2.7 2.7 0 1 0 -5.4 0M1138.9 258.0a2.7 2.7 0 1 0 5.4 0a2.7 2.7 0 1 0 -5.4 0M1139.0 280.9a2.7 2.7 0 1 0 5.4 0a2.7 2.7 0 1 0 -5.4 0M1140.9 258.5a2.7 2.7 0 1 0 5.4 0a2.7 2.7 0 1 0 -5.4 0M1140.9 279.4a2.7 2.7 0 1 0 5.4 0a2.7 2.7 0 1 0 -5.4 0M1145.0 248.3a2.7 2.7 0 1 0 5.4 0a2.7 2.7 0 1 0 -5.4 0M1144.8 275.7a2.7 2.7 0 1 0 5.4 0a2.7 2.7 0 1 0 -5.4 0M1147.4 243.8a2.7 2.7 0 1 0 5.4 0a2.7 2.7 0 1 0 -5.4 0M1146.7 275.8a2.7 2.7 0 1 0 5.4 0a2.7 2.7 0 1 0 -5.4 0M1150.5 239.1a2.7 2.7 0 1 0 5.4 0a2.7 2.7 0 1 0 -5.4 0M1150.6 272.0a2.7 2.7 0 1 0 5.4 0a2.7 2.7 0 1 0 -5.4 0M1156.4 240.5a2.7 2.7 0 1 0 5.4 0a2.7 2.7 0 1 0 -5.4 0M1155.8 270.5a2.7 2.7 0 1 0 5.4 0a2.7 2.7 0 1 0 -5.4 0M1156.4 241.2a2.7 2.7 0 1 0 5.4 0a2.7 2.7 0 1 0 -5.4 0M1156.7 272.3a2.7 2.7 0 1 0 5.4 0a2.7 2.7 0 1 0 -5.4 0M1161.4 243.8a2.7 2.7 0 1 0 5.4 0a2.7 2.7 0 1 0 -5.4 0M1161.1 271.9a2.7 2.7 0 1 0 5.4 0a2.7 2.7 0 1 0 -5.4 0M1163.4 243.8a2.7 2.7 0 1 0 5.4 0a2.7 2.7 0 1 0 -5.4 0M1164.2 274.2a2.7 2.7 0 1 0 5.4 0a2.7 2.7 0 1 0 -5.4 0M1166.6 242.1a2.7 2.7 0 1 0 5.4 0a2.7 2.7 0 1 0 -5.4 0M1167.2 275.7a2.7 2.7 0 1 0 5.4 0a2.7 2.7 0 1 0 -5.4 0M1168.5 240.9a2.7 2.7 0 1 0 5.4 0a2.7 2.7 0 1 0 -5.4 0M1169.0 278.1a2.7 2.7 0 1 0 5.4 0a2.7 2.7 0 1 0 -5.4 0M1171.9 241.4a2.7 2.7 0 1 0 5.4 0a2.7 2.7 0 1 0 -5.4 0M1172.4 279.7a2.7 2.7 0 1 0 5.4 0a2.7 2.7 0 1 0 -5.4 0M1175.9 243.4a2.7 2.7 0 1 0 5.4 0a2.7 2.7 0 1 0 -5.4 0M1176.5 279.5a2.7 2.7 0 1 0 5.4 0a2.7 2.7 0 1 0 -5.4 0M1178.7 246.4a2.7 2.7 0 1 0 5.4 0a2.7 2.7 0 1 0 -5.4 0M1179.0 281.1a2.7 2.7 0 1 0 5.4 0a2.7 2.7 0 1 0 -5.4 0M1181.8 245.6a2.7 2.7 0 1 0 5.4 0a2.7 2.7 0 1 0 -5.4 0M1182.2 286.2a2.7 2.7 0 1 0 5.4 0a2.7 2.7 0 1 0 -5.4 0M1184.1 246.1a2.7 2.7 0 1 0 5.4 0a2.7 2.7 0 1 0 -5.4 0M1184.7 289.2a2.7 2.7 0 1 0 5.4 0a2.7 2.7 0 1 0 -5.4 0M1185.0 246.9a2.7 2.7 0 1 0 5.4 0a2.7 2.7 0 1 0 -5.4 0M1184.6 289.6a2.7 2.7 0 1 0 5.4 0a2.7 2.7 0 1 0 -5.4 0M1188.4 245.9a2.7 2.7 0 1 0 5.4 0a2.7 2.7 0 1 0 -5.4 0M1188.6 292.3a2.7 2.7 0 1 0 5.4 0a2.7 2.7 0 1 0 -5.4 0M1191.6 248.5a2.7 2.7 0 1 0 5.4 0a2.7 2.7 0 1 0 -5.4 0M1191.7 297.2a2.7 2.7 0 1 0 5.4 0a2.7 2.7 0 1 0 -5.4 0M1192.6 249.3a2.7 2.7 0 1 0 5.4 0a2.7 2.7 0 1 0 -5.4 0M1192.2 298.4a2.7 2.7 0 1 0 5.4 0a2.7 2.7 0 1 0 -5.4 0M1195.7 249.6a2.7 2.7 0 1 0 5.4 0a2.7 2.7 0 1 0 -5.4 0M1196.1 298.5a2.7 2.7 0 1 0 5.4 0a2.7 2.7 0 1 0 -5.4 0M1196.7 251.1a2.7 2.7 0 1 0 5.4 0a2.7 2.7 0 1 0 -5.4 0M1197.4 293.9a2.7 2.7 0 1 0 5.4 0a2.7 2.7 0 1 0 -5.4 0M1199.5 252.3a2.7 2.7 0 1 0 5.4 0a2.7 2.7 0 1 0 -5.4 0M1198.8 286.5a2.7 2.7 0 1 0 5.4 0a2.7 2.7 0 1 0 -5.4 0M1203.8 255.6a2.7 2.7 0 1 0 5.4 0a2.7 2.7 0 1 0 -5.4 0M1203.4 286.0a2.7 2.7 0 1 0 5.4 0a2.7 2.7 0 1 0 -5.4 0M1206.9 248.0a2.7 2.7 0 1 0 5.4 0a2.7 2.7 0 1 0 -5.4 0M1207.3 283.9a2.7 2.7 0 1 0 5.4 0a2.7 2.7 0 1 0 -5.4 0M1208.7 242.9a2.7 2.7 0 1 0 5.4 0a2.7 2.7 0 1 0 -5.4 0M1208.7 281.6a2.7 2.7 0 1 0 5.4 0a2.7 2.7 0 1 0 -5.4 0M1212.9 238.0a2.7 2.7 0 1 0 5.4 0a2.7 2.7 0 1 0 -5.4 0M1213.5 284.3a2.7 2.7 0 1 0 5.4 0a2.7 2.7 0 1 0 -5.4 0M1215.9 239.9a2.7 2.7 0 1 0 5.4 0a2.7 2.7 0 1 0 -5.4 0M1215.4 288.2a2.7 2.7 0 1 0 5.4 0a2.7 2.7 0 1 0 -5.4 0M1217.0 245.4a2.7 2.7 0 1 0 5.4 0a2.7 2.7 0 1 0 -5.4 0M1217.4 290.5a2.7 2.7 0 1 0 5.4 0a2.7 2.7 0 1 0 -5.4 0M1218.6 249.9a2.7 2.7 0 1 0 5.4 0a2.7 2.7 0 1 0 -5.4 0M1219.2 290.1a2.7 2.7 0 1 0 5.4 0a2.7 2.7 0 1 0 -5.4 0M1223.6 251.0a2.7 2.7 0 1 0 5.4 0a2.7 2.7 0 1 0 -5.4 0M1222.8 289.2a2.7 2.7 0 1 0 5.4 0a2.7 2.7 0 1 0 -5.4 0M1226.9 243.4a2.7 2.7 0 1 0 5.4 0a2.7 2.7 0 1 0 -5.4 0M1226.4 286.5a2.7 2.7 0 1 0 5.4 0a2.7 2.7 0 1 0 -5.4 0M1227.6 241.9a2.7 2.7 0 1 0 5.4 0a2.7 2.7 0 1 0 -5.4 0M1227.5 285.6a2.7 2.7 0 1 0 5.4 0a2.7 2.7 0 1 0 -5.4 0M1228.9 242.2a2.7 2.7 0 1 0 5.4 0a2.7 2.7 0 1 0 -5.4 0M1229.6 282.7a2.7 2.7 0 1 0 5.4 0a2.7 2.7 0 1 0 -5.4 0M1233.7 238.8a2.7 2.7 0 1 0 5.4 0a2.7 2.7 0 1 0 -5.4 0M1233.7 281.0a2.7 2.7 0 1 0 5.4 0a2.7 2.7 0 1 0 -5.4 0M1235.4 236.8a2.7 2.7 0 1 0 5.4 0a2.7 2.7 0 1 0 -5.4 0M1235.4 279.2a2.7 2.7 0 1 0 5.4 0a2.7 2.7 0 1 0 -5.4 0M1239.5 239.0a2.7 2.7 0 1 0 5.4 0a2.7 2.7 0 1 0 -5.4 0M1239.4 282.7a2.7 2.7 0 1 0 5.4 0a2.7 2.7 0 1 0 -5.4 0M1242.3 243.0a2.7 2.7 0 1 0 5.4 0a2.7 2.7 0 1 0 -5.4 0M1242.7 287.3a2.7 2.7 0 1 0 5.4 0a2.7 2.7 0 1 0 -5.4 0M1244.7 246.4a2.7 2.7 0 1 0 5.4 0a2.7 2.7 0 1 0 -5.4 0M1244.0 289.1a2.7 2.7 0 1 0 5.4 0a2.7 2.7 0 1 0 -5.4 0M1246.4 249.9a2.7 2.7 0 1 0 5.4 0a2.7 2.7 0 1 0 -5.4 0M1246.4 293.0a2.7 2.7 0 1 0 5.4 0a2.7 2.7 0 1 0 -5.4 0M1249.4 251.1a2.7 2.7 0 1 0 5.4 0a2.7 2.7 0 1 0 -5.4 0M1249.2 291.2a2.7 2.7 0 1 0 5.4 0a2.7 2.7 0 1 0 -5.4 0M1254.6 247.3a2.7 2.7 0 1 0 5.4 0a2.7 2.7 0 1 0 -5.4 0M1254.6 290.5a2.7 2.7 0 1 0 5.4 0a2.7 2.7 0 1 0 -5.4 0M1257.1 244.6a2.7 2.7 0 1 0 5.4 0a2.7 2.7 0 1 0 -5.4 0M1257.2 293.3a2.7 2.7 0 1 0 5.4 0a2.7 2.7 0 1 0 -5.4 0M1258.7 245.0a2.7 2.7 0 1 0 5.4 0a2.7 2.7 0 1 0 -5.4 0M1259.0 297.7a2.7 2.7 0 1 0 5.4 0a2.7 2.7 0 1 0 -5.4 0M1262.3 253.1a2.7 2.7 0 1 0 5.4 0a2.7 2.7 0 1 0 -5.4 0M1263.2 310.7a2.7 2.7 0 1 0 5.4 0a2.7 2.7 0 1 0 -5.4 0M1265.8 250.3a2.7 2.7 0 1 0 5.4 0a2.7 2.7 0 1 0 -5.4 0M1266.3 307.0a2.7 2.7 0 1 0 5.4 0a2.7 2.7 0 1 0 -5.4 0M1269.3 238.7a2.7 2.7 0 1 0 5.4 0a2.7 2.7 0 1 0 -5.4 0M1270.0 290.0a2.7 2.7 0 1 0 5.4 0a2.7 2.7 0 1 0 -5.4 0M1270.4 237.7a2.7 2.7 0 1 0 5.4 0a2.7 2.7 0 1 0 -5.4 0M1270.7 287.6a2.7 2.7 0 1 0 5.4 0a2.7 2.7 0 1 0 -5.4 0M1274.5 243.6a2.7 2.7 0 1 0 5.4 0a2.7 2.7 0 1 0 -5.4 0M1273.7 288.9a2.7 2.7 0 1 0 5.4 0a2.7 2.7 0 1 0 -5.4 0M1277.9 250.2a2.7 2.7 0 1 0 5.4 0a2.7 2.7 0 1 0 -5.4 0M1278.1 290.8a2.7 2.7 0 1 0 5.4 0a2.7 2.7 0 1 0 -5.4 0M1282.5 248.4a2.7 2.7 0 1 0 5.4 0a2.7 2.7 0 1 0 -5.4 0M1282.5 294.4a2.7 2.7 0 1 0 5.4 0a2.7 2.7 0 1 0 -5.4 0M1286.7 243.8a2.7 2.7 0 1 0 5.4 0a2.7 2.7 0 1 0 -5.4 0M1286.2 294.8a2.7 2.7 0 1 0 5.4 0a2.7 2.7 0 1 0 -5.4 0M1287.5 243.8a2.7 2.7 0 1 0 5.4 0a2.7 2.7 0 1 0 -5.4 0M1287.2 295.0a2.7 2.7 0 1 0 5.4 0a2.7 2.7 0 1 0 -5.4 0M1291.5 244.6a2.7 2.7 0 1 0 5.4 0a2.7 2.7 0 1 0 -5.4 0M1292.0 296.8a2.7 2.7 0 1 0 5.4 0a2.7 2.7 0 1 0 -5.4 0M1293.4 240.3a2.7 2.7 0 1 0 5.4 0a2.7 2.7 0 1 0 -5.4 0M1293.7 296.8a2.7 2.7 0 1 0 5.4 0a2.7 2.7 0 1 0 -5.4 0M1295.9 239.1a2.7 2.7 0 1 0 5.4 0a2.7 2.7 0 1 0 -5.4 0M1295.6 296.5a2.7 2.7 0 1 0 5.4 0a2.7 2.7 0 1 0 -5.4 0M1299.2 245.9a2.7 2.7 0 1 0 5.4 0a2.7 2.7 0 1 0 -5.4 0M1298.8 301.9a2.7 2.7 0 1 0 5.4 0a2.7 2.7 0 1 0 -5.4 0M1299.9 246.6a2.7 2.7 0 1 0 5.4 0a2.7 2.7 0 1 0 -5.4 0M1299.4 300.9a2.7 2.7 0 1 0 5.4 0a2.7 2.7 0 1 0 -5.4 0M1302.9 245.3a2.7 2.7 0 1 0 5.4 0a2.7 2.7 0 1 0 -5.4 0M1303.0 300.6a2.7 2.7 0 1 0 5.4 0a2.7 2.7 0 1 0 -5.4 0M1305.5 241.3a2.7 2.7 0 1 0 5.4 0a2.7 2.7 0 1 0 -5.4 0M1304.6 296.2a2.7 2.7 0 1 0 5.4 0a2.7 2.7 0 1 0 -5.4 0M1308.0 239.6a2.7 2.7 0 1 0 5.4 0a2.7 2.7 0 1 0 -5.4 0M1307.6 288.8a2.7 2.7 0 1 0 5.4 0a2.7 2.7 0 1 0 -5.4 0M1310.3 241.1a2.7 2.7 0 1 0 5.4 0a2.7 2.7 0 1 0 -5.4 0M1310.2 287.8a2.7 2.7 0 1 0 5.4 0a2.7 2.7 0 1 0 -5.4 0M1313.4 248.2a2.7 2.7 0 1 0 5.4 0a2.7 2.7 0 1 0 -5.4 0M1313.7 289.1a2.7 2.7 0 1 0 5.4 0a2.7 2.7 0 1 0 -5.4 0M1315.0 249.3a2.7 2.7 0 1 0 5.4 0a2.7 2.7 0 1 0 -5.4 0M1315.2 290.0a2.7 2.7 0 1 0 5.4 0a2.7 2.7 0 1 0 -5.4 0M1321.1 243.9a2.7 2.7 0 1 0 5.4 0a2.7 2.7 0 1 0 -5.4 0M1320.6 296.7a2.7 2.7 0 1 0 5.4 0a2.7 2.7 0 1 0 -5.4 0M1323.9 240.6a2.7 2.7 0 1 0 5.4 0a2.7 2.7 0 1 0 -5.4 0M1324.4 300.3a2.7 2.7 0 1 0 5.4 0a2.7 2.7 0 1 0 -5.4 0M1325.5 240.2a2.7 2.7 0 1 0 5.4 0a2.7 2.7 0 1 0 -5.4 0M1325.0 301.2a2.7 2.7 0 1 0 5.4 0a2.7 2.7 0 1 0 -5.4 0M1329.3 240.9a2.7 2.7 0 1 0 5.4 0a2.7 2.7 0 1 0 -5.4 0M1329.6 304.7a2.7 2.7 0 1 0 5.4 0a2.7 2.7 0 1 0 -5.4 0M1330.0 241.4a2.7 2.7 0 1 0 5.4 0a2.7 2.7 0 1 0 -5.4 0M1330.4 307.5a2.7 2.7 0 1 0 5.4 0a2.7 2.7 0 1 0 -5.4 0M1332.1 242.4a2.7 2.7 0 1 0 5.4 0a2.7 2.7 0 1 0 -5.4 0M1332.5 307.1a2.7 2.7 0 1 0 5.4 0a2.7 2.7 0 1 0 -5.4 0M1338.3 237.3a2.7 2.7 0 1 0 5.4 0a2.7 2.7 0 1 0 -5.4 0M1338.1 293.8a2.7 2.7 0 1 0 5.4 0a2.7 2.7 0 1 0 -5.4 0M1339.2 237.9a2.7 2.7 0 1 0 5.4 0a2.7 2.7 0 1 0 -5.4 0M1338.8 293.7a2.7 2.7 0 1 0 5.4 0a2.7 2.7 0 1 0 -5.4 0M1342.5 243.7a2.7 2.7 0 1 0 5.4 0a2.7 2.7 0 1 0 -5.4 0M1342.3 299.9a2.7 2.7 0 1 0 5.4 0a2.7 2.7 0 1 0 -5.4 0M1344.1 248.8a2.7 2.7 0 1 0 5.4 0a2.7 2.7 0 1 0 -5.4 0M1344.5 306.4a2.7 2.7 0 1 0 5.4 0a2.7 2.7 0 1 0 -5.4 0M1346.9 257.0a2.7 2.7 0 1 0 5.4 0a2.7 2.7 0 1 0 -5.4 0M1347.5 320.7a2.7 2.7 0 1 0 5.4 0a2.7 2.7 0 1 0 -5.4 0M1349.3 262.4a2.7 2.7 0 1 0 5.4 0a2.7 2.7 0 1 0 -5.4 0M1350.0 328.1a2.7 2.7 0 1 0 5.4 0a2.7 2.7 0 1 0 -5.4 0M1354.3 247.7a2.7 2.7 0 1 0 5.4 0a2.7 2.7 0 1 0 -5.4 0M1355.0 319.8a2.7 2.7 0 1 0 5.4 0a2.7 2.7 0 1 0 -5.4 0M1356.9 246.4a2.7 2.7 0 1 0 5.4 0a2.7 2.7 0 1 0 -5.4 0M1356.8 317.1a2.7 2.7 0 1 0 5.4 0a2.7 2.7 0 1 0 -5.4 0M1360.2 247.8a2.7 2.7 0 1 0 5.4 0a2.7 2.7 0 1 0 -5.4 0M1360.1 318.6a2.7 2.7 0 1 0 5.4 0a2.7 2.7 0 1 0 -5.4 0M1360.9 248.6a2.7 2.7 0 1 0 5.4 0a2.7 2.7 0 1 0 -5.4 0M1360.9 319.1a2.7 2.7 0 1 0 5.4 0a2.7 2.7 0 1 0 -5.4 0M1364.2 251.2a2.7 2.7 0 1 0 5.4 0a2.7 2.7 0 1 0 -5.4 0M1364.9 323.1a2.7 2.7 0 1 0 5.4 0a2.7 2.7 0 1 0 -5.4 0M1366.7 255.2a2.7 2.7 0 1 0 5.4 0a2.7 2.7 0 1 0 -5.4 0M1366.1 325.3a2.7 2.7 0 1 0 5.4 0a2.7 2.7 0 1 0 -5.4 0M1371.3 257.8a2.7 2.7 0 1 0 5.4 0a2.7 2.7 0 1 0 -5.4 0M1371.0 330.8a2.7 2.7 0 1 0 5.4 0a2.7 2.7 0 1 0 -5.4 0M1373.6 256.5a2.7 2.7 0 1 0 5.4 0a2.7 2.7 0 1 0 -5.4 0M1374.3 332.0a2.7 2.7 0 1 0 5.4 0a2.7 2.7 0 1 0 -5.4 0M1378.0 249.4a2.7 2.7 0 1 0 5.4 0a2.7 2.7 0 1 0 -5.4 0M1378.1 311.4a2.7 2.7 0 1 0 5.4 0a2.7 2.7 0 1 0 -5.4 0M1383.1 263.4a2.7 2.7 0 1 0 5.4 0a2.7 2.7 0 1 0 -5.4 0M1382.9 298.4a2.7 2.7 0 1 0 5.4 0a2.7 2.7 0 1 0 -5.4 0M1384.3 260.2a2.7 2.7 0 1 0 5.4 0a2.7 2.7 0 1 0 -5.4 0M1384.0 297.6a2.7 2.7 0 1 0 5.4 0a2.7 2.7 0 1 0 -5.4 0M1386.6 253.8a2.7 2.7 0 1 0 5.4 0a2.7 2.7 0 1 0 -5.4 0M1386.6 298.8a2.7 2.7 0 1 0 5.4 0a2.7 2.7 0 1 0 -5.4 0M1388.8 249.7a2.7 2.7 0 1 0 5.4 0a2.7 2.7 0 1 0 -5.4 0M1388.2 297.9a2.7 2.7 0 1 0 5.4 0a2.7 2.7 0 1 0 -5.4 0M1391.1 249.7a2.7 2.7 0 1 0 5.4 0a2.7 2.7 0 1 0 -5.4 0M1390.9 300.3a2.7 2.7 0 1 0 5.4 0a2.7 2.7 0 1 0 -5.4 0M1396.8 247.6a2.7 2.7 0 1 0 5.4 0a2.7 2.7 0 1 0 -5.4 0M1396.4 304.1a2.7 2.7 0 1 0 5.4 0a2.7 2.7 0 1 0 -5.4 0M1398.5 246.1a2.7 2.7 0 1 0 5.4 0a2.7 2.7 0 1 0 -5.4 0M1398.5 302.5a2.7 2.7 0 1 0 5.4 0a2.7 2.7 0 1 0 -5.4 0M1400.2 242.3a2.7 2.7 0 1 0 5.4 0a2.7 2.7 0 1 0 -5.4 0M1400.4 297.2a2.7 2.7 0 1 0 5.4 0a2.7 2.7 0 1 0 -5.4 0M1404.6 239.5a2.7 2.7 0 1 0 5.4 0a2.7 2.7 0 1 0 -5.4 0M1404.2 291.2a2.7 2.7 0 1 0 5.4 0a2.7 2.7 0 1 0 -5.4 0M1405.7 239.0a2.7 2.7 0 1 0 5.4 0a2.7 2.7 0 1 0 -5.4 0M1405.3 291.3a2.7 2.7 0 1 0 5.4 0a2.7 2.7 0 1 0 -5.4 0M1408.3 240.0a2.7 2.7 0 1 0 5.4 0a2.7 2.7 0 1 0 -5.4 0M1408.1 292.0a2.7 2.7 0 1 0 5.4 0a2.7 2.7 0 1 0 -5.4 0M1410.5 241.2a2.7 2.7 0 1 0 5.4 0a2.7 2.7 0 1 0 -5.4 0M1410.3 294.1a2.7 2.7 0 1 0 5.4 0a2.7 2.7 0 1 0 -5.4 0M1413.4 242.4a2.7 2.7 0 1 0 5.4 0a2.7 2.7 0 1 0 -5.4 0M1413.3 296.0a2.7 2.7 0 1 0 5.4 0a2.7 2.7 0 1 0 -5.4 0M1416.0 242.3a2.7 2.7 0 1 0 5.4 0a2.7 2.7 0 1 0 -5.4 0M1416.0 293.2a2.7 2.7 0 1 0 5.4 0a2.7 2.7 0 1 0 -5.4 0M1418.0 243.4a2.7 2.7 0 1 0 5.4 0a2.7 2.7 0 1 0 -5.4 0M1417.7 290.6a2.7 2.7 0 1 0 5.4 0a2.7 2.7 0 1 0 -5.4 0M1422.5 253.1a2.7 2.7 0 1 0 5.4 0a2.7 2.7 0 1 0 -5.4 0M1421.7 291.8a2.7 2.7 0 1 0 5.4 0a2.7 2.7 0 1 0 -5.4 0M1423.0 253.7a2.7 2.7 0 1 0 5.4 0a2.7 2.7 0 1 0 -5.4 0M1422.6 291.8a2.7 2.7 0 1 0 5.4 0a2.7 2.7 0 1 0 -5.4 0M1427.1 244.5a2.7 2.7 0 1 0 5.4 0a2.7 2.7 0 1 0 -5.4 0M1427.3 303.1a2.7 2.7 0 1 0 5.4 0a2.7 2.7 0 1 0 -5.4 0M1429.1 246.7a2.7 2.7 0 1 0 5.4 0a2.7 2.7 0 1 0 -5.4 0M1429.8 301.4a2.7 2.7 0 1 0 5.4 0a2.7 2.7 0 1 0 -5.4 0M1431.7 254.0a2.7 2.7 0 1 0 5.4 0a2.7 2.7 0 1 0 -5.4 0M1431.8 296.9a2.7 2.7 0 1 0 5.4 0a2.7 2.7 0 1 0 -5.4 0M1433.8 254.9a2.7 2.7 0 1 0 5.4 0a2.7 2.7 0 1 0 -5.4 0M1433.7 295.6a2.7 2.7 0 1 0 5.4 0a2.7 2.7 0 1 0 -5.4 0M1437.1 252.7a2.7 2.7 0 1 0 5.4 0a2.7 2.7 0 1 0 -5.4 0M1437.0 298.5a2.7 2.7 0 1 0 5.4 0a2.7 2.7 0 1 0 -5.4 0M1440.2 245.8a2.7 2.7 0 1 0 5.4 0a2.7 2.7 0 1 0 -5.4 0M1439.5 295.1a2.7 2.7 0 1 0 5.4 0a2.7 2.7 0 1 0 -5.4 0M1443.3 246.3a2.7 2.7 0 1 0 5.4 0a2.7 2.7 0 1 0 -5.4 0M1443.8 291.9a2.7 2.7 0 1 0 5.4 0a2.7 2.7 0 1 0 -5.4 0M1443.9 247.8a2.7 2.7 0 1 0 5.4 0a2.7 2.7 0 1 0 -5.4 0M1444.5 291.8a2.7 2.7 0 1 0 5.4 0a2.7 2.7 0 1 0 -5.4 0M1449.2 249.5a2.7 2.7 0 1 0 5.4 0a2.7 2.7 0 1 0 -5.4 0M1449.1 289.8a2.7 2.7 0 1 0 5.4 0a2.7 2.7 0 1 0 -5.4 0M1451.4 247.0a2.7 2.7 0 1 0 5.4 0a2.7 2.7 0 1 0 -5.4 0M1450.6 290.1a2.7 2.7 0 1 0 5.4 0a2.7 2.7 0 1 0 -5.4 0M1453.6 247.0a2.7 2.7 0 1 0 5.4 0a2.7 2.7 0 1 0 -5.4 0M1453.4 295.1a2.7 2.7 0 1 0 5.4 0a2.7 2.7 0 1 0 -5.4 0M1456.5 252.7a2.7 2.7 0 1 0 5.4 0a2.7 2.7 0 1 0 -5.4 0M1456.7 301.8a2.7 2.7 0 1 0 5.4 0a2.7 2.7 0 1 0 -5.4 0M1459.0 262.6a2.7 2.7 0 1 0 5.4 0a2.7 2.7 0 1 0 -5.4 0M1458.8 302.6a2.7 2.7 0 1 0 5.4 0a2.7 2.7 0 1 0 -5.4 0M180.6 284.4a2.7 2.7 0 1 0 5.4 0a2.7 2.7 0 1 0 -5.4 0M183.9 292.0a2.7 2.7 0 1 0 5.4 0a2.7 2.7 0 1 0 -5.4 0M182.8 307.7a2.7 2.7 0 1 0 5.4 0a2.7 2.7 0 1 0 -5.4 0M183.9 322.0a2.7 2.7 0 1 0 5.4 0a2.7 2.7 0 1 0 -5.4 0M183.9 334.0a2.7 2.7 0 1 0 5.4 0a2.7 2.7 0 1 0 -5.4 0M185.0 341.0a2.7 2.7 0 1 0 5.4 0a2.7 2.7 0 1 0 -5.4 0M186.1 350.0a2.7 2.7 0 1 0 5.4 0a2.7 2.7 0 1 0 -5.4 0M181.8 300.0a2.7 2.7 0 1 0 5.4 0a2.7 2.7 0 1 0 -5.4 0M184.3 315.0a2.7 2.7 0 1 0 5.4 0a2.7 2.7 0 1 0 -5.4 0M151.3 290.0a2.7 2.7 0 1 0 5.4 0a2.7 2.7 0 1 0 -5.4 0M150.3 296.0a2.7 2.7 0 1 0 5.4 0a2.7 2.7 0 1 0 -5.4 0M407.8 445.0a2.7 2.7 0 1 0 5.4 0a2.7 2.7 0 1 0 -5.4 0M409.3 438.0a2.7 2.7 0 1 0 5.4 0a2.7 2.7 0 1 0 -5.4 0M443.3 435.0a2.7 2.7 0 1 0 5.4 0a2.7 2.7 0 1 0 -5.4 0M444.3 425.0a2.7 2.7 0 1 0 5.4 0a2.7 2.7 0 1 0 -5.4 0M479.3 395.0a2.7 2.7 0 1 0 5.4 0a2.7 2.7 0 1 0 -5.4 0M480.3 388.0a2.7 2.7 0 1 0 5.4 0a2.7 2.7 0 1 0 -5.4 0M495.3 346.0a2.7 2.7 0 1 0 5.4 0a2.7 2.7 0 1 0 -5.4 0M502.3 340.0a2.7 2.7 0 1 0 5.4 0a2.7 2.7 0 1 0 -5.4 0M538.3 338.0a2.7 2.7 0 1 0 5.4 0a2.7 2.7 0 1 0 -5.4 0M540.3 345.0a2.7 2.7 0 1 0 5.4 0a2.7 2.7 0 1 0 -5.4 0M556.3 322.0a2.7 2.7 0 1 0 5.4 0a2.7 2.7 0 1 0 -5.4 0M556.3 313.0a2.7 2.7 0 1 0 5.4 0a2.7 2.7 0 1 0 -5.4 0M607.3 322.0a2.7 2.7 0 1 0 5.4 0a2.7 2.7 0 1 0 -5.4 0M616.3 320.0a2.7 2.7 0 1 0 5.4 0a2.7 2.7 0 1 0 -5.4 0M607.3 316.0a2.7 2.7 0 1 0 5.4 0a2.7 2.7 0 1 0 -5.4 0M141.1 246.0a2.7 2.7 0 1 0 5.4 0a2.7 2.7 0 1 0 -5.4 0M141.1 258.9a2.7 2.7 0 1 0 5.4 0a2.7 2.7 0 1 0 -5.4 0M164.5 371.5a2.7 2.7 0 1 0 5.4 0a2.7 2.7 0 1 0 -5.4 0M164.5 383.0a2.7 2.7 0 1 0 5.4 0a2.7 2.7 0 1 0 -5.4 0M164.5 412.4a2.7 2.7 0 1 0 5.4 0a2.7 2.7 0 1 0 -5.4 0M164.5 422.7a2.7 2.7 0 1 0 5.4 0a2.7 2.7 0 1 0 -5.4 0M184.3 371.5a2.7 2.7 0 1 0 5.4 0a2.7 2.7 0 1 0 -5.4 0M184.3 397.0a2.7 2.7 0 1 0 5.4 0a2.7 2.7 0 1 0 -5.4 0M184.3 371.0a2.7 2.7 0 1 0 5.4 0a2.7 2.7 0 1 0 -5.4 0M215.7 428.0a2.7 2.7 0 1 0 5.4 0a2.7 2.7 0 1 0 -5.4 0M222.3 424.0a2.7 2.7 0 1 0 5.4 0a2.7 2.7 0 1 0 -5.4 0M223.7 432.0a2.7 2.7 0 1 0 5.4 0a2.7 2.7 0 1 0 -5.4 0M229.3 437.0a2.7 2.7 0 1 0 5.4 0a2.7 2.7 0 1 0 -5.4 0M244.9 418.0a2.7 2.7 0 1 0 5.4 0a2.7 2.7 0 1 0 -5.4 0M228.8 279.0a2.7 2.7 0 1 0 5.4 0a2.7 2.7 0 1 0 -5.4 0M249.3 280.0a2.7 2.7 0 1 0 5.4 0a2.7 2.7 0 1 0 -5.4 0M249.3 290.0a2.7 2.7 0 1 0 5.4 0a2.7 2.7 0 1 0 -5.4 0M263.3 478.0a2.7 2.7 0 1 0 5.4 0a2.7 2.7 0 1 0 -5.4 0M272.3 485.0a2.7 2.7 0 1 0 5.4 0a2.7 2.7 0 1 0 -5.4 0M272.9 481.0a2.7 2.7 0 1 0 5.4 0a2.7 2.7 0 1 0 -5.4 0M304.3 475.0a2.7 2.7 0 1 0 5.4 0a2.7 2.7 0 1 0 -5.4 0M278.7 310.0a2.7 2.7 0 1 0 5.4 0a2.7 2.7 0 1 0 -5.4 0M278.7 325.0a2.7 2.7 0 1 0 5.4 0a2.7 2.7 0 1 0 -5.4 0M306.3 485.0a2.7 2.7 0 1 0 5.4 0a2.7 2.7 0 1 0 -5.4 0M306.3 478.0a2.7 2.7 0 1 0 5.4 0a2.7 2.7 0 1 0 -5.4 0M359.6 233.0a2.7 2.7 0 1 0 5.4 0a2.7 2.7 0 1 0 -5.4 0M364.6 231.0a2.7 2.7 0 1 0 5.4 0a2.7 2.7 0 1 0 -5.4 0M382.8 222.0a2.7 2.7 0 1 0 5.4 0a2.7 2.7 0 1 0 -5.4 0M405.6 276.0a2.7 2.7 0 1 0 5.4 0a2.7 2.7 0 1 0 -5.4 0M411.3 316.0a2.7 2.7 0 1 0 5.4 0a2.7 2.7 0 1 0 -5.4 0M411.3 333.0a2.7 2.7 0 1 0 5.4 0a2.7 2.7 0 1 0 -5.4 0M443.3 226.0a2.7 2.7 0 1 0 5.4 0a2.7 2.7 0 1 0 -5.4 0M446.3 228.0a2.7 2.7 0 1 0 5.4 0a2.7 2.7 0 1 0 -5.4 0M441.3 244.0a2.7 2.7 0 1 0 5.4 0a2.7 2.7 0 1 0 -5.4 0M444.0 425.0a2.7 2.7 0 1 0 5.4 0a2.7 2.7 0 1 0 -5.4 0M443.3 430.0a2.7 2.7 0 1 0 5.4 0a2.7 2.7 0 1 0 -5.4 0M473.3 333.0a2.7 2.7 0 1 0 5.4 0a2.7 2.7 0 1 0 -5.4 0M471.3 344.0a2.7 2.7 0 1 0 5.4 0a2.7 2.7 0 1 0 -5.4 0M493.3 343.0a2.7 2.7 0 1 0 5.4 0a2.7 2.7 0 1 0 -5.4 0M501.3 343.0a2.7 2.7 0 1 0 5.4 0a2.7 2.7 0 1 0 -5.4 0M479.8 395.0a2.7 2.7 0 1 0 5.4 0a2.7 2.7 0 1 0 -5.4 0M479.8 388.0a2.7 2.7 0 1 0 5.4 0a2.7 2.7 0 1 0 -5.4 0M479.3 400.0a2.7 2.7 0 1 0 5.4 0a2.7 2.7 0 1 0 -5.4 0M527.3 299.0a2.7 2.7 0 1 0 5.4 0a2.7 2.7 0 1 0 -5.4 0M543.3 346.0a2.7 2.7 0 1 0 5.4 0a2.7 2.7 0 1 0 -5.4 0M543.3 353.0a2.7 2.7 0 1 0 5.4 0a2.7 2.7 0 1 0 -5.4 0M555.8 290.0a2.7 2.7 0 1 0 5.4 0a2.7 2.7 0 1 0 -5.4 0M555.8 276.0a2.7 2.7 0 1 0 5.4 0a2.7 2.7 0 1 0 -5.4 0M555.8 310.0a2.7 2.7 0 1 0 5.4 0a2.7 2.7 0 1 0 -5.4 0M555.8 320.0a2.7 2.7 0 1 0 5.4 0a2.7 2.7 0 1 0 -5.4 0M570.8 218.0a2.7 2.7 0 1 0 5.4 0a2.7 2.7 0 1 0 -5.4 0M570.8 224.0a2.7 2.7 0 1 0 5.4 0a2.7 2.7 0 1 0 -5.4 0M570.8 236.0a2.7 2.7 0 1 0 5.4 0a2.7 2.7 0 1 0 -5.4 0M581.3 260.0a2.7 2.7 0 1 0 5.4 0a2.7 2.7 0 1 0 -5.4 0M593.3 244.0a2.7 2.7 0 1 0 5.4 0a2.7 2.7 0 1 0 -5.4 0M594.3 246.0a2.7 2.7 0 1 0 5.4 0a2.7 2.7 0 1 0 -5.4 0M606.3 318.0a2.7 2.7 0 1 0 5.4 0a2.7 2.7 0 1 0 -5.4 0M607.3 322.0a2.7 2.7 0 1 0 5.4 0a2.7 2.7 0 1 0 -5.4 0M621.3 305.0a2.7 2.7 0 1 0 5.4 0a2.7 2.7 0 1 0 -5.4 0M744.3 292.0a2.7 2.7 0 1 0 5.4 0a2.7 2.7 0 1 0 -5.4 0M744.3 299.0a2.7 2.7 0 1 0 5.4 0a2.7 2.7 0 1 0 -5.4 0M746.6 210.0a2.7 2.7 0 1 0 5.4 0a2.7 2.7 0 1 0 -5.4 0M738.3 225.0a2.7 2.7 0 1 0 5.4 0a2.7 2.7 0 1 0 -5.4 0M717.3 220.0a2.7 2.7 0 1 0 5.4 0a2.7 2.7 0 1 0 -5.4 0M766.3 218.0a2.7 2.7 0 1 0 5.4 0a2.7 2.7 0 1 0 -5.4 0M831.3 337.0a2.7 2.7 0 1 0 5.4 0a2.7 2.7 0 1 0 -5.4 0M830.3 335.0a2.7 2.7 0 1 0 5.4 0a2.7 2.7 0 1 0 -5.4 0M872.8 60.5a2.7 2.7 0 1 0 5.4 0a2.7 2.7 0 1 0 -5.4 0M872.3 68.0a2.7 2.7 0 1 0 5.4 0a2.7 2.7 0 1 0 -5.4 0M878.3 306.0a2.7 2.7 0 1 0 5.4 0a2.7 2.7 0 1 0 -5.4 0M878.3 313.0a2.7 2.7 0 1 0 5.4 0a2.7 2.7 0 1 0 -5.4 0M878.3 322.0a2.7 2.7 0 1 0 5.4 0a2.7 2.7 0 1 0 -5.4 0M878.3 330.0a2.7 2.7 0 1 0 5.4 0a2.7 2.7 0 1 0 -5.4 0M895.3 155.0a2.7 2.7 0 1 0 5.4 0a2.7 2.7 0 1 0 -5.4 0M895.3 160.0a2.7 2.7 0 1 0 5.4 0a2.7 2.7 0 1 0 -5.4 0M896.3 165.0a2.7 2.7 0 1 0 5.4 0a2.7 2.7 0 1 0 -5.4 0M955.8 152.0a2.7 2.7 0 1 0 5.4 0a2.7 2.7 0 1 0 -5.4 0M965.3 151.0a2.7 2.7 0 1 0 5.4 0a2.7 2.7 0 1 0 -5.4 0M964.3 168.0a2.7 2.7 0 1 0 5.4 0a2.7 2.7 0 1 0 -5.4 0M964.3 180.0a2.7 2.7 0 1 0 5.4 0a2.7 2.7 0 1 0 -5.4 0M955.3 170.0a2.7 2.7 0 1 0 5.4 0a2.7 2.7 0 1 0 -5.4 0M955.3 180.0a2.7 2.7 0 1 0 5.4 0a2.7 2.7 0 1 0 -5.4 0M960.3 190.0a2.7 2.7 0 1 0 5.4 0a2.7 2.7 0 1 0 -5.4 0M950.3 196.0a2.7 2.7 0 1 0 5.4 0a2.7 2.7 0 1 0 -5.4 0M946.3 200.0a2.7 2.7 0 1 0 5.4 0a2.7 2.7 0 1 0 -5.4 0M953.3 190.0a2.7 2.7 0 1 0 5.4 0a2.7 2.7 0 1 0 -5.4 0M967.3 195.0a2.7 2.7 0 1 0 5.4 0a2.7 2.7 0 1 0 -5.4 0M974.3 209.0a2.7 2.7 0 1 0 5.4 0a2.7 2.7 0 1 0 -5.4 0M986.3 176.0a2.7 2.7 0 1 0 5.4 0a2.7 2.7 0 1 0 -5.4 0M986.3 183.0a2.7 2.7 0 1 0 5.4 0a2.7 2.7 0 1 0 -5.4 0M986.3 196.0a2.7 2.7 0 1 0 5.4 0a2.7 2.7 0 1 0 -5.4 0M986.3 204.0a2.7 2.7 0 1 0 5.4 0a2.7 2.7 0 1 0 -5.4 0M996.3 209.0a2.7 2.7 0 1 0 5.4 0a2.7 2.7 0 1 0 -5.4 0M996.3 216.0a2.7 2.7 0 1 0 5.4 0a2.7 2.7 0 1 0 -5.4 0M1006.6 180.8a2.7 2.7 0 1 0 5.4 0a2.7 2.7 0 1 0 -5.4 0M1006.6 195.0a2.7 2.7 0 1 0 5.4 0a2.7 2.7 0 1 0 -5.4 0M1006.6 208.0a2.7 2.7 0 1 0 5.4 0a2.7 2.7 0 1 0 -5.4 0M1017.3 192.0a2.7 2.7 0 1 0 5.4 0a2.7 2.7 0 1 0 -5.4 0M1015.3 201.0a2.7 2.7 0 1 0 5.4 0a2.7 2.7 0 1 0 -5.4 0M1014.3 215.0a2.7 2.7 0 1 0 5.4 0a2.7 2.7 0 1 0 -5.4 0M1026.3 174.0a2.7 2.7 0 1 0 5.4 0a2.7 2.7 0 1 0 -5.4 0M1026.3 183.0a2.7 2.7 0 1 0 5.4 0a2.7 2.7 0 1 0 -5.4 0M1026.3 195.0a2.7 2.7 0 1 0 5.4 0a2.7 2.7 0 1 0 -5.4 0M1026.3 205.0a2.7 2.7 0 1 0 5.4 0a2.7 2.7 0 1 0 -5.4 0M1026.3 214.0a2.7 2.7 0 1 0 5.4 0a2.7 2.7 0 1 0 -5.4 0M1044.3 208.0a2.7 2.7 0 1 0 5.4 0a2.7 2.7 0 1 0 -5.4 0M1050.3 214.0a2.7 2.7 0 1 0 5.4 0a2.7 2.7 0 1 0 -5.4 0M1061.3 212.0a2.7 2.7 0 1 0 5.4 0a2.7 2.7 0 1 0 -5.4 0M1061.3 218.0a2.7 2.7 0 1 0 5.4 0a2.7 2.7 0 1 0 -5.4 0M1075.3 216.0a2.7 2.7 0 1 0 5.4 0a2.7 2.7 0 1 0 -5.4 0M1078.3 213.0a2.7 2.7 0 1 0 5.4 0a2.7 2.7 0 1 0 -5.4 0M1078.3 220.0a2.7 2.7 0 1 0 5.4 0a2.7 2.7 0 1 0 -5.4 0M1087.3 220.0a2.7 2.7 0 1 0 5.4 0a2.7 2.7 0 1 0 -5.4 0M1015.3 290.0a2.7 2.7 0 1 0 5.4 0a2.7 2.7 0 1 0 -5.4 0M1033.3 285.0a2.7 2.7 0 1 0 5.4 0a2.7 2.7 0 1 0 -5.4 0M1110.3 305.0a2.7 2.7 0 1 0 5.4 0a2.7 2.7 0 1 0 -5.4 0M1110.3 300.0a2.7 2.7 0 1 0 5.4 0a2.7 2.7 0 1 0 -5.4 0M1129.3 298.0a2.7 2.7 0 1 0 5.4 0a2.7 2.7 0 1 0 -5.4 0M1138.3 303.0a2.7 2.7 0 1 0 5.4 0a2.7 2.7 0 1 0 -5.4 0M1138.3 298.0a2.7 2.7 0 1 0 5.4 0a2.7 2.7 0 1 0 -5.4 0M1149.3 210.0a2.7 2.7 0 1 0 5.4 0a2.7 2.7 0 1 0 -5.4 0M1149.3 218.0a2.7 2.7 0 1 0 5.4 0a2.7 2.7 0 1 0 -5.4 0M1149.3 230.0a2.7 2.7 0 1 0 5.4 0a2.7 2.7 0 1 0 -5.4 0M1157.3 220.0a2.7 2.7 0 1 0 5.4 0a2.7 2.7 0 1 0 -5.4 0M1181.3 225.0a2.7 2.7 0 1 0 5.4 0a2.7 2.7 0 1 0 -5.4 0M1213.8 216.0a2.7 2.7 0 1 0 5.4 0a2.7 2.7 0 1 0 -5.4 0M1213.8 230.0a2.7 2.7 0 1 0 5.4 0a2.7 2.7 0 1 0 -5.4 0M1229.3 296.0a2.7 2.7 0 1 0 5.4 0a2.7 2.7 0 1 0 -5.4 0M1257.3 326.0a2.7 2.7 0 1 0 5.4 0a2.7 2.7 0 1 0 -5.4 0M1257.3 318.0a2.7 2.7 0 1 0 5.4 0a2.7 2.7 0 1 0 -5.4 0M1264.3 312.0a2.7 2.7 0 1 0 5.4 0a2.7 2.7 0 1 0 -5.4 0M1270.3 227.0a2.7 2.7 0 1 0 5.4 0a2.7 2.7 0 1 0 -5.4 0M1271.3 232.0a2.7 2.7 0 1 0 5.4 0a2.7 2.7 0 1 0 -5.4 0M1290.3 315.0a2.7 2.7 0 1 0 5.4 0a2.7 2.7 0 1 0 -5.4 0M1291.3 309.0a2.7 2.7 0 1 0 5.4 0a2.7 2.7 0 1 0 -5.4 0M1305.3 316.0a2.7 2.7 0 1 0 5.4 0a2.7 2.7 0 1 0 -5.4 0M1336.3 226.0a2.7 2.7 0 1 0 5.4 0a2.7 2.7 0 1 0 -5.4 0M1335.3 233.0a2.7 2.7 0 1 0 5.4 0a2.7 2.7 0 1 0 -5.4 0M1327.3 234.0a2.7 2.7 0 1 0 5.4 0a2.7 2.7 0 1 0 -5.4 0M1350.3 338.0a2.7 2.7 0 1 0 5.4 0a2.7 2.7 0 1 0 -5.4 0M1357.3 330.0a2.7 2.7 0 1 0 5.4 0a2.7 2.7 0 1 0 -5.4 0M1365.8 347.0a2.7 2.7 0 1 0 5.4 0a2.7 2.7 0 1 0 -5.4 0M1365.8 352.0a2.7 2.7 0 1 0 5.4 0a2.7 2.7 0 1 0 -5.4 0M1365.8 357.0a2.7 2.7 0 1 0 5.4 0a2.7 2.7 0 1 0 -5.4 0M1365.8 362.0a2.7 2.7 0 1 0 5.4 0a2.7 2.7 0 1 0 -5.4 0M1406.3 206.0a2.7 2.7 0 1 0 5.4 0a2.7 2.7 0 1 0 -5.4 0M1406.3 218.0a2.7 2.7 0 1 0 5.4 0a2.7 2.7 0 1 0 -5.4 0M1430.3 206.0a2.7 2.7 0 1 0 5.4 0a2.7 2.7 0 1 0 -5.4 0M1430.3 213.0a2.7 2.7 0 1 0 5.4 0a2.7 2.7 0 1 0 -5.4 0M1437.3 225.0a2.7 2.7 0 1 0 5.4 0a2.7 2.7 0 1 0 -5.4 0M1453.3 222.0a2.7 2.7 0 1 0 5.4 0a2.7 2.7 0 1 0 -5.4 0M1453.3 229.0a2.7 2.7 0 1 0 5.4 0a2.7 2.7 0 1 0 -5.4 0M1437.3 315.0a2.7 2.7 0 1 0 5.4 0a2.7 2.7 0 1 0 -5.4 0M428.9 329.9a2.7 2.7 0 1 0 5.4 0a2.7 2.7 0 1 0 -5.4 0M432.1 306.1a2.7 2.7 0 1 0 5.4 0a2.7 2.7 0 1 0 -5.4 0M433.7 296.1a2.7 2.7 0 1 0 5.4 0a2.7 2.7 0 1 0 -5.4 0M433.7 414.1a2.7 2.7 0 1 0 5.4 0a2.7 2.7 0 1 0 -5.4 0M435.3 275.9a2.7 2.7 0 1 0 5.4 0a2.7 2.7 0 1 0 -5.4 0M435.3 412.0a2.7 2.7 0 1 0 5.4 0a2.7 2.7 0 1 0 -5.4 0M436.9 277.1a2.7 2.7 0 1 0 5.4 0a2.7 2.7 0 1 0 -5.4 0M438.5 277.3a2.7 2.7 0 1 0 5.4 0a2.7 2.7 0 1 0 -5.4 0M440.1 265.1a2.7 2.7 0 1 0 5.4 0a2.7 2.7 0 1 0 -5.4 0M440.1 274.1a2.7 2.7 0 1 0 5.4 0a2.7 2.7 0 1 0 -5.4 0M441.7 250.5a2.7 2.7 0 1 0 5.4 0a2.7 2.7 0 1 0 -5.4 0M441.7 420.0a2.7 2.7 0 1 0 5.4 0a2.7 2.7 0 1 0 -5.4 0M443.3 265.3a2.7 2.7 0 1 0 5.4 0a2.7 2.7 0 1 0 -5.4 0M444.9 275.9a2.7 2.7 0 1 0 5.4 0a2.7 2.7 0 1 0 -5.4 0M444.9 404.6a2.7 2.7 0 1 0 5.4 0a2.7 2.7 0 1 0 -5.4 0M446.5 275.5a2.7 2.7 0 1 0 5.4 0a2.7 2.7 0 1 0 -5.4 0M446.5 394.0a2.7 2.7 0 1 0 5.4 0a2.7 2.7 0 1 0 -5.4 0M448.1 265.4a2.7 2.7 0 1 0 5.4 0a2.7 2.7 0 1 0 -5.4 0M448.1 389.7a2.7 2.7 0 1 0 5.4 0a2.7 2.7 0 1 0 -5.4 0M449.7 270.0a2.7 2.7 0 1 0 5.4 0a2.7 2.7 0 1 0 -5.4 0M449.7 384.0a2.7 2.7 0 1 0 5.4 0a2.7 2.7 0 1 0 -5.4 0M451.3 244.1a2.7 2.7 0 1 0 5.4 0a2.7 2.7 0 1 0 -5.4 0M451.3 256.6a2.7 2.7 0 1 0 5.4 0a2.7 2.7 0 1 0 -5.4 0M451.3 394.3a2.7 2.7 0 1 0 5.4 0a2.7 2.7 0 1 0 -5.4 0M452.9 266.0a2.7 2.7 0 1 0 5.4 0a2.7 2.7 0 1 0 -5.4 0M452.9 386.4a2.7 2.7 0 1 0 5.4 0a2.7 2.7 0 1 0 -5.4 0M454.5 277.2a2.7 2.7 0 1 0 5.4 0a2.7 2.7 0 1 0 -5.4 0M454.5 379.0a2.7 2.7 0 1 0 5.4 0a2.7 2.7 0 1 0 -5.4 0M456.1 259.5a2.7 2.7 0 1 0 5.4 0a2.7 2.7 0 1 0 -5.4 0M457.7 256.6a2.7 2.7 0 1 0 5.4 0a2.7 2.7 0 1 0 -5.4 0M457.7 377.7a2.7 2.7 0 1 0 5.4 0a2.7 2.7 0 1 0 -5.4 0M459.3 272.9a2.7 2.7 0 1 0 5.4 0a2.7 2.7 0 1 0 -5.4 0M459.3 247.4a2.7 2.7 0 1 0 5.4 0a2.7 2.7 0 1 0 -5.4 0M460.9 266.5a2.7 2.7 0 1 0 5.4 0a2.7 2.7 0 1 0 -5.4 0M462.5 234.4a2.7 2.7 0 1 0 5.4 0a2.7 2.7 0 1 0 -5.4 0M462.5 383.8a2.7 2.7 0 1 0 5.4 0a2.7 2.7 0 1 0 -5.4 0M465.7 261.1a2.7 2.7 0 1 0 5.4 0a2.7 2.7 0 1 0 -5.4 0M467.3 264.0a2.7 2.7 0 1 0 5.4 0a2.7 2.7 0 1 0 -5.4 0M468.9 255.5a2.7 2.7 0 1 0 5.4 0a2.7 2.7 0 1 0 -5.4 0M468.9 367.8a2.7 2.7 0 1 0 5.4 0a2.7 2.7 0 1 0 -5.4 0M470.5 268.2a2.7 2.7 0 1 0 5.4 0a2.7 2.7 0 1 0 -5.4 0M473.7 378.4a2.7 2.7 0 1 0 5.4 0a2.7 2.7 0 1 0 -5.4 0M475.3 287.3a2.7 2.7 0 1 0 5.4 0a2.7 2.7 0 1 0 -5.4 0M475.3 374.6a2.7 2.7 0 1 0 5.4 0a2.7 2.7 0 1 0 -5.4 0M476.9 383.3a2.7 2.7 0 1 0 5.4 0a2.7 2.7 0 1 0 -5.4 0M834.9 228.7a2.7 2.7 0 1 0 5.4 0a2.7 2.7 0 1 0 -5.4 0M836.5 217.6a2.7 2.7 0 1 0 5.4 0a2.7 2.7 0 1 0 -5.4 0M836.5 297.4a2.7 2.7 0 1 0 5.4 0a2.7 2.7 0 1 0 -5.4 0M839.7 230.3a2.7 2.7 0 1 0 5.4 0a2.7 2.7 0 1 0 -5.4 0M841.3 228.7a2.7 2.7 0 1 0 5.4 0a2.7 2.7 0 1 0 -5.4 0M842.9 223.3a2.7 2.7 0 1 0 5.4 0a2.7 2.7 0 1 0 -5.4 0M844.5 287.6a2.7 2.7 0 1 0 5.4 0a2.7 2.7 0 1 0 -5.4 0M846.1 227.7a2.7 2.7 0 1 0 5.4 0a2.7 2.7 0 1 0 -5.4 0M847.7 235.6a2.7 2.7 0 1 0 5.4 0a2.7 2.7 0 1 0 -5.4 0M849.3 218.8a2.7 2.7 0 1 0 5.4 0a2.7 2.7 0 1 0 -5.4 0M854.1 232.9a2.7 2.7 0 1 0 5.4 0a2.7 2.7 0 1 0 -5.4 0M855.7 227.4a2.7 2.7 0 1 0 5.4 0a2.7 2.7 0 1 0 -5.4 0M857.3 221.0a2.7 2.7 0 1 0 5.4 0a2.7 2.7 0 1 0 -5.4 0M858.9 224.3a2.7 2.7 0 1 0 5.4 0a2.7 2.7 0 1 0 -5.4 0M860.5 228.6a2.7 2.7 0 1 0 5.4 0a2.7 2.7 0 1 0 -5.4 0M860.5 212.4a2.7 2.7 0 1 0 5.4 0a2.7 2.7 0 1 0 -5.4 0M862.1 215.5a2.7 2.7 0 1 0 5.4 0a2.7 2.7 0 1 0 -5.4 0M863.7 222.2a2.7 2.7 0 1 0 5.4 0a2.7 2.7 0 1 0 -5.4 0M866.9 273.6a2.7 2.7 0 1 0 5.4 0a2.7 2.7 0 1 0 -5.4 0M871.7 285.6a2.7 2.7 0 1 0 5.4 0a2.7 2.7 0 1 0 -5.4 0M873.3 275.3a2.7 2.7 0 1 0 5.4 0a2.7 2.7 0 1 0 -5.4 0M878.1 139.2a2.7 2.7 0 1 0 5.4 0a2.7 2.7 0 1 0 -5.4 0M881.3 150.0a2.7 2.7 0 1 0 5.4 0a2.7 2.7 0 1 0 -5.4 0M882.9 167.9a2.7 2.7 0 1 0 5.4 0a2.7 2.7 0 1 0 -5.4 0M884.5 164.0a2.7 2.7 0 1 0 5.4 0a2.7 2.7 0 1 0 -5.4 0M886.1 160.1a2.7 2.7 0 1 0 5.4 0a2.7 2.7 0 1 0 -5.4 0M887.7 156.3a2.7 2.7 0 1 0 5.4 0a2.7 2.7 0 1 0 -5.4 0M889.3 165.1a2.7 2.7 0 1 0 5.4 0a2.7 2.7 0 1 0 -5.4 0M890.9 160.0a2.7 2.7 0 1 0 5.4 0a2.7 2.7 0 1 0 -5.4 0M892.5 201.8a2.7 2.7 0 1 0 5.4 0a2.7 2.7 0 1 0 -5.4 0M898.9 160.7a2.7 2.7 0 1 0 5.4 0a2.7 2.7 0 1 0 -5.4 0M900.5 162.9a2.7 2.7 0 1 0 5.4 0a2.7 2.7 0 1 0 -5.4 0M900.5 283.4a2.7 2.7 0 1 0 5.4 0a2.7 2.7 0 1 0 -5.4 0M902.1 266.8a2.7 2.7 0 1 0 5.4 0a2.7 2.7 0 1 0 -5.4 0M903.7 250.3a2.7 2.7 0 1 0 5.4 0a2.7 2.7 0 1 0 -5.4 0M905.3 277.0a2.7 2.7 0 1 0 5.4 0a2.7 2.7 0 1 0 -5.4 0M908.5 188.6a2.7 2.7 0 1 0 5.4 0a2.7 2.7 0 1 0 -5.4 0M911.7 198.0a2.7 2.7 0 1 0 5.4 0a2.7 2.7 0 1 0 -5.4 0M911.7 281.0a2.7 2.7 0 1 0 5.4 0a2.7 2.7 0 1 0 -5.4 0M913.3 290.3a2.7 2.7 0 1 0 5.4 0a2.7 2.7 0 1 0 -5.4 0M914.9 216.2a2.7 2.7 0 1 0 5.4 0a2.7 2.7 0 1 0 -5.4 0M916.5 200.4a2.7 2.7 0 1 0 5.4 0a2.7 2.7 0 1 0 -5.4 0M918.1 216.6a2.7 2.7 0 1 0 5.4 0a2.7 2.7 0 1 0 -5.4 0M919.7 213.6a2.7 2.7 0 1 0 5.4 0a2.7 2.7 0 1 0 -5.4 0M921.3 207.0a2.7 2.7 0 1 0 5.4 0a2.7 2.7 0 1 0 -5.4 0M921.3 282.1a2.7 2.7 0 1 0 5.4 0a2.7 2.7 0 1 0 -5.4 0M922.9 214.7a2.7 2.7 0 1 0 5.4 0a2.7 2.7 0 1 0 -5.4 0M927.7 219.0a2.7 2.7 0 1 0 5.4 0a2.7 2.7 0 1 0 -5.4 0M927.7 277.8a2.7 2.7 0 1 0 5.4 0a2.7 2.7 0 1 0 -5.4 0M930.9 222.9a2.7 2.7 0 1 0 5.4 0a2.7 2.7 0 1 0 -5.4 0M934.1 223.1a2.7 2.7 0 1 0 5.4 0a2.7 2.7 0 1 0 -5.4 0M935.7 205.3a2.7 2.7 0 1 0 5.4 0a2.7 2.7 0 1 0 -5.4 0M937.3 219.0a2.7 2.7 0 1 0 5.4 0a2.7 2.7 0 1 0 -5.4 0M940.5 217.3a2.7 2.7 0 1 0 5.4 0a2.7 2.7 0 1 0 -5.4 0M942.1 206.5a2.7 2.7 0 1 0 5.4 0a2.7 2.7 0 1 0 -5.4 0M943.7 216.2a2.7 2.7 0 1 0 5.4 0a2.7 2.7 0 1 0 -5.4 0M945.3 215.6a2.7 2.7 0 1 0 5.4 0a2.7 2.7 0 1 0 -5.4 0M946.9 254.9a2.7 2.7 0 1 0 5.4 0a2.7 2.7 0 1 0 -5.4 0M948.5 210.4a2.7 2.7 0 1 0 5.4 0a2.7 2.7 0 1 0 -5.4 0M950.1 209.9a2.7 2.7 0 1 0 5.4 0a2.7 2.7 0 1 0 -5.4 0M951.7 178.4a2.7 2.7 0 1 0 5.4 0a2.7 2.7 0 1 0 -5.4 0M953.3 192.5a2.7 2.7 0 1 0 5.4 0a2.7 2.7 0 1 0 -5.4 0M953.3 183.3a2.7 2.7 0 1 0 5.4 0a2.7 2.7 0 1 0 -5.4 0M954.9 184.0a2.7 2.7 0 1 0 5.4 0a2.7 2.7 0 1 0 -5.4 0M956.5 193.3a2.7 2.7 0 1 0 5.4 0a2.7 2.7 0 1 0 -5.4 0M958.1 158.5a2.7 2.7 0 1 0 5.4 0a2.7 2.7 0 1 0 -5.4 0M959.7 167.2a2.7 2.7 0 1 0 5.4 0a2.7 2.7 0 1 0 -5.4 0M959.7 168.7a2.7 2.7 0 1 0 5.4 0a2.7 2.7 0 1 0 -5.4 0M961.3 191.5a2.7 2.7 0 1 0 5.4 0a2.7 2.7 0 1 0 -5.4 0M962.9 203.8a2.7 2.7 0 1 0 5.4 0a2.7 2.7 0 1 0 -5.4 0M962.9 195.4a2.7 2.7 0 1 0 5.4 0a2.7 2.7 0 1 0 -5.4 0M962.9 259.4a2.7 2.7 0 1 0 5.4 0a2.7 2.7 0 1 0 -5.4 0M964.5 197.3a2.7 2.7 0 1 0 5.4 0a2.7 2.7 0 1 0 -5.4 0M964.5 202.5a2.7 2.7 0 1 0 5.4 0a2.7 2.7 0 1 0 -5.4 0M964.5 248.4a2.7 2.7 0 1 0 5.4 0a2.7 2.7 0 1 0 -5.4 0M966.1 210.2a2.7 2.7 0 1 0 5.4 0a2.7 2.7 0 1 0 -5.4 0M966.1 169.2a2.7 2.7 0 1 0 5.4 0a2.7 2.7 0 1 0 -5.4 0M967.7 193.6a2.7 2.7 0 1 0 5.4 0a2.7 2.7 0 1 0 -5.4 0M967.7 248.6a2.7 2.7 0 1 0 5.4 0a2.7 2.7 0 1 0 -5.4 0M969.3 210.1a2.7 2.7 0 1 0 5.4 0a2.7 2.7 0 1 0 -5.4 0M969.3 209.9a2.7 2.7 0 1 0 5.4 0a2.7 2.7 0 1 0 -5.4 0M970.9 186.6a2.7 2.7 0 1 0 5.4 0a2.7 2.7 0 1 0 -5.4 0M970.9 264.3a2.7 2.7 0 1 0 5.4 0a2.7 2.7 0 1 0 -5.4 0M972.5 222.2a2.7 2.7 0 1 0 5.4 0a2.7 2.7 0 1 0 -5.4 0M972.5 260.3a2.7 2.7 0 1 0 5.4 0a2.7 2.7 0 1 0 -5.4 0M974.1 219.4a2.7 2.7 0 1 0 5.4 0a2.7 2.7 0 1 0 -5.4 0M975.7 200.4a2.7 2.7 0 1 0 5.4 0a2.7 2.7 0 1 0 -5.4 0M975.7 265.0a2.7 2.7 0 1 0 5.4 0a2.7 2.7 0 1 0 -5.4 0M977.3 225.7a2.7 2.7 0 1 0 5.4 0a2.7 2.7 0 1 0 -5.4 0M977.3 266.1a2.7 2.7 0 1 0 5.4 0a2.7 2.7 0 1 0 -5.4 0M978.9 227.8a2.7 2.7 0 1 0 5.4 0a2.7 2.7 0 1 0 -5.4 0M980.5 224.7a2.7 2.7 0 1 0 5.4 0a2.7 2.7 0 1 0 -5.4 0M980.5 274.8a2.7 2.7 0 1 0 5.4 0a2.7 2.7 0 1 0 -5.4 0M982.1 216.5a2.7 2.7 0 1 0 5.4 0a2.7 2.7 0 1 0 -5.4 0M982.1 277.8a2.7 2.7 0 1 0 5.4 0a2.7 2.7 0 1 0 -5.4 0M983.7 219.0a2.7 2.7 0 1 0 5.4 0a2.7 2.7 0 1 0 -5.4 0M983.7 279.1a2.7 2.7 0 1 0 5.4 0a2.7 2.7 0 1 0 -5.4 0M985.3 228.4a2.7 2.7 0 1 0 5.4 0a2.7 2.7 0 1 0 -5.4 0M985.3 272.7a2.7 2.7 0 1 0 5.4 0a2.7 2.7 0 1 0 -5.4 0M986.9 207.9a2.7 2.7 0 1 0 5.4 0a2.7 2.7 0 1 0 -5.4 0M988.5 232.3a2.7 2.7 0 1 0 5.4 0a2.7 2.7 0 1 0 -5.4 0M990.1 218.5a2.7 2.7 0 1 0 5.4 0a2.7 2.7 0 1 0 -5.4 0M991.7 228.6a2.7 2.7 0 1 0 5.4 0a2.7 2.7 0 1 0 -5.4 0M991.7 275.4a2.7 2.7 0 1 0 5.4 0a2.7 2.7 0 1 0 -5.4 0M993.3 219.4a2.7 2.7 0 1 0 5.4 0a2.7 2.7 0 1 0 -5.4 0M994.9 220.3a2.7 2.7 0 1 0 5.4 0a2.7 2.7 0 1 0 -5.4 0M994.9 275.5a2.7 2.7 0 1 0 5.4 0a2.7 2.7 0 1 0 -5.4 0M996.5 208.0a2.7 2.7 0 1 0 5.4 0a2.7 2.7 0 1 0 -5.4 0M998.1 276.4a2.7 2.7 0 1 0 5.4 0a2.7 2.7 0 1 0 -5.4 0M999.7 226.4a2.7 2.7 0 1 0 5.4 0a2.7 2.7 0 1 0 -5.4 0M999.7 271.7a2.7 2.7 0 1 0 5.4 0a2.7 2.7 0 1 0 -5.4 0M1001.3 207.3a2.7 2.7 0 1 0 5.4 0a2.7 2.7 0 1 0 -5.4 0M1001.3 278.8a2.7 2.7 0 1 0 5.4 0a2.7 2.7 0 1 0 -5.4 0M1002.9 215.9a2.7 2.7 0 1 0 5.4 0a2.7 2.7 0 1 0 -5.4 0M1004.5 207.4a2.7 2.7 0 1 0 5.4 0a2.7 2.7 0 1 0 -5.4 0M1006.1 199.5a2.7 2.7 0 1 0 5.4 0a2.7 2.7 0 1 0 -5.4 0M1006.1 223.7a2.7 2.7 0 1 0 5.4 0a2.7 2.7 0 1 0 -5.4 0M1007.7 195.6a2.7 2.7 0 1 0 5.4 0a2.7 2.7 0 1 0 -5.4 0M1009.3 183.1a2.7 2.7 0 1 0 5.4 0a2.7 2.7 0 1 0 -5.4 0M1010.9 214.1a2.7 2.7 0 1 0 5.4 0a2.7 2.7 0 1 0 -5.4 0M1010.9 188.4a2.7 2.7 0 1 0 5.4 0a2.7 2.7 0 1 0 -5.4 0M1010.9 273.6a2.7 2.7 0 1 0 5.4 0a2.7 2.7 0 1 0 -5.4 0M1012.5 208.8a2.7 2.7 0 1 0 5.4 0a2.7 2.7 0 1 0 -5.4 0M1014.1 190.3a2.7 2.7 0 1 0 5.4 0a2.7 2.7 0 1 0 -5.4 0M1014.1 280.6a2.7 2.7 0 1 0 5.4 0a2.7 2.7 0 1 0 -5.4 0M1015.7 233.6a2.7 2.7 0 1 0 5.4 0a2.7 2.7 0 1 0 -5.4 0M1015.7 232.1a2.7 2.7 0 1 0 5.4 0a2.7 2.7 0 1 0 -5.4 0M1015.7 278.2a2.7 2.7 0 1 0 5.4 0a2.7 2.7 0 1 0 -5.4 0M1017.3 232.2a2.7 2.7 0 1 0 5.4 0a2.7 2.7 0 1 0 -5.4 0M1018.9 233.8a2.7 2.7 0 1 0 5.4 0a2.7 2.7 0 1 0 -5.4 0M1018.9 281.9a2.7 2.7 0 1 0 5.4 0a2.7 2.7 0 1 0 -5.4 0M1020.5 233.8a2.7 2.7 0 1 0 5.4 0a2.7 2.7 0 1 0 -5.4 0M1020.5 282.9a2.7 2.7 0 1 0 5.4 0a2.7 2.7 0 1 0 -5.4 0M1022.1 186.8a2.7 2.7 0 1 0 5.4 0a2.7 2.7 0 1 0 -5.4 0M1022.1 218.6a2.7 2.7 0 1 0 5.4 0a2.7 2.7 0 1 0 -5.4 0M1023.7 197.5a2.7 2.7 0 1 0 5.4 0a2.7 2.7 0 1 0 -5.4 0M1023.7 218.5a2.7 2.7 0 1 0 5.4 0a2.7 2.7 0 1 0 -5.4 0M1023.7 285.2a2.7 2.7 0 1 0 5.4 0a2.7 2.7 0 1 0 -5.4 0M1025.3 200.3a2.7 2.7 0 1 0 5.4 0a2.7 2.7 0 1 0 -5.4 0M1025.3 232.7a2.7 2.7 0 1 0 5.4 0a2.7 2.7 0 1 0 -5.4 0M1026.9 188.7a2.7 2.7 0 1 0 5.4 0a2.7 2.7 0 1 0 -5.4 0M1026.9 236.8a2.7 2.7 0 1 0 5.4 0a2.7 2.7 0 1 0 -5.4 0M1028.5 186.6a2.7 2.7 0 1 0 5.4 0a2.7 2.7 0 1 0 -5.4 0M1028.5 184.1a2.7 2.7 0 1 0 5.4 0a2.7 2.7 0 1 0 -5.4 0M1030.1 236.8a2.7 2.7 0 1 0 5.4 0a2.7 2.7 0 1 0 -5.4 0M1030.1 236.4a2.7 2.7 0 1 0 5.4 0a2.7 2.7 0 1 0 -5.4 0M1031.7 237.0a2.7 2.7 0 1 0 5.4 0a2.7 2.7 0 1 0 -5.4 0M1031.7 207.1a2.7 2.7 0 1 0 5.4 0a2.7 2.7 0 1 0 -5.4 0M1033.3 193.4a2.7 2.7 0 1 0 5.4 0a2.7 2.7 0 1 0 -5.4 0M1033.3 235.1a2.7 2.7 0 1 0 5.4 0a2.7 2.7 0 1 0 -5.4 0M1034.9 206.4a2.7 2.7 0 1 0 5.4 0a2.7 2.7 0 1 0 -5.4 0M1034.9 206.0a2.7 2.7 0 1 0 5.4 0a2.7 2.7 0 1 0 -5.4 0M1036.5 212.4a2.7 2.7 0 1 0 5.4 0a2.7 2.7 0 1 0 -5.4 0M1036.5 276.6a2.7 2.7 0 1 0 5.4 0a2.7 2.7 0 1 0 -5.4 0M1038.1 210.8a2.7 2.7 0 1 0 5.4 0a2.7 2.7 0 1 0 -5.4 0M1038.1 279.2a2.7 2.7 0 1 0 5.4 0a2.7 2.7 0 1 0 -5.4 0M1039.7 229.4a2.7 2.7 0 1 0 5.4 0a2.7 2.7 0 1 0 -5.4 0M1041.3 235.1a2.7 2.7 0 1 0 5.4 0a2.7 2.7 0 1 0 -5.4 0M1042.9 215.4a2.7 2.7 0 1 0 5.4 0a2.7 2.7 0 1 0 -5.4 0M1044.5 211.3a2.7 2.7 0 1 0 5.4 0a2.7 2.7 0 1 0 -5.4 0M1046.1 234.5a2.7 2.7 0 1 0 5.4 0a2.7 2.7 0 1 0 -5.4 0M1046.1 281.9a2.7 2.7 0 1 0 5.4 0a2.7 2.7 0 1 0 -5.4 0M1047.7 209.1a2.7 2.7 0 1 0 5.4 0a2.7 2.7 0 1 0 -5.4 0M1047.7 277.8a2.7 2.7 0 1 0 5.4 0a2.7 2.7 0 1 0 -5.4 0M1049.3 231.3a2.7 2.7 0 1 0 5.4 0a2.7 2.7 0 1 0 -5.4 0M1050.9 227.5a2.7 2.7 0 1 0 5.4 0a2.7 2.7 0 1 0 -5.4 0M1052.5 211.4a2.7 2.7 0 1 0 5.4 0a2.7 2.7 0 1 0 -5.4 0M1054.1 230.5a2.7 2.7 0 1 0 5.4 0a2.7 2.7 0 1 0 -5.4 0M1055.7 234.1a2.7 2.7 0 1 0 5.4 0a2.7 2.7 0 1 0 -5.4 0M1057.3 228.1a2.7 2.7 0 1 0 5.4 0a2.7 2.7 0 1 0 -5.4 0M1057.3 272.0a2.7 2.7 0 1 0 5.4 0a2.7 2.7 0 1 0 -5.4 0M1060.5 275.2a2.7 2.7 0 1 0 5.4 0a2.7 2.7 0 1 0 -5.4 0M1062.1 226.8a2.7 2.7 0 1 0 5.4 0a2.7 2.7 0 1 0 -5.4 0M1062.1 277.5a2.7 2.7 0 1 0 5.4 0a2.7 2.7 0 1 0 -5.4 0M1063.7 218.3a2.7 2.7 0 1 0 5.4 0a2.7 2.7 0 1 0 -5.4 0M1065.3 226.4a2.7 2.7 0 1 0 5.4 0a2.7 2.7 0 1 0 -5.4 0M1068.5 210.9a2.7 2.7 0 1 0 5.4 0a2.7 2.7 0 1 0 -5.4 0M1071.7 224.1a2.7 2.7 0 1 0 5.4 0a2.7 2.7 0 1 0 -5.4 0M1071.7 273.9a2.7 2.7 0 1 0 5.4 0a2.7 2.7 0 1 0 -5.4 0M1076.5 217.2a2.7 2.7 0 1 0 5.4 0a2.7 2.7 0 1 0 -5.4 0M1082.9 275.6a2.7 2.7 0 1 0 5.4 0a2.7 2.7 0 1 0 -5.4 0M1087.7 215.2a2.7 2.7 0 1 0 5.4 0a2.7 2.7 0 1 0 -5.4 0M1087.7 280.0a2.7 2.7 0 1 0 5.4 0a2.7 2.7 0 1 0 -5.4 0M1089.3 280.7a2.7 2.7 0 1 0 5.4 0a2.7 2.7 0 1 0 -5.4 0M1090.9 235.1a2.7 2.7 0 1 0 5.4 0a2.7 2.7 0 1 0 -5.4 0M1090.9 276.3a2.7 2.7 0 1 0 5.4 0a2.7 2.7 0 1 0 -5.4 0M1094.1 283.8a2.7 2.7 0 1 0 5.4 0a2.7 2.7 0 1 0 -5.4 0M1095.7 229.3a2.7 2.7 0 1 0 5.4 0a2.7 2.7 0 1 0 -5.4 0M1097.3 220.9a2.7 2.7 0 1 0 5.4 0a2.7 2.7 0 1 0 -5.4 0M1097.3 287.1a2.7 2.7 0 1 0 5.4 0a2.7 2.7 0 1 0 -5.4 0M1102.1 232.1a2.7 2.7 0 1 0 5.4 0a2.7 2.7 0 1 0 -5.4 0M1103.7 230.8a2.7 2.7 0 1 0 5.4 0a2.7 2.7 0 1 0 -5.4 0M1103.7 287.9a2.7 2.7 0 1 0 5.4 0a2.7 2.7 0 1 0 -5.4 0M1106.9 233.9a2.7 2.7 0 1 0 5.4 0a2.7 2.7 0 1 0 -5.4 0M1108.5 235.1a2.7 2.7 0 1 0 5.4 0a2.7 2.7 0 1 0 -5.4 0M1108.5 298.6a2.7 2.7 0 1 0 5.4 0a2.7 2.7 0 1 0 -5.4 0M1110.1 233.3a2.7 2.7 0 1 0 5.4 0a2.7 2.7 0 1 0 -5.4 0M1111.7 243.5a2.7 2.7 0 1 0 5.4 0a2.7 2.7 0 1 0 -5.4 0M1111.7 299.6a2.7 2.7 0 1 0 5.4 0a2.7 2.7 0 1 0 -5.4 0M1113.3 238.3a2.7 2.7 0 1 0 5.4 0a2.7 2.7 0 1 0 -5.4 0M1114.9 288.1a2.7 2.7 0 1 0 5.4 0a2.7 2.7 0 1 0 -5.4 0M1116.5 292.6a2.7 2.7 0 1 0 5.4 0a2.7 2.7 0 1 0 -5.4 0M1119.7 285.0a2.7 2.7 0 1 0 5.4 0a2.7 2.7 0 1 0 -5.4 0M1122.9 246.8a2.7 2.7 0 1 0 5.4 0a2.7 2.7 0 1 0 -5.4 0M1122.9 279.7a2.7 2.7 0 1 0 5.4 0a2.7 2.7 0 1 0 -5.4 0M1124.5 233.2a2.7 2.7 0 1 0 5.4 0a2.7 2.7 0 1 0 -5.4 0M1124.5 288.4a2.7 2.7 0 1 0 5.4 0a2.7 2.7 0 1 0 -5.4 0M1126.1 241.4a2.7 2.7 0 1 0 5.4 0a2.7 2.7 0 1 0 -5.4 0M1129.3 231.8a2.7 2.7 0 1 0 5.4 0a2.7 2.7 0 1 0 -5.4 0M1130.9 234.6a2.7 2.7 0 1 0 5.4 0a2.7 2.7 0 1 0 -5.4 0M1132.5 245.3a2.7 2.7 0 1 0 5.4 0a2.7 2.7 0 1 0 -5.4 0M1134.1 243.5a2.7 2.7 0 1 0 5.4 0a2.7 2.7 0 1 0 -5.4 0M1134.1 289.2a2.7 2.7 0 1 0 5.4 0a2.7 2.7 0 1 0 -5.4 0M1135.7 251.0a2.7 2.7 0 1 0 5.4 0a2.7 2.7 0 1 0 -5.4 0M1135.7 292.7a2.7 2.7 0 1 0 5.4 0a2.7 2.7 0 1 0 -5.4 0M1137.3 247.7a2.7 2.7 0 1 0 5.4 0a2.7 2.7 0 1 0 -5.4 0M1137.3 293.1a2.7 2.7 0 1 0 5.4 0a2.7 2.7 0 1 0 -5.4 0M1138.9 237.0a2.7 2.7 0 1 0 5.4 0a2.7 2.7 0 1 0 -5.4 0M1138.9 225.7a2.7 2.7 0 1 0 5.4 0a2.7 2.7 0 1 0 -5.4 0M1138.9 285.8a2.7 2.7 0 1 0 5.4 0a2.7 2.7 0 1 0 -5.4 0M1140.5 238.3a2.7 2.7 0 1 0 5.4 0a2.7 2.7 0 1 0 -5.4 0M1140.5 280.7a2.7 2.7 0 1 0 5.4 0a2.7 2.7 0 1 0 -5.4 0M1142.1 245.9a2.7 2.7 0 1 0 5.4 0a2.7 2.7 0 1 0 -5.4 0M1143.7 241.1a2.7 2.7 0 1 0 5.4 0a2.7 2.7 0 1 0 -5.4 0M1145.3 239.4a2.7 2.7 0 1 0 5.4 0a2.7 2.7 0 1 0 -5.4 0M1145.3 283.6a2.7 2.7 0 1 0 5.4 0a2.7 2.7 0 1 0 -5.4 0M1146.9 239.8a2.7 2.7 0 1 0 5.4 0a2.7 2.7 0 1 0 -5.4 0M1148.5 234.4a2.7 2.7 0 1 0 5.4 0a2.7 2.7 0 1 0 -5.4 0M1150.1 238.4a2.7 2.7 0 1 0 5.4 0a2.7 2.7 0 1 0 -5.4 0M1151.7 229.0a2.7 2.7 0 1 0 5.4 0a2.7 2.7 0 1 0 -5.4 0M1154.9 229.4a2.7 2.7 0 1 0 5.4 0a2.7 2.7 0 1 0 -5.4 0M1156.5 224.4a2.7 2.7 0 1 0 5.4 0a2.7 2.7 0 1 0 -5.4 0M1158.1 223.9a2.7 2.7 0 1 0 5.4 0a2.7 2.7 0 1 0 -5.4 0M1159.7 235.6a2.7 2.7 0 1 0 5.4 0a2.7 2.7 0 1 0 -5.4 0M1162.9 242.6a2.7 2.7 0 1 0 5.4 0a2.7 2.7 0 1 0 -5.4 0M1164.5 228.6a2.7 2.7 0 1 0 5.4 0a2.7 2.7 0 1 0 -5.4 0M1166.1 239.9a2.7 2.7 0 1 0 5.4 0a2.7 2.7 0 1 0 -5.4 0M1166.1 284.6a2.7 2.7 0 1 0 5.4 0a2.7 2.7 0 1 0 -5.4 0M1167.7 240.5a2.7 2.7 0 1 0 5.4 0a2.7 2.7 0 1 0 -5.4 0M1169.3 285.2a2.7 2.7 0 1 0 5.4 0a2.7 2.7 0 1 0 -5.4 0M1172.5 230.5a2.7 2.7 0 1 0 5.4 0a2.7 2.7 0 1 0 -5.4 0M1177.3 240.2a2.7 2.7 0 1 0 5.4 0a2.7 2.7 0 1 0 -5.4 0M1178.9 224.7a2.7 2.7 0 1 0 5.4 0a2.7 2.7 0 1 0 -5.4 0M1178.9 284.4a2.7 2.7 0 1 0 5.4 0a2.7 2.7 0 1 0 -5.4 0M1180.5 242.4a2.7 2.7 0 1 0 5.4 0a2.7 2.7 0 1 0 -5.4 0M1182.1 238.3a2.7 2.7 0 1 0 5.4 0a2.7 2.7 0 1 0 -5.4 0M1183.7 242.3a2.7 2.7 0 1 0 5.4 0a2.7 2.7 0 1 0 -5.4 0M1186.9 243.9a2.7 2.7 0 1 0 5.4 0a2.7 2.7 0 1 0 -5.4 0M1186.9 296.0a2.7 2.7 0 1 0 5.4 0a2.7 2.7 0 1 0 -5.4 0M1188.5 240.5a2.7 2.7 0 1 0 5.4 0a2.7 2.7 0 1 0 -5.4 0M1194.9 246.2a2.7 2.7 0 1 0 5.4 0a2.7 2.7 0 1 0 -5.4 0M1196.5 243.6a2.7 2.7 0 1 0 5.4 0a2.7 2.7 0 1 0 -5.4 0M1196.5 297.9a2.7 2.7 0 1 0 5.4 0a2.7 2.7 0 1 0 -5.4 0M1198.1 300.7a2.7 2.7 0 1 0 5.4 0a2.7 2.7 0 1 0 -5.4 0M1201.3 232.7a2.7 2.7 0 1 0 5.4 0a2.7 2.7 0 1 0 -5.4 0M1201.3 302.5a2.7 2.7 0 1 0 5.4 0a2.7 2.7 0 1 0 -5.4 0M1202.9 246.8a2.7 2.7 0 1 0 5.4 0a2.7 2.7 0 1 0 -5.4 0M1204.5 232.6a2.7 2.7 0 1 0 5.4 0a2.7 2.7 0 1 0 -5.4 0M1204.5 295.2a2.7 2.7 0 1 0 5.4 0a2.7 2.7 0 1 0 -5.4 0M1206.1 228.2a2.7 2.7 0 1 0 5.4 0a2.7 2.7 0 1 0 -5.4 0M1207.7 294.3a2.7 2.7 0 1 0 5.4 0a2.7 2.7 0 1 0 -5.4 0M1209.3 284.5a2.7 2.7 0 1 0 5.4 0a2.7 2.7 0 1 0 -5.4 0M1210.9 298.2a2.7 2.7 0 1 0 5.4 0a2.7 2.7 0 1 0 -5.4 0M1212.5 235.2a2.7 2.7 0 1 0 5.4 0a2.7 2.7 0 1 0 -5.4 0M1212.5 294.6a2.7 2.7 0 1 0 5.4 0a2.7 2.7 0 1 0 -5.4 0M1215.7 298.7a2.7 2.7 0 1 0 5.4 0a2.7 2.7 0 1 0 -5.4 0M1217.3 291.8a2.7 2.7 0 1 0 5.4 0a2.7 2.7 0 1 0 -5.4 0M1218.9 248.9a2.7 2.7 0 1 0 5.4 0a2.7 2.7 0 1 0 -5.4 0M1220.5 251.4a2.7 2.7 0 1 0 5.4 0a2.7 2.7 0 1 0 -5.4 0M1222.1 240.6a2.7 2.7 0 1 0 5.4 0a2.7 2.7 0 1 0 -5.4 0M1222.1 298.8a2.7 2.7 0 1 0 5.4 0a2.7 2.7 0 1 0 -5.4 0M1223.7 231.0a2.7 2.7 0 1 0 5.4 0a2.7 2.7 0 1 0 -5.4 0M1223.7 297.1a2.7 2.7 0 1 0 5.4 0a2.7 2.7 0 1 0 -5.4 0M1226.9 238.8a2.7 2.7 0 1 0 5.4 0a2.7 2.7 0 1 0 -5.4 0M1228.5 235.8a2.7 2.7 0 1 0 5.4 0a2.7 2.7 0 1 0 -5.4 0M1228.5 290.4a2.7 2.7 0 1 0 5.4 0a2.7 2.7 0 1 0 -5.4 0M1230.1 294.0a2.7 2.7 0 1 0 5.4 0a2.7 2.7 0 1 0 -5.4 0M1231.7 231.2a2.7 2.7 0 1 0 5.4 0a2.7 2.7 0 1 0 -5.4 0M1231.7 301.4a2.7 2.7 0 1 0 5.4 0a2.7 2.7 0 1 0 -5.4 0M1234.9 285.8a2.7 2.7 0 1 0 5.4 0a2.7 2.7 0 1 0 -5.4 0M1236.5 305.2a2.7 2.7 0 1 0 5.4 0a2.7 2.7 0 1 0 -5.4 0M1238.1 234.4a2.7 2.7 0 1 0 5.4 0a2.7 2.7 0 1 0 -5.4 0M1239.7 285.0a2.7 2.7 0 1 0 5.4 0a2.7 2.7 0 1 0 -5.4 0M1241.3 239.2a2.7 2.7 0 1 0 5.4 0a2.7 2.7 0 1 0 -5.4 0M1242.9 311.0a2.7 2.7 0 1 0 5.4 0a2.7 2.7 0 1 0 -5.4 0M1244.5 239.2a2.7 2.7 0 1 0 5.4 0a2.7 2.7 0 1 0 -5.4 0M1246.1 233.2a2.7 2.7 0 1 0 5.4 0a2.7 2.7 0 1 0 -5.4 0M1246.1 293.3a2.7 2.7 0 1 0 5.4 0a2.7 2.7 0 1 0 -5.4 0M1247.7 245.5a2.7 2.7 0 1 0 5.4 0a2.7 2.7 0 1 0 -5.4 0M1247.7 309.5a2.7 2.7 0 1 0 5.4 0a2.7 2.7 0 1 0 -5.4 0M1249.3 237.3a2.7 2.7 0 1 0 5.4 0a2.7 2.7 0 1 0 -5.4 0M1249.3 293.7a2.7 2.7 0 1 0 5.4 0a2.7 2.7 0 1 0 -5.4 0M1250.9 301.1a2.7 2.7 0 1 0 5.4 0a2.7 2.7 0 1 0 -5.4 0M1252.5 297.5a2.7 2.7 0 1 0 5.4 0a2.7 2.7 0 1 0 -5.4 0M1254.1 240.4a2.7 2.7 0 1 0 5.4 0a2.7 2.7 0 1 0 -5.4 0M1254.1 304.8a2.7 2.7 0 1 0 5.4 0a2.7 2.7 0 1 0 -5.4 0M1255.7 238.0a2.7 2.7 0 1 0 5.4 0a2.7 2.7 0 1 0 -5.4 0M1255.7 298.4a2.7 2.7 0 1 0 5.4 0a2.7 2.7 0 1 0 -5.4 0M1257.3 296.4a2.7 2.7 0 1 0 5.4 0a2.7 2.7 0 1 0 -5.4 0M1258.9 314.3a2.7 2.7 0 1 0 5.4 0a2.7 2.7 0 1 0 -5.4 0M1262.1 249.8a2.7 2.7 0 1 0 5.4 0a2.7 2.7 0 1 0 -5.4 0M1263.7 244.7a2.7 2.7 0 1 0 5.4 0a2.7 2.7 0 1 0 -5.4 0M1265.3 243.4a2.7 2.7 0 1 0 5.4 0a2.7 2.7 0 1 0 -5.4 0M1265.3 313.9a2.7 2.7 0 1 0 5.4 0a2.7 2.7 0 1 0 -5.4 0M1266.9 241.9a2.7 2.7 0 1 0 5.4 0a2.7 2.7 0 1 0 -5.4 0M1266.9 307.2a2.7 2.7 0 1 0 5.4 0a2.7 2.7 0 1 0 -5.4 0M1268.5 240.8a2.7 2.7 0 1 0 5.4 0a2.7 2.7 0 1 0 -5.4 0M1268.5 315.1a2.7 2.7 0 1 0 5.4 0a2.7 2.7 0 1 0 -5.4 0M1270.1 289.1a2.7 2.7 0 1 0 5.4 0a2.7 2.7 0 1 0 -5.4 0M1271.7 309.5a2.7 2.7 0 1 0 5.4 0a2.7 2.7 0 1 0 -5.4 0M1273.3 292.5a2.7 2.7 0 1 0 5.4 0a2.7 2.7 0 1 0 -5.4 0M1274.9 293.8a2.7 2.7 0 1 0 5.4 0a2.7 2.7 0 1 0 -5.4 0M1276.5 241.6a2.7 2.7 0 1 0 5.4 0a2.7 2.7 0 1 0 -5.4 0M1276.5 295.1a2.7 2.7 0 1 0 5.4 0a2.7 2.7 0 1 0 -5.4 0M1278.1 303.3a2.7 2.7 0 1 0 5.4 0a2.7 2.7 0 1 0 -5.4 0M1279.7 242.7a2.7 2.7 0 1 0 5.4 0a2.7 2.7 0 1 0 -5.4 0M1281.3 298.1a2.7 2.7 0 1 0 5.4 0a2.7 2.7 0 1 0 -5.4 0M1284.5 235.5a2.7 2.7 0 1 0 5.4 0a2.7 2.7 0 1 0 -5.4 0M1286.1 310.0a2.7 2.7 0 1 0 5.4 0a2.7 2.7 0 1 0 -5.4 0M1289.3 233.1a2.7 2.7 0 1 0 5.4 0a2.7 2.7 0 1 0 -5.4 0M1289.3 302.4a2.7 2.7 0 1 0 5.4 0a2.7 2.7 0 1 0 -5.4 0M1290.9 242.7a2.7 2.7 0 1 0 5.4 0a2.7 2.7 0 1 0 -5.4 0M1292.5 301.3a2.7 2.7 0 1 0 5.4 0a2.7 2.7 0 1 0 -5.4 0M1294.1 237.2a2.7 2.7 0 1 0 5.4 0a2.7 2.7 0 1 0 -5.4 0M1294.1 300.7a2.7 2.7 0 1 0 5.4 0a2.7 2.7 0 1 0 -5.4 0M1302.1 308.4a2.7 2.7 0 1 0 5.4 0a2.7 2.7 0 1 0 -5.4 0M1305.3 235.5a2.7 2.7 0 1 0 5.4 0a2.7 2.7 0 1 0 -5.4 0M1305.3 298.3a2.7 2.7 0 1 0 5.4 0a2.7 2.7 0 1 0 -5.4 0M1306.9 307.4a2.7 2.7 0 1 0 5.4 0a2.7 2.7 0 1 0 -5.4 0M1308.5 232.9a2.7 2.7 0 1 0 5.4 0a2.7 2.7 0 1 0 -5.4 0M1310.1 309.3a2.7 2.7 0 1 0 5.4 0a2.7 2.7 0 1 0 -5.4 0M1311.7 296.8a2.7 2.7 0 1 0 5.4 0a2.7 2.7 0 1 0 -5.4 0M1314.9 315.1a2.7 2.7 0 1 0 5.4 0a2.7 2.7 0 1 0 -5.4 0M1318.1 230.2a2.7 2.7 0 1 0 5.4 0a2.7 2.7 0 1 0 -5.4 0M1319.7 232.6a2.7 2.7 0 1 0 5.4 0a2.7 2.7 0 1 0 -5.4 0M1319.7 298.8a2.7 2.7 0 1 0 5.4 0a2.7 2.7 0 1 0 -5.4 0M1321.3 304.9a2.7 2.7 0 1 0 5.4 0a2.7 2.7 0 1 0 -5.4 0M1324.5 312.3a2.7 2.7 0 1 0 5.4 0a2.7 2.7 0 1 0 -5.4 0M1329.3 312.5a2.7 2.7 0 1 0 5.4 0a2.7 2.7 0 1 0 -5.4 0M1334.1 307.6a2.7 2.7 0 1 0 5.4 0a2.7 2.7 0 1 0 -5.4 0M1335.7 234.4a2.7 2.7 0 1 0 5.4 0a2.7 2.7 0 1 0 -5.4 0M1335.7 302.6a2.7 2.7 0 1 0 5.4 0a2.7 2.7 0 1 0 -5.4 0M1337.3 301.0a2.7 2.7 0 1 0 5.4 0a2.7 2.7 0 1 0 -5.4 0M1338.9 320.2a2.7 2.7 0 1 0 5.4 0a2.7 2.7 0 1 0 -5.4 0M1340.5 296.6a2.7 2.7 0 1 0 5.4 0a2.7 2.7 0 1 0 -5.4 0M1342.1 309.2a2.7 2.7 0 1 0 5.4 0a2.7 2.7 0 1 0 -5.4 0M1343.7 307.8a2.7 2.7 0 1 0 5.4 0a2.7 2.7 0 1 0 -5.4 0M1345.3 330.7a2.7 2.7 0 1 0 5.4 0a2.7 2.7 0 1 0 -5.4 0M1346.9 253.0a2.7 2.7 0 1 0 5.4 0a2.7 2.7 0 1 0 -5.4 0M1348.5 257.9a2.7 2.7 0 1 0 5.4 0a2.7 2.7 0 1 0 -5.4 0M1350.1 241.7a2.7 2.7 0 1 0 5.4 0a2.7 2.7 0 1 0 -5.4 0M1354.9 240.9a2.7 2.7 0 1 0 5.4 0a2.7 2.7 0 1 0 -5.4 0M1354.9 328.3a2.7 2.7 0 1 0 5.4 0a2.7 2.7 0 1 0 -5.4 0M1356.5 245.5a2.7 2.7 0 1 0 5.4 0a2.7 2.7 0 1 0 -5.4 0M1359.7 320.0a2.7 2.7 0 1 0 5.4 0a2.7 2.7 0 1 0 -5.4 0M1362.9 341.6a2.7 2.7 0 1 0 5.4 0a2.7 2.7 0 1 0 -5.4 0M1366.1 246.7a2.7 2.7 0 1 0 5.4 0a2.7 2.7 0 1 0 -5.4 0M1366.1 343.5a2.7 2.7 0 1 0 5.4 0a2.7 2.7 0 1 0 -5.4 0M1367.7 247.2a2.7 2.7 0 1 0 5.4 0a2.7 2.7 0 1 0 -5.4 0M1369.3 249.9a2.7 2.7 0 1 0 5.4 0a2.7 2.7 0 1 0 -5.4 0M1372.5 240.1a2.7 2.7 0 1 0 5.4 0a2.7 2.7 0 1 0 -5.4 0M1372.5 335.5a2.7 2.7 0 1 0 5.4 0a2.7 2.7 0 1 0 -5.4 0M1378.9 310.9a2.7 2.7 0 1 0 5.4 0a2.7 2.7 0 1 0 -5.4 0M1380.5 239.7a2.7 2.7 0 1 0 5.4 0a2.7 2.7 0 1 0 -5.4 0M1382.1 249.4a2.7 2.7 0 1 0 5.4 0a2.7 2.7 0 1 0 -5.4 0M1383.7 256.2a2.7 2.7 0 1 0 5.4 0a2.7 2.7 0 1 0 -5.4 0M1385.3 309.8a2.7 2.7 0 1 0 5.4 0a2.7 2.7 0 1 0 -5.4 0M1386.9 247.2a2.7 2.7 0 1 0 5.4 0a2.7 2.7 0 1 0 -5.4 0M1391.7 231.2a2.7 2.7 0 1 0 5.4 0a2.7 2.7 0 1 0 -5.4 0M1394.9 237.6a2.7 2.7 0 1 0 5.4 0a2.7 2.7 0 1 0 -5.4 0M1398.1 236.0a2.7 2.7 0 1 0 5.4 0a2.7 2.7 0 1 0 -5.4 0M1399.7 226.1a2.7 2.7 0 1 0 5.4 0a2.7 2.7 0 1 0 -5.4 0M1399.7 300.8a2.7 2.7 0 1 0 5.4 0a2.7 2.7 0 1 0 -5.4 0M1401.3 236.0a2.7 2.7 0 1 0 5.4 0a2.7 2.7 0 1 0 -5.4 0M1404.5 233.6a2.7 2.7 0 1 0 5.4 0a2.7 2.7 0 1 0 -5.4 0M1406.1 233.3a2.7 2.7 0 1 0 5.4 0a2.7 2.7 0 1 0 -5.4 0M1407.7 235.2a2.7 2.7 0 1 0 5.4 0a2.7 2.7 0 1 0 -5.4 0M1409.3 213.9a2.7 2.7 0 1 0 5.4 0a2.7 2.7 0 1 0 -5.4 0M1409.3 295.7a2.7 2.7 0 1 0 5.4 0a2.7 2.7 0 1 0 -5.4 0M1415.7 229.4a2.7 2.7 0 1 0 5.4 0a2.7 2.7 0 1 0 -5.4 0M1418.9 295.5a2.7 2.7 0 1 0 5.4 0a2.7 2.7 0 1 0 -5.4 0M1422.1 235.5a2.7 2.7 0 1 0 5.4 0a2.7 2.7 0 1 0 -5.4 0M1422.1 303.3a2.7 2.7 0 1 0 5.4 0a2.7 2.7 0 1 0 -5.4 0M1423.7 225.4a2.7 2.7 0 1 0 5.4 0a2.7 2.7 0 1 0 -5.4 0M1425.3 217.6a2.7 2.7 0 1 0 5.4 0a2.7 2.7 0 1 0 -5.4 0M1425.3 301.1a2.7 2.7 0 1 0 5.4 0a2.7 2.7 0 1 0 -5.4 0M1426.9 231.6a2.7 2.7 0 1 0 5.4 0a2.7 2.7 0 1 0 -5.4 0M1428.5 235.5a2.7 2.7 0 1 0 5.4 0a2.7 2.7 0 1 0 -5.4 0M1430.1 241.9a2.7 2.7 0 1 0 5.4 0a2.7 2.7 0 1 0 -5.4 0M1430.1 228.2a2.7 2.7 0 1 0 5.4 0a2.7 2.7 0 1 0 -5.4 0M1431.7 229.1a2.7 2.7 0 1 0 5.4 0a2.7 2.7 0 1 0 -5.4 0M1433.3 217.4a2.7 2.7 0 1 0 5.4 0a2.7 2.7 0 1 0 -5.4 0M1434.9 245.1a2.7 2.7 0 1 0 5.4 0a2.7 2.7 0 1 0 -5.4 0M1436.5 249.4a2.7 2.7 0 1 0 5.4 0a2.7 2.7 0 1 0 -5.4 0M1438.1 239.2a2.7 2.7 0 1 0 5.4 0a2.7 2.7 0 1 0 -5.4 0M1439.7 299.2a2.7 2.7 0 1 0 5.4 0a2.7 2.7 0 1 0 -5.4 0M1441.3 238.7a2.7 2.7 0 1 0 5.4 0a2.7 2.7 0 1 0 -5.4 0M1444.5 243.2a2.7 2.7 0 1 0 5.4 0a2.7 2.7 0 1 0 -5.4 0M1446.1 232.9a2.7 2.7 0 1 0 5.4 0a2.7 2.7 0 1 0 -5.4 0M1447.7 299.3a2.7 2.7 0 1 0 5.4 0a2.7 2.7 0 1 0 -5.4 0M1449.3 305.5a2.7 2.7 0 1 0 5.4 0a2.7 2.7 0 1 0 -5.4 0M1454.1 305.8a2.7 2.7 0 1 0 5.4 0a2.7 2.7 0 1 0 -5.4 0M1457.3 255.4a2.7 2.7 0 1 0 5.4 0a2.7 2.7 0 1 0 -5.4 0" fill="#1f77b4"/>
<path d="M116.4 299.8C116.8 296.8 117.8 282.9 118.6 282.0C119.4 281.1 119.7 291.5 121.0 294.7C122.3 297.9 124.5 300.1 126.2 301.0C127.9 301.9 129.7 303.6 131.4 300.0C133.1 296.4 134.8 281.9 136.5 279.3C138.2 276.7 140.5 281.6 141.6 284.5C142.7 287.4 142.2 296.5 143.0 297.0C143.8 297.5 145.6 290.9 146.6 287.7C147.6 284.5 147.9 281.3 148.8 277.7C149.7 274.1 151.3 268.6 152.2 266.0C153.1 263.4 153.6 262.1 154.4 262.2C155.2 262.3 156.0 268.5 157.0 266.6C158.0 264.7 159.7 250.4 160.5 251.0C161.3 251.6 161.3 259.3 162.0 270.0C162.7 280.7 164.0 305.5 164.6 315.0C165.2 324.5 165.3 324.5 165.7 327.0C166.1 329.5 166.6 333.7 167.2 330.0C167.8 326.3 168.4 309.6 169.0 305.0C169.6 300.4 169.8 302.0 171.0 302.4C172.2 302.8 174.6 313.9 176.1 307.5C177.6 301.1 178.5 276.4 180.0 264.0C181.5 251.6 183.6 238.4 185.1 233.3C186.6 228.2 187.9 215.4 189.0 233.3C190.1 251.2 190.7 315.6 191.5 340.8C192.3 366.0 192.9 384.3 194.0 384.3C195.1 384.3 196.4 353.2 197.9 340.8C199.4 328.4 201.5 316.8 203.0 310.0C204.5 303.2 205.2 294.2 206.9 299.8C208.6 305.4 211.0 339.0 213.3 343.3C215.7 347.6 219.1 319.4 221.0 325.4C222.9 331.3 223.5 376.0 224.8 379.0C226.1 382.0 226.7 345.0 228.6 343.3C230.5 341.6 233.7 368.6 236.3 369.0C238.9 369.4 241.9 353.2 244.0 345.9C246.1 338.6 247.4 319.0 249.1 325.4C250.8 331.8 251.8 363.0 254.2 384.3C256.6 405.6 261.2 448.3 263.2 453.4C265.2 458.5 265.1 424.8 266.0 415.0C266.9 405.2 267.5 400.5 268.6 394.5C269.7 388.5 271.1 376.4 272.4 379.0C273.7 381.6 275.1 410.8 276.2 410.0C277.3 409.2 277.9 379.2 278.8 374.0C279.7 368.8 280.1 375.6 281.4 379.0C282.7 382.4 285.0 389.3 286.5 394.5C288.0 399.7 289.0 413.4 290.3 410.0C291.6 406.6 292.9 384.7 294.2 374.0C295.5 363.3 296.7 349.7 298.0 345.9C299.3 342.1 300.5 343.3 301.8 351.0C303.1 358.7 304.4 379.6 305.7 392.0C307.0 404.4 308.4 417.9 309.5 425.2C310.6 432.4 310.9 441.9 312.0 435.5C313.1 429.1 314.8 400.4 315.9 386.8C317.0 373.2 317.6 351.5 318.5 353.6C319.4 355.7 319.9 401.3 321.0 399.6C322.1 397.9 323.8 356.1 324.9 343.3C326.0 330.5 326.3 322.9 327.4 322.9C328.5 322.9 330.0 337.8 331.3 343.3C332.6 348.8 333.8 359.8 335.1 356.0C336.4 352.2 337.7 329.2 339.0 320.3C340.3 311.4 341.3 303.7 342.8 302.4C344.3 301.1 346.2 316.5 347.9 312.6C349.6 308.8 351.3 282.3 353.0 279.3C354.7 276.3 356.4 292.1 358.1 294.7C359.8 297.3 361.6 293.8 363.3 294.7C365.0 295.6 367.1 302.8 368.4 299.8C369.7 296.8 369.9 277.7 371.0 276.8C372.1 275.9 373.5 295.1 374.8 294.7C376.1 294.3 376.9 278.9 378.6 274.2C380.3 269.5 383.3 256.7 385.0 266.5C386.7 276.3 387.4 322.3 388.9 333.0C390.4 343.7 392.3 331.3 394.0 330.5C395.7 329.7 397.4 325.9 399.1 328.0C400.8 330.1 402.7 346.3 404.2 343.3C405.7 340.3 406.5 304.9 408.0 310.0C409.5 315.1 411.9 369.1 413.2 374.0C414.5 378.9 414.9 340.9 416.0 339.4C417.1 337.9 418.5 356.0 419.8 365.0C421.1 374.0 422.6 391.5 423.7 393.2C424.8 394.9 425.1 374.8 426.2 375.2C427.2 375.6 428.5 394.8 430.0 395.7C431.5 396.6 433.4 388.9 435.1 380.4C436.8 371.9 438.7 354.8 440.2 344.5C441.7 334.2 442.9 318.0 444.0 318.9C445.1 319.8 445.4 351.7 446.5 349.6C447.6 347.5 449.0 310.4 450.5 306.1C452.0 301.8 454.1 320.1 455.6 324.0C457.1 327.9 458.1 326.6 459.4 329.2C460.7 331.8 462.0 348.8 463.3 339.4C464.6 330.0 465.8 278.0 467.1 272.9C468.4 267.8 469.7 297.6 471.0 308.7C472.3 319.8 473.1 334.3 474.8 339.4C476.5 344.5 479.3 349.6 481.2 339.4C483.1 329.2 484.8 285.7 486.3 278.0C487.8 270.3 488.8 290.3 490.1 293.3C491.4 296.3 492.5 292.5 494.0 295.9C495.5 299.3 497.4 315.5 499.1 313.8C500.8 312.1 502.3 292.9 504.2 285.7C506.1 278.4 508.9 270.7 510.6 270.3C512.3 269.9 512.9 281.8 514.4 283.1C515.9 284.4 517.9 280.6 519.6 278.0C521.3 275.4 523.2 268.6 524.7 267.7C526.2 266.8 527.3 278.9 528.6 272.9C529.9 266.9 530.9 234.9 532.4 231.9C533.9 228.9 535.8 243.8 537.5 254.9C539.2 266.0 541.1 287.0 542.6 298.5C544.1 310.0 545.2 324.9 546.5 324.0C547.8 323.1 549.0 306.1 550.3 293.3C551.6 280.5 552.8 255.8 554.1 247.3C555.4 238.8 556.5 240.4 558.0 242.1C559.5 243.8 561.2 253.2 563.1 257.5C565.0 261.8 567.6 260.0 569.5 267.7C571.4 275.4 573.1 297.2 574.6 303.6C576.1 310.0 577.0 308.2 578.5 306.1C580.0 304.0 581.9 292.1 583.6 290.8C585.3 289.5 586.6 300.6 588.7 298.5C590.8 296.4 594.3 279.7 596.4 278.0C598.5 276.3 599.8 288.6 601.5 288.2C603.2 287.8 604.9 276.2 606.6 275.4C608.3 274.5 610.0 284.0 611.7 283.1C613.4 282.2 614.7 272.9 616.8 270.3C618.9 267.7 621.9 269.4 624.5 267.7C627.1 266.0 629.6 261.0 632.2 260.1C634.8 259.2 637.4 263.0 639.9 262.6C642.4 262.2 645.0 258.8 647.5 257.5C650.0 256.2 652.6 258.3 655.2 254.9C657.8 251.5 660.8 236.6 662.9 237.0C665.0 237.4 666.5 260.9 668.0 257.5C669.5 254.1 670.6 227.2 671.9 216.5C673.2 205.8 674.4 192.6 675.7 193.5C677.0 194.4 678.2 211.0 679.5 221.7C680.8 232.4 682.1 251.1 683.4 257.5C684.7 263.9 685.9 263.9 687.2 260.1C688.5 256.3 689.8 242.2 691.1 234.5C692.4 226.8 693.2 217.4 694.9 214.0C696.6 210.6 699.4 207.2 701.3 214.0C703.2 220.8 704.7 247.7 706.4 254.9C708.1 262.1 709.8 256.3 711.5 257.5C713.2 258.7 714.9 260.7 716.6 262.0C718.3 263.3 720.2 264.9 721.8 265.2C723.4 265.5 724.6 265.7 726.2 263.8C727.8 261.9 729.5 253.2 731.4 253.6C733.3 254.0 736.1 267.3 737.8 266.4C739.5 265.5 740.1 250.5 741.6 248.4C743.1 246.3 745.4 253.6 746.7 253.6C748.0 253.6 748.2 250.1 749.3 248.4C750.4 246.7 751.8 242.0 753.1 243.3C754.4 244.6 755.5 253.5 757.0 256.1C758.5 258.7 760.6 259.1 762.1 258.7C763.6 258.3 764.8 253.2 765.9 253.6C767.0 254.0 767.4 259.9 768.5 261.2C769.6 262.5 770.8 261.2 772.3 261.2C773.8 261.2 775.5 261.2 777.4 261.2C779.3 261.2 781.7 261.2 783.8 261.2C785.9 261.2 787.9 261.2 790.2 261.2C792.6 261.2 795.5 260.3 797.9 261.2C800.2 262.1 802.2 266.0 804.3 266.4C806.4 266.8 808.6 263.8 810.7 263.8C812.8 263.8 815.6 266.2 817.1 266.4C818.6 266.6 818.7 265.0 820.0 265.2C821.3 265.4 823.4 264.4 825.1 267.8C826.8 271.2 828.9 282.7 830.2 285.7C831.5 288.7 831.9 288.2 832.8 285.7C833.7 283.1 834.5 274.7 835.4 270.4C836.2 266.1 836.6 261.0 837.9 260.1C839.2 259.2 841.3 264.4 843.0 265.2C844.7 266.0 846.5 265.2 848.2 265.2C849.9 265.2 851.6 265.6 853.3 265.2C855.0 264.8 856.9 263.5 858.4 262.7C859.9 261.9 860.9 259.2 862.2 260.1C863.5 261.0 864.8 267.8 866.1 267.8C867.4 267.8 869.0 271.6 869.9 260.1C870.8 248.6 870.6 213.6 871.2 198.7C871.8 183.8 872.9 174.3 873.7 170.5C874.6 166.7 875.4 173.6 876.3 175.7C877.2 177.8 878.2 172.2 878.9 183.3C879.6 194.4 880.1 243.0 880.7 242.2C881.3 241.3 881.9 186.7 882.7 178.2C883.5 169.7 884.4 190.6 885.3 191.0C886.1 191.4 886.9 181.7 887.8 180.8C888.6 180.0 889.5 179.5 890.4 185.9C891.2 192.3 892.0 206.8 892.9 219.2C893.8 231.6 894.6 252.4 895.5 260.1C896.4 267.8 897.4 272.9 898.1 265.2C898.8 257.5 899.3 213.1 899.9 214.0C900.5 214.9 900.9 274.6 901.9 270.4C902.9 266.1 904.4 199.2 905.7 188.5C907.0 177.8 908.3 199.2 909.6 206.4C910.9 213.7 912.1 222.2 913.4 232.0C914.7 241.8 916.2 256.7 917.3 265.2C918.4 273.7 918.7 290.0 919.8 283.2C920.9 276.4 922.4 233.3 923.7 224.3C925.0 215.3 926.0 223.0 927.5 229.4C929.0 235.8 930.9 261.8 932.6 262.7C934.3 263.6 936.5 238.6 937.7 234.5C938.9 230.4 938.9 236.7 940.0 238.3C941.1 240.0 943.1 242.9 944.6 244.4C946.1 245.9 947.7 245.4 949.2 247.5C950.7 249.6 952.3 258.8 953.8 256.7C955.3 254.6 956.9 239.0 958.4 235.2C959.9 231.4 961.5 235.2 963.0 233.7C964.5 232.2 966.3 225.8 967.6 226.0C968.9 226.2 969.9 232.9 970.7 235.2C971.5 237.5 971.2 237.9 972.2 240.0C973.2 242.1 975.2 245.8 976.8 247.5C978.3 249.2 980.0 250.5 981.5 250.5C983.0 250.5 984.6 247.5 986.1 247.5C987.6 247.5 989.2 250.8 990.7 250.5C992.2 250.2 993.8 245.2 995.3 246.0C996.8 246.8 998.4 253.4 999.9 255.2C1001.4 257.0 1003.0 258.2 1004.5 256.7C1006.0 255.2 1007.6 247.0 1009.1 246.0C1010.6 245.0 1012.2 249.8 1013.7 250.5C1015.2 251.2 1016.8 249.5 1018.3 250.5C1019.8 251.5 1021.4 256.7 1022.9 256.7C1024.4 256.7 1026.2 249.5 1027.5 250.5C1028.8 251.5 1029.8 261.2 1030.6 262.8C1031.4 264.4 1031.3 260.8 1032.1 260.0C1032.9 259.2 1034.4 258.6 1035.2 258.2C1036.0 257.8 1035.7 257.8 1036.7 257.5C1037.7 257.2 1039.5 257.1 1041.3 256.7C1043.1 256.3 1045.5 255.7 1047.5 255.2C1049.5 254.7 1052.1 254.4 1053.6 253.6C1055.1 252.8 1055.7 250.6 1056.7 250.5C1057.7 250.4 1058.3 252.2 1059.8 253.0C1061.3 253.8 1064.1 253.4 1065.9 255.0C1067.7 256.6 1069.5 262.3 1070.5 262.8C1071.5 263.3 1071.4 259.5 1072.0 258.0C1072.6 256.5 1073.0 254.1 1074.0 253.6C1075.0 253.1 1076.5 254.7 1078.2 255.2C1079.9 255.7 1082.5 256.6 1084.3 256.7C1086.1 256.8 1087.8 255.9 1088.9 256.0C1090.0 256.1 1089.7 257.2 1091.1 257.5C1092.5 257.8 1095.2 257.5 1097.3 257.5C1099.3 257.5 1101.4 257.8 1103.4 257.5C1105.5 257.2 1107.9 253.9 1109.6 256.0C1111.3 258.1 1111.9 269.8 1113.4 269.8C1114.9 269.8 1116.9 256.5 1118.8 256.0C1120.7 255.5 1122.9 265.4 1124.9 266.7C1127.0 268.0 1129.0 263.6 1131.1 263.6C1133.1 263.6 1135.2 265.9 1137.2 266.7C1139.2 267.5 1141.2 269.2 1143.3 268.2C1145.3 267.2 1147.5 262.0 1149.5 260.5C1151.5 259.0 1153.5 259.2 1155.6 259.0C1157.6 258.8 1159.8 259.2 1161.8 259.0C1163.8 258.8 1165.9 257.0 1167.9 257.5C1170.0 258.0 1172.0 260.8 1174.1 262.1C1176.1 263.4 1178.4 263.4 1180.2 265.2C1182.0 267.0 1182.8 273.6 1184.8 272.8C1186.8 272.0 1190.5 263.1 1192.5 260.5C1194.5 257.9 1195.6 257.0 1197.1 257.5C1198.6 258.0 1199.9 261.3 1201.7 263.6C1203.5 265.9 1205.8 272.3 1207.8 271.3C1209.8 270.3 1212.2 259.0 1214.0 257.5C1215.8 256.0 1217.1 258.8 1218.6 262.1C1220.1 265.4 1221.4 276.6 1223.2 277.4C1225.0 278.2 1227.4 269.0 1229.3 266.7C1231.2 264.4 1232.9 264.9 1234.6 263.6C1236.2 262.3 1237.4 258.0 1239.2 259.0C1241.0 260.0 1243.5 266.5 1245.4 269.8C1247.3 273.1 1249.2 279.8 1250.7 279.0C1252.2 278.2 1252.9 269.0 1254.6 265.2C1256.3 261.4 1258.7 250.1 1260.7 256.0C1262.7 261.9 1264.8 299.8 1266.8 300.5C1268.8 301.2 1271.0 265.9 1273.0 260.5C1275.0 255.1 1277.4 264.6 1279.1 268.2C1280.8 271.8 1281.7 282.5 1283.0 282.0C1284.3 281.5 1285.1 266.7 1286.8 265.2C1288.5 263.7 1291.2 272.0 1293.0 272.8C1294.8 273.6 1296.1 268.0 1297.6 269.8C1299.1 271.6 1300.7 282.8 1302.2 283.6C1303.7 284.4 1305.3 278.2 1306.8 274.4C1308.3 270.5 1309.6 260.8 1311.4 260.5C1313.2 260.2 1315.5 271.2 1317.5 272.8C1319.5 274.4 1321.7 269.8 1323.7 269.8C1325.8 269.8 1328.0 268.2 1329.8 272.8C1331.6 277.4 1333.0 299.9 1334.4 297.4C1335.8 294.8 1336.7 263.6 1338.2 257.5C1339.7 251.3 1341.9 255.7 1343.6 260.5C1345.3 265.3 1347.1 278.4 1348.5 286.1C1349.9 293.8 1350.8 309.7 1352.0 306.6C1353.2 303.5 1354.0 272.1 1355.4 267.3C1356.8 262.5 1358.8 275.3 1360.5 277.6C1362.2 279.9 1363.9 278.4 1365.6 281.0C1367.3 283.6 1369.3 289.8 1370.7 292.9C1372.1 296.0 1372.9 296.7 1374.1 299.8C1375.2 302.9 1376.3 317.4 1377.6 311.7C1378.9 306.0 1380.4 270.4 1381.8 265.6C1383.2 260.8 1384.5 279.6 1386.1 282.7C1387.7 285.8 1389.5 285.5 1391.2 284.4C1392.9 283.3 1394.9 275.0 1396.3 275.9C1397.7 276.8 1398.4 290.4 1399.8 289.5C1401.2 288.6 1403.2 273.6 1404.9 270.7C1406.6 267.8 1408.3 270.7 1410.0 272.4C1411.7 274.1 1413.4 281.3 1415.1 281.0C1416.8 280.7 1418.5 273.0 1420.2 270.7C1421.9 268.4 1423.7 264.7 1425.4 267.3C1427.1 269.9 1428.8 283.5 1430.5 286.1C1432.2 288.7 1434.2 281.9 1435.6 282.7C1437.0 283.5 1437.6 294.6 1439.0 291.2C1440.4 287.8 1442.5 264.2 1444.2 262.2C1445.9 260.2 1447.6 277.6 1449.3 279.3C1451.0 281.0 1453.0 271.3 1454.4 272.4C1455.8 273.5 1456.5 285.5 1457.8 286.1C1459.1 286.7 1461.6 277.6 1462.4 275.9" fill="none" stroke="#ff7f0e" stroke-width="2.08" stroke-linejoin="round" stroke-linecap="square"/>
</g>
<rect x="116.5" y="38.5" width="1346.0" height="478.0" fill="none" stroke="#000" stroke-width="1.11"/>
<path d="M116.5 516.5v4.86M284.5 516.5v4.86M452.5 516.5v4.86M621.5 516.5v4.86M789.5 516.5v4.86M957.5 516.5v4.86M1125.5 516.5v4.86M1294.5 516.5v4.86M116.5 80.5h-4.86M116.5 142.5h-4.86M116.5 203.5h-4.86M116.5 265.5h-4.86M116.5 326.5h-4.86M116.5 388.5h-4.86M116.5 449.5h-4.86M116.5 511.5h-4.86" stroke="#000" stroke-width="1.11" fill="none"/>
<text x="106.2" y="88.70" text-anchor="end" class="tl">1.5</text>
<text x="106.2" y="150.23" text-anchor="end" class="tl">1.0</text>
<text x="106.2" y="211.76" text-anchor="end" class="tl">0.5</text>
<text x="106.2" y="273.29" text-anchor="end" class="tl">0.0</text>
<text x="106.2" y="334.82" text-anchor="end" class="tl">−0.5</text>
<text x="106.2" y="396.35" text-anchor="end" class="tl">−1.0</text>
<text x="106.2" y="457.88" text-anchor="end" class="tl">−1.5</text>
<text x="106.2" y="519.40" text-anchor="end" class="tl">−2.0</text>
<rect x="1047.55" y="48.35" width="405.9" height="80.3" rx="3.7" fill="#fff" opacity="0.8" stroke="#cccccc" stroke-width="1.11"/>
<circle cx="1073.5" cy="63.50" r="2.78" fill="#1f77b4"/>
<line x1="1054.49" y1="102.38" x2="1091.52" y2="102.38" stroke="#ff7f0e" stroke-width="2.08" stroke-linecap="square"/>
<text x="1106.32" y="69.33" class="lg">Raw Data</text>
<text x="1106.32" y="95.50" class="lg">Butterworth Filtered Data</text>
<text x="1106.32" y="117.22" class="lg">(N=6, Tc=3.3333 min, Type: low)</text>
<rect x="168.0" y="576.7" width="707.0" height="477.6" fill="#e6e6e6"/>
<path d="M168.5 576.7V1054.3M874.5 576.7V1054.3" stroke="#dcdcdc" stroke-width="1"/>
<path d="M284.5 576.7V1054.3M452.5 576.7V1054.3M621.5 576.7V1054.3M789.5 576.7V1054.3M957.5 576.7V1054.3M1125.5 576.7V1054.3M1294.5 576.7V1054.3M116.4 1031.5H1462.4M116.4 926.5H1462.4M116.4 820.5H1462.4M116.4 715.5H1462.4M116.4 610.5H1462.4" stroke="#b0b0b0" stroke-width="1.11" stroke-dasharray="1.11 1.83" fill="none"/>
<g clip-path="url(#cb)">
<path d="M116.4 933.0 L118.6 922.8 L122.4 945.8 L125.0 951.0 L127.5 975.2 L130.1 948.4 L133.4 876.7 L136.0 919.0 L139.0 890.8 L143.6 945.8 L146.7 935.6 L150.6 916.4 L153.1 945.8 L155.7 921.5 L159.0 892.0 L163.4 911.2 L167.2 895.9 L171.0 899.8 L173.6 857.5 L176.9 765.0 L180.0 760.0 L183.1 800.0 L186.4 829.3 L190.2 845.0 L192.8 780.0 L195.3 720.0 L197.0 692.0 L199.2 682.0 L201.2 690.0 L203.0 700.0 L205.0 760.0 L206.9 801.2 L210.7 890.8 L212.7 990.0 L215.8 1013.6 L220.9 1013.6 L224.8 993.2 L228.6 1008.5 L233.7 1011.0 L238.9 990.6 L244.0 1006.0 L249.1 1008.5 L254.2 1006.0 L259.3 990.6 L264.5 990.6 L266.0 991.6 L269.4 986.5 L272.8 998.5 L276.2 991.6 L279.7 991.6 L283.1 984.8 L286.5 972.9 L289.9 984.8 L293.3 950.7 L296.7 949.0 L298.4 949.0 L301.8 969.5 L305.2 983.1 L308.7 984.8 L312.1 955.8 L315.5 984.8 L318.9 984.8 L322.3 986.5 L325.7 959.2 L329.1 981.4 L332.6 979.7 L335.1 969.5 L339.4 979.7 L342.8 983.1 L345.4 986.5 L347.9 981.4 L351.3 981.4 L357.3 978.0 L359.9 996.8 L365.0 1000.2 L370.1 1000.2 L373.5 1000.2 L378.6 1003.6 L382.0 1005.3 L385.5 1017.2 L388.9 995.1 L392.3 1000.2 L395.7 1015.5 L400.8 1017.2 L405.1 1007.0 L409.3 1017.2 L412.8 995.1 L415.3 969.5 L419.4 979.7 L422.8 962.6 L426.2 983.1 L428.8 969.5 L432.2 955.8 L434.8 995.0 L437.3 1003.6 L439.9 1019.0 L445.0 1022.4 L450.1 1022.4 L455.2 1024.0 L460.4 1019.0 L464.6 1007.0 L467.2 991.6 L469.8 1003.6 L474.0 1015.5 L479.1 1017.2 L482.6 1007.0 L486.0 996.8 L490.2 995.1 L493.6 990.0 L496.2 959.2 L498.8 983.1 L502.2 1000.2 L506.4 1007.0 L510.7 1003.6 L516.7 1007.0 L522.7 1013.8 L526.9 1010.4 L532.0 1007.0 L536.3 1000.2 L540.6 1005.3 L545.7 1013.8 L550.0 1010.4 L554.2 1010.4 L559.3 1005.3 L564.5 1010.4 L566.0 1011.9 L570.4 1009.7 L574.9 1011.9 L579.3 1005.2 L582.6 998.6 L587.1 1003.0 L590.4 998.6 L594.8 980.8 L599.3 963.1 L603.7 971.9 L608.2 976.4 L612.6 954.2 L615.9 914.3 L618.6 861.0 L621.5 909.8 L624.8 905.4 L627.7 887.6 L630.3 903.2 L632.6 896.5 L634.8 874.3 L636.6 874.3 L638.8 867.7 L641.4 883.2 L644.8 863.2 L646.3 841.0 L649.2 843.2 L651.4 856.6 L653.6 856.6 L657.0 861.0 L660.3 865.4 L663.6 923.1 L667.0 934.2 L670.3 936.4 L673.6 967.5 L676.9 954.2 L680.3 971.9 L683.6 940.9 L686.9 974.2 L691.4 967.5 L694.7 985.3 L699.1 1003.0 L703.6 1007.4 L706.2 934.2 L709.1 940.9 L712.4 934.2 L716.0 928.5 L720.3 909.7 L723.7 945.6 L727.9 952.4 L733.1 974.6 L737.3 952.4 L740.7 972.9 L745.0 920.0 L749.3 972.9 L752.7 972.9 L757.0 984.8 L761.2 978.0 L765.5 966.0 L768.0 972.9 L773.2 942.2 L775.7 945.6 L778.3 949.0 L782.6 945.6 L786.0 938.7 L789.4 945.6 L791.9 911.4 L794.5 896.1 L797.9 909.7 L800.5 914.8 L803.0 931.9 L805.6 928.5 L809.0 947.3 L811.6 952.4 L815.0 969.5 L818.4 964.3 L822.7 966.0 L826.9 996.8 L831.2 996.8 L835.5 1003.6 L838.9 1005.3 L844.0 1005.3 L848.3 1000.2 L852.5 1005.3 L857.6 1008.7 L862.8 1015.5 L866.0 1017.3 L870.6 1024.2 L875.2 1026.5 L879.8 1024.2 L882.1 975.8 L884.4 886.0 L886.7 873.3 L890.2 936.6 L893.6 907.9 L897.1 947.0 L898.3 956.3 L900.6 866.4 L903.3 791.9 L906.3 954.0 L909.8 942.5 L914.4 951.7 L917.8 949.3 L921.3 867.6 L924.8 909.0 L928.2 914.8 L932.8 912.5 L937.4 920.5 L942.0 937.8 L945.5 910.2 L947.8 960.9 L953.6 927.5 L958.2 940.1 L963.9 933.2 L967.4 971.2 L972.0 952.8 L977.8 918.2 L981.2 941.2 L984.7 940.1 L988.1 967.8 L992.7 935.5 L996.2 958.6 L999.6 930.9 L1003.1 918.2 L1006.6 919.4 L1011.2 944.7 L1015.8 949.3 L1019.4 953.2 L1022.8 948.2 L1028.0 965.2 L1031.4 914.0 L1034.8 927.7 L1038.2 958.3 L1041.6 945.6 L1044.2 937.0 L1047.6 959.2 L1051.0 947.2 L1053.5 968.6 L1057.0 960.0 L1059.5 974.6 L1062.1 954.1 L1067.2 962.6 L1069.8 974.6 L1074.0 949.8 L1077.4 971.1 L1080.8 965.2 L1084.3 974.6 L1088.5 953.2 L1091.1 978.8 L1094.5 970.3 L1099.6 955.8 L1103.9 978.8 L1107.3 963.5 L1111.6 976.2 L1115.0 987.4 L1118.4 980.5 L1121.0 961.0 L1123.5 978.0 L1126.9 964.4 L1132.0 983.1 L1136.3 960.9 L1140.6 965.2 L1143.1 988.2 L1146.5 946.4 L1150.0 983.1 L1153.4 964.3 L1157.6 990.0 L1161.9 963.5 L1165.3 980.5 L1170.4 984.1 L1176.0 986.4 L1180.4 968.6 L1185.5 964.2 L1188.2 967.5 L1191.5 955.3 L1194.8 976.4 L1199.3 998.6 L1203.7 980.9 L1207.0 977.5 L1211.5 969.8 L1215.9 976.4 L1220.4 983.0 L1223.7 955.3 L1225.9 948.6 L1228.6 956.4 L1232.6 968.6 L1235.2 967.5 L1238.1 938.7 L1241.4 967.5 L1245.9 979.7 L1249.2 956.4 L1252.5 901.0 L1255.9 959.7 L1259.2 980.9 L1263.6 980.8 L1267.0 925.3 L1270.3 915.4 L1273.6 942.0 L1276.9 937.5 L1281.4 932.0 L1285.8 948.7 L1290.3 958.7 L1294.7 956.4 L1299.1 947.5 L1302.5 944.2 L1305.8 920.9 L1309.1 942.0 L1312.4 928.7 L1316.0 932.9 L1319.1 908.3 L1323.7 948.2 L1328.3 945.2 L1332.9 945.2 L1336.0 928.2 L1339.1 934.4 L1343.7 955.9 L1348.3 948.2 L1352.9 882.6 L1356.6 948.2 L1362.1 937.5 L1366.7 925.1 L1372.9 923.6 L1375.9 940.5 L1380.6 882.2 L1385.2 926.7 L1389.8 911.4 L1394.4 940.5 L1399.0 937.5 L1403.6 951.3 L1407.6 906.8 L1411.3 952.8 L1415.9 926.7 L1420.5 946.7 L1425.1 946.6 L1429.7 962.0 L1434.4 939.0 L1439.6 837.5 L1443.6 903.6 L1448.2 923.7 L1452.8 931.3 L1458.9 880.6 L1462.4 897.5 L1462.4 1022.7 L1458.9 1021.1 L1452.8 1023.2 L1448.2 1022.4 L1443.6 1023.0 L1439.6 1022.4 L1434.4 1021.4 L1429.7 1023.0 L1425.1 1019.6 L1420.5 1020.7 L1415.9 1021.9 L1411.3 1022.5 L1407.6 1019.8 L1403.6 1022.2 L1399.0 1022.5 L1394.4 1021.6 L1389.8 1023.0 L1385.2 1022.0 L1380.6 1020.1 L1375.9 1022.1 L1372.9 1021.4 L1366.7 1022.8 L1362.1 1021.4 L1356.6 1023.5 L1352.9 1020.4 L1348.3 1020.5 L1343.7 1022.8 L1339.1 1019.6 L1336.0 1019.8 L1332.9 1022.0 L1328.3 1021.9 L1323.7 1021.0 L1319.1 1021.7 L1316.0 1020.5 L1312.4 1020.7 L1309.1 1020.7 L1305.8 1023.0 L1302.5 1023.0 L1299.1 1023.0 L1294.7 1023.0 L1290.3 1023.0 L1285.8 1023.0 L1281.4 1020.7 L1276.9 1020.7 L1273.6 1020.7 L1270.3 1020.7 L1267.0 1020.7 L1263.6 1023.0 L1259.2 1025.2 L1255.9 1023.0 L1252.5 1023.0 L1249.2 1023.0 L1245.9 1023.0 L1241.4 1023.0 L1238.1 1023.0 L1235.2 1023.0 L1232.6 1023.0 L1228.6 1023.0 L1225.9 1023.0 L1223.7 1023.0 L1220.4 1025.2 L1215.9 1025.2 L1211.5 1025.2 L1207.0 1027.4 L1203.7 1027.4 L1199.3 1027.4 L1194.8 1027.4 L1191.5 1027.4 L1188.2 1027.4 L1185.5 1028.5 L1180.4 1027.4 L1176.0 1027.4 L1170.4 1027.4 L1165.3 1029.2 L1161.9 1027.5 L1157.6 1025.8 L1153.4 1025.8 L1150.0 1025.8 L1146.5 1025.8 L1143.1 1025.8 L1140.6 1025.8 L1136.3 1025.8 L1132.0 1025.8 L1126.9 1025.8 L1123.5 1027.5 L1121.0 1027.5 L1118.4 1025.8 L1115.0 1025.8 L1111.6 1025.8 L1107.3 1027.5 L1103.9 1027.5 L1099.6 1025.8 L1094.5 1024.0 L1091.1 1024.0 L1088.5 1024.0 L1084.3 1025.8 L1080.8 1024.0 L1077.4 1025.8 L1074.0 1025.8 L1069.8 1025.8 L1067.2 1024.0 L1062.1 1025.8 L1059.5 1027.5 L1057.0 1025.8 L1053.5 1025.8 L1051.0 1024.0 L1047.6 1024.0 L1044.2 1020.6 L1041.6 1022.4 L1038.2 1022.4 L1034.8 1024.0 L1031.4 1022.4 L1028.0 1024.0 L1022.8 1017.2 L1019.4 1019.0 L1015.8 1019.6 L1011.2 1024.2 L1006.6 1019.6 L1003.1 1019.6 L999.6 1019.6 L996.2 1019.6 L992.7 1015.0 L988.1 1017.3 L984.7 1017.3 L981.2 1019.6 L977.8 1021.9 L972.0 1019.6 L967.4 1021.9 L963.9 1021.9 L958.2 1019.6 L953.6 1021.9 L947.8 1024.2 L945.5 1024.2 L942.0 1021.9 L937.4 1021.9 L932.8 1019.6 L928.2 1021.9 L924.8 1019.6 L921.3 1017.3 L917.8 1015.0 L914.4 1021.9 L909.8 1021.9 L906.3 1021.9 L903.3 1021.9 L900.6 1001.2 L898.3 1001.2 L897.1 1001.2 L893.6 1001.2 L890.2 1012.7 L886.7 1015.0 L884.4 1015.0 L882.1 1031.1 L879.8 1032.3 L875.2 1032.3 L870.6 1031.1 L866.0 1030.0 L862.8 1031.5 L857.6 1031.5 L852.5 1031.5 L848.3 1031.5 L844.0 1031.5 L838.9 1031.5 L835.5 1031.5 L831.2 1031.5 L826.9 1031.5 L822.7 1031.5 L818.4 1031.5 L815.0 1030.5 L811.6 1030.5 L809.0 1028.8 L805.6 1028.8 L803.0 1028.8 L800.5 1027.0 L797.9 1027.0 L794.5 1027.0 L791.9 1023.6 L789.4 1025.4 L786.0 1027.0 L782.6 1028.8 L778.3 1030.5 L775.7 1030.5 L773.2 1028.8 L768.0 1030.5 L765.5 1030.5 L761.2 1030.5 L757.0 1028.8 L752.7 1028.8 L749.3 1028.8 L745.0 1027.0 L740.7 1028.8 L737.3 1028.8 L733.1 1028.8 L727.9 1028.8 L723.7 1025.4 L720.3 1027.0 L716.0 1027.0 L712.4 1030.4 L709.1 1026.0 L706.2 1026.0 L703.6 1028.2 L699.1 1028.2 L694.7 1026.0 L691.4 1026.0 L686.9 1026.0 L683.6 1023.7 L680.3 1023.7 L676.9 1023.7 L673.6 1023.7 L670.3 1023.7 L667.0 1026.0 L663.6 1023.7 L660.3 1021.5 L657.0 1023.7 L653.6 1023.7 L651.4 1021.5 L649.2 1021.5 L646.3 1021.5 L644.8 1021.5 L641.4 1019.3 L638.8 1021.5 L636.6 1023.7 L634.8 1023.7 L632.6 1023.7 L630.3 1023.7 L627.7 1023.7 L624.8 1023.7 L621.5 1023.7 L618.6 1023.7 L615.9 1023.7 L612.6 1023.7 L608.2 1026.0 L603.7 1026.0 L599.3 1028.2 L594.8 1030.4 L590.4 1030.4 L587.1 1031.5 L582.6 1031.5 L579.3 1031.5 L574.9 1031.5 L570.4 1031.5 L566.0 1031.5 L564.5 1031.5 L559.3 1031.8 L554.2 1031.8 L550.0 1031.8 L545.7 1031.8 L540.6 1031.8 L536.3 1031.8 L532.0 1031.8 L526.9 1031.8 L522.7 1031.8 L516.7 1031.8 L510.7 1031.8 L506.4 1031.8 L502.2 1031.8 L498.8 1030.5 L496.2 1030.5 L493.6 1028.8 L490.2 1030.5 L486.0 1030.5 L482.6 1031.8 L479.1 1031.8 L474.0 1031.8 L469.8 1031.8 L467.2 1031.8 L464.6 1031.8 L460.4 1031.8 L455.2 1031.8 L450.1 1031.8 L445.0 1031.8 L439.9 1031.8 L437.3 1031.8 L434.8 1030.5 L432.2 1028.8 L428.8 1027.0 L426.2 1027.0 L422.8 1027.0 L419.4 1028.8 L415.3 1030.5 L412.8 1030.5 L409.3 1031.8 L405.1 1031.8 L400.8 1031.8 L395.7 1031.3 L392.3 1030.5 L388.9 1030.5 L385.5 1030.5 L382.0 1030.5 L378.6 1030.5 L373.5 1028.8 L370.1 1028.8 L365.0 1027.0 L359.9 1025.4 L357.3 1025.4 L351.3 1025.4 L347.9 1025.4 L345.4 1025.4 L342.8 1025.4 L339.4 1025.4 L335.1 1023.6 L332.6 1023.6 L329.1 1023.6 L325.7 1021.9 L322.3 1021.9 L318.9 1021.9 L315.5 1023.6 L312.1 1023.6 L308.7 1023.6 L305.2 1021.9 L301.8 1021.9 L298.4 1020.2 L296.7 1021.9 L293.3 1023.6 L289.9 1025.4 L286.5 1025.4 L283.1 1027.0 L279.7 1027.0 L276.2 1027.0 L272.8 1028.8 L269.4 1028.8 L266.0 1028.8 L264.5 1026.9 L259.3 1029.4 L254.2 1029.4 L249.1 1029.4 L244.0 1031.8 L238.9 1031.8 L233.7 1031.8 L228.6 1031.8 L224.8 1031.8 L220.9 1031.8 L215.8 1031.8 L212.7 1031.5 L210.7 1006.0 L206.9 980.4 L205.0 990.0 L203.0 995.7 L201.2 975.0 L199.2 962.4 L197.0 970.0 L195.3 980.4 L192.8 1000.0 L190.2 1008.5 L186.4 1018.7 L183.1 1018.7 L180.0 1006.0 L176.9 1003.4 L173.6 1006.0 L171.0 1003.4 L167.2 1016.2 L163.4 1003.4 L159.0 995.7 L155.7 995.7 L153.1 1021.3 L150.6 1013.6 L146.7 1011.0 L143.6 1008.5 L139.0 1011.0 L136.0 1008.5 L133.4 1013.6 L130.1 1016.2 L127.5 1021.3 L125.0 1018.7 L122.4 1016.2 L118.6 1018.7 L116.4 1016.2Z" fill="#1f77b4" stroke="#1f77b4" stroke-width="1.5" stroke-linejoin="round"/>
<path d="M113.9 1016.0a2.7 2.7 0 1 0 5.4 0a2.7 2.7 0 1 0 -5.4 0M118.9 1014.9a2.7 2.7 0 1 0 5.4 0a2.7 2.7 0 1 0 -5.4 0M120.8 1016.5a2.7 2.7 0 1 0 5.4 0a2.7 2.7 0 1 0 -5.4 0M124.2 1020.4a2.7 2.7 0 1 0 5.4 0a2.7 2.7 0 1 0 -5.4 0M126.1 1017.0a2.7 2.7 0 1 0 5.4 0a2.7 2.7 0 1 0 -5.4 0M127.5 1014.4a2.7 2.7 0 1 0 5.4 0a2.7 2.7 0 1 0 -5.4 0M132.3 1007.3a2.7 2.7 0 1 0 5.4 0a2.7 2.7 0 1 0 -5.4 0M133.4 1007.0a2.7 2.7 0 1 0 5.4 0a2.7 2.7 0 1 0 -5.4 0M136.9 1008.9a2.7 2.7 0 1 0 5.4 0a2.7 2.7 0 1 0 -5.4 0M139.4 1008.6a2.7 2.7 0 1 0 5.4 0a2.7 2.7 0 1 0 -5.4 0M143.8 1009.0a2.7 2.7 0 1 0 5.4 0a2.7 2.7 0 1 0 -5.4 0M144.4 1010.5a2.7 2.7 0 1 0 5.4 0a2.7 2.7 0 1 0 -5.4 0M149.1 1016.9a2.7 2.7 0 1 0 5.4 0a2.7 2.7 0 1 0 -5.4 0M152.3 1003.5a2.7 2.7 0 1 0 5.4 0a2.7 2.7 0 1 0 -5.4 0M154.3 994.0a2.7 2.7 0 1 0 5.4 0a2.7 2.7 0 1 0 -5.4 0M157.2 994.1a2.7 2.7 0 1 0 5.4 0a2.7 2.7 0 1 0 -5.4 0M160.7 1001.5a2.7 2.7 0 1 0 5.4 0a2.7 2.7 0 1 0 -5.4 0M164.0 1014.6a2.7 2.7 0 1 0 5.4 0a2.7 2.7 0 1 0 -5.4 0M165.0 1012.6a2.7 2.7 0 1 0 5.4 0a2.7 2.7 0 1 0 -5.4 0M170.1 1004.1a2.7 2.7 0 1 0 5.4 0a2.7 2.7 0 1 0 -5.4 0M171.4 841.0a2.7 2.7 0 1 0 5.4 0a2.7 2.7 0 1 0 -5.4 0M171.2 1003.5a2.7 2.7 0 1 0 5.4 0a2.7 2.7 0 1 0 -5.4 0M175.7 763.3a2.7 2.7 0 1 0 5.4 0a2.7 2.7 0 1 0 -5.4 0M176.0 1003.8a2.7 2.7 0 1 0 5.4 0a2.7 2.7 0 1 0 -5.4 0M178.2 772.5a2.7 2.7 0 1 0 5.4 0a2.7 2.7 0 1 0 -5.4 0M178.6 1007.4a2.7 2.7 0 1 0 5.4 0a2.7 2.7 0 1 0 -5.4 0M183.9 829.7a2.7 2.7 0 1 0 5.4 0a2.7 2.7 0 1 0 -5.4 0M183.7 1018.1a2.7 2.7 0 1 0 5.4 0a2.7 2.7 0 1 0 -5.4 0M184.0 834.8a2.7 2.7 0 1 0 5.4 0a2.7 2.7 0 1 0 -5.4 0M184.7 1014.8a2.7 2.7 0 1 0 5.4 0a2.7 2.7 0 1 0 -5.4 0M188.0 828.7a2.7 2.7 0 1 0 5.4 0a2.7 2.7 0 1 0 -5.4 0M188.3 1003.8a2.7 2.7 0 1 0 5.4 0a2.7 2.7 0 1 0 -5.4 0M190.4 762.5a2.7 2.7 0 1 0 5.4 0a2.7 2.7 0 1 0 -5.4 0M190.7 991.7a2.7 2.7 0 1 0 5.4 0a2.7 2.7 0 1 0 -5.4 0M193.9 698.2a2.7 2.7 0 1 0 5.4 0a2.7 2.7 0 1 0 -5.4 0M193.6 971.2a2.7 2.7 0 1 0 5.4 0a2.7 2.7 0 1 0 -5.4 0M196.0 686.7a2.7 2.7 0 1 0 5.4 0a2.7 2.7 0 1 0 -5.4 0M196.4 962.0a2.7 2.7 0 1 0 5.4 0a2.7 2.7 0 1 0 -5.4 0M197.8 686.6a2.7 2.7 0 1 0 5.4 0a2.7 2.7 0 1 0 -5.4 0M197.1 966.8a2.7 2.7 0 1 0 5.4 0a2.7 2.7 0 1 0 -5.4 0M199.1 696.1a2.7 2.7 0 1 0 5.4 0a2.7 2.7 0 1 0 -5.4 0M198.9 983.2a2.7 2.7 0 1 0 5.4 0a2.7 2.7 0 1 0 -5.4 0M202.2 745.1a2.7 2.7 0 1 0 5.4 0a2.7 2.7 0 1 0 -5.4 0M201.7 989.7a2.7 2.7 0 1 0 5.4 0a2.7 2.7 0 1 0 -5.4 0M203.3 778.0a2.7 2.7 0 1 0 5.4 0a2.7 2.7 0 1 0 -5.4 0M202.7 985.8a2.7 2.7 0 1 0 5.4 0a2.7 2.7 0 1 0 -5.4 0M205.1 821.6a2.7 2.7 0 1 0 5.4 0a2.7 2.7 0 1 0 -5.4 0M204.5 983.7a2.7 2.7 0 1 0 5.4 0a2.7 2.7 0 1 0 -5.4 0M209.5 969.4a2.7 2.7 0 1 0 5.4 0a2.7 2.7 0 1 0 -5.4 0M210.0 1024.5a2.7 2.7 0 1 0 5.4 0a2.7 2.7 0 1 0 -5.4 0M210.0 993.4a2.7 2.7 0 1 0 5.4 0a2.7 2.7 0 1 0 -5.4 0M210.6 1030.1a2.7 2.7 0 1 0 5.4 0a2.7 2.7 0 1 0 -5.4 0M214.4 1014.6a2.7 2.7 0 1 0 5.4 0a2.7 2.7 0 1 0 -5.4 0M215.1 1030.5a2.7 2.7 0 1 0 5.4 0a2.7 2.7 0 1 0 -5.4 0M216.0 1014.4a2.7 2.7 0 1 0 5.4 0a2.7 2.7 0 1 0 -5.4 0M215.6 1030.4a2.7 2.7 0 1 0 5.4 0a2.7 2.7 0 1 0 -5.4 0M220.6 1003.6a2.7 2.7 0 1 0 5.4 0a2.7 2.7 0 1 0 -5.4 0M220.4 1031.2a2.7 2.7 0 1 0 5.4 0a2.7 2.7 0 1 0 -5.4 0M224.4 1005.7a2.7 2.7 0 1 0 5.4 0a2.7 2.7 0 1 0 -5.4 0M224.8 1030.0a2.7 2.7 0 1 0 5.4 0a2.7 2.7 0 1 0 -5.4 0M227.5 1011.2a2.7 2.7 0 1 0 5.4 0a2.7 2.7 0 1 0 -5.4 0M227.9 1030.4a2.7 2.7 0 1 0 5.4 0a2.7 2.7 0 1 0 -5.4 0M229.2 1011.6a2.7 2.7 0 1 0 5.4 0a2.7 2.7 0 1 0 -5.4 0M228.4 1030.8a2.7 2.7 0 1 0 5.4 0a2.7 2.7 0 1 0 -5.4 0M233.3 1002.2a2.7 2.7 0 1 0 5.4 0a2.7 2.7 0 1 0 -5.4 0M233.9 1029.7a2.7 2.7 0 1 0 5.4 0a2.7 2.7 0 1 0 -5.4 0M235.5 994.9a2.7 2.7 0 1 0 5.4 0a2.7 2.7 0 1 0 -5.4 0M234.8 1029.3a2.7 2.7 0 1 0 5.4 0a2.7 2.7 0 1 0 -5.4 0M237.8 997.4a2.7 2.7 0 1 0 5.4 0a2.7 2.7 0 1 0 -5.4 0M238.0 1029.4a2.7 2.7 0 1 0 5.4 0a2.7 2.7 0 1 0 -5.4 0M239.5 1002.4a2.7 2.7 0 1 0 5.4 0a2.7 2.7 0 1 0 -5.4 0M239.4 1029.5a2.7 2.7 0 1 0 5.4 0a2.7 2.7 0 1 0 -5.4 0M241.6 1006.9a2.7 2.7 0 1 0 5.4 0a2.7 2.7 0 1 0 -5.4 0M242.2 1030.8a2.7 2.7 0 1 0 5.4 0a2.7 2.7 0 1 0 -5.4 0M246.5 1009.3a2.7 2.7 0 1 0 5.4 0a2.7 2.7 0 1 0 -5.4 0M246.6 1028.6a2.7 2.7 0 1 0 5.4 0a2.7 2.7 0 1 0 -5.4 0M247.3 1009.9a2.7 2.7 0 1 0 5.4 0a2.7 2.7 0 1 0 -5.4 0M248.1 1027.1a2.7 2.7 0 1 0 5.4 0a2.7 2.7 0 1 0 -5.4 0M249.3 1008.9a2.7 2.7 0 1 0 5.4 0a2.7 2.7 0 1 0 -5.4 0M249.3 1027.9a2.7 2.7 0 1 0 5.4 0a2.7 2.7 0 1 0 -5.4 0M253.2 1003.3a2.7 2.7 0 1 0 5.4 0a2.7 2.7 0 1 0 -5.4 0M252.7 1028.8a2.7 2.7 0 1 0 5.4 0a2.7 2.7 0 1 0 -5.4 0M255.2 995.4a2.7 2.7 0 1 0 5.4 0a2.7 2.7 0 1 0 -5.4 0M254.9 1027.4a2.7 2.7 0 1 0 5.4 0a2.7 2.7 0 1 0 -5.4 0M257.0 992.7a2.7 2.7 0 1 0 5.4 0a2.7 2.7 0 1 0 -5.4 0M256.6 1028.6a2.7 2.7 0 1 0 5.4 0a2.7 2.7 0 1 0 -5.4 0M260.6 992.0a2.7 2.7 0 1 0 5.4 0a2.7 2.7 0 1 0 -5.4 0M260.5 1024.9a2.7 2.7 0 1 0 5.4 0a2.7 2.7 0 1 0 -5.4 0M262.5 991.8a2.7 2.7 0 1 0 5.4 0a2.7 2.7 0 1 0 -5.4 0M262.8 1025.7a2.7 2.7 0 1 0 5.4 0a2.7 2.7 0 1 0 -5.4 0M265.8 988.5a2.7 2.7 0 1 0 5.4 0a2.7 2.7 0 1 0 -5.4 0M266.0 1026.8a2.7 2.7 0 1 0 5.4 0a2.7 2.7 0 1 0 -5.4 0M267.3 990.7a2.7 2.7 0 1 0 5.4 0a2.7 2.7 0 1 0 -5.4 0M267.5 1028.3a2.7 2.7 0 1 0 5.4 0a2.7 2.7 0 1 0 -5.4 0M270.0 999.9a2.7 2.7 0 1 0 5.4 0a2.7 2.7 0 1 0 -5.4 0M270.5 1027.1a2.7 2.7 0 1 0 5.4 0a2.7 2.7 0 1 0 -5.4 0M275.0 993.3a2.7 2.7 0 1 0 5.4 0a2.7 2.7 0 1 0 -5.4 0M275.2 1024.7a2.7 2.7 0 1 0 5.4 0a2.7 2.7 0 1 0 -5.4 0M279.8 988.9a2.7 2.7 0 1 0 5.4 0a2.7 2.7 0 1 0 -5.4 0M279.8 1025.1a2.7 2.7 0 1 0 5.4 0a2.7 2.7 0 1 0 -5.4 0M280.7 986.6a2.7 2.7 0 1 0 5.4 0a2.7 2.7 0 1 0 -5.4 0M280.4 1024.7a2.7 2.7 0 1 0 5.4 0a2.7 2.7 0 1 0 -5.4 0M284.9 976.4a2.7 2.7 0 1 0 5.4 0a2.7 2.7 0 1 0 -5.4 0M284.6 1024.4a2.7 2.7 0 1 0 5.4 0a2.7 2.7 0 1 0 -5.4 0M288.1 975.7a2.7 2.7 0 1 0 5.4 0a2.7 2.7 0 1 0 -5.4 0M287.8 1023.5a2.7 2.7 0 1 0 5.4 0a2.7 2.7 0 1 0 -5.4 0M294.1 951.4a2.7 2.7 0 1 0 5.4 0a2.7 2.7 0 1 0 -5.4 0M294.2 1019.8a2.7 2.7 0 1 0 5.4 0a2.7 2.7 0 1 0 -5.4 0M295.9 950.0a2.7 2.7 0 1 0 5.4 0a2.7 2.7 0 1 0 -5.4 0M295.4 1018.9a2.7 2.7 0 1 0 5.4 0a2.7 2.7 0 1 0 -5.4 0M295.5 951.7a2.7 2.7 0 1 0 5.4 0a2.7 2.7 0 1 0 -5.4 0M296.2 1019.1a2.7 2.7 0 1 0 5.4 0a2.7 2.7 0 1 0 -5.4 0M302.0 982.3a2.7 2.7 0 1 0 5.4 0a2.7 2.7 0 1 0 -5.4 0M302.0 1020.3a2.7 2.7 0 1 0 5.4 0a2.7 2.7 0 1 0 -5.4 0M303.2 984.4a2.7 2.7 0 1 0 5.4 0a2.7 2.7 0 1 0 -5.4 0M303.0 1020.8a2.7 2.7 0 1 0 5.4 0a2.7 2.7 0 1 0 -5.4 0M308.3 970.0a2.7 2.7 0 1 0 5.4 0a2.7 2.7 0 1 0 -5.4 0M307.9 1021.8a2.7 2.7 0 1 0 5.4 0a2.7 2.7 0 1 0 -5.4 0M311.7 972.7a2.7 2.7 0 1 0 5.4 0a2.7 2.7 0 1 0 -5.4 0M311.6 1021.7a2.7 2.7 0 1 0 5.4 0a2.7 2.7 0 1 0 -5.4 0M315.7 985.7a2.7 2.7 0 1 0 5.4 0a2.7 2.7 0 1 0 -5.4 0M315.9 1019.6a2.7 2.7 0 1 0 5.4 0a2.7 2.7 0 1 0 -5.4 0M316.0 986.8a2.7 2.7 0 1 0 5.4 0a2.7 2.7 0 1 0 -5.4 0M316.7 1021.0a2.7 2.7 0 1 0 5.4 0a2.7 2.7 0 1 0 -5.4 0M321.3 976.4a2.7 2.7 0 1 0 5.4 0a2.7 2.7 0 1 0 -5.4 0M321.3 1019.9a2.7 2.7 0 1 0 5.4 0a2.7 2.7 0 1 0 -5.4 0M323.6 965.3a2.7 2.7 0 1 0 5.4 0a2.7 2.7 0 1 0 -5.4 0M324.0 1021.4a2.7 2.7 0 1 0 5.4 0a2.7 2.7 0 1 0 -5.4 0M327.8 982.7a2.7 2.7 0 1 0 5.4 0a2.7 2.7 0 1 0 -5.4 0M327.4 1021.8a2.7 2.7 0 1 0 5.4 0a2.7 2.7 0 1 0 -5.4 0M331.6 974.7a2.7 2.7 0 1 0 5.4 0a2.7 2.7 0 1 0 -5.4 0M331.0 1023.0a2.7 2.7 0 1 0 5.4 0a2.7 2.7 0 1 0 -5.4 0M332.3 970.4a2.7 2.7 0 1 0 5.4 0a2.7 2.7 0 1 0 -5.4 0M332.1 1022.1a2.7 2.7 0 1 0 5.4 0a2.7 2.7 0 1 0 -5.4 0M340.2 984.0a2.7 2.7 0 1 0 5.4 0a2.7 2.7 0 1 0 -5.4 0M340.3 1024.5a2.7 2.7 0 1 0 5.4 0a2.7 2.7 0 1 0 -5.4 0M340.2 984.8a2.7 2.7 0 1 0 5.4 0a2.7 2.7 0 1 0 -5.4 0M340.5 1024.0a2.7 2.7 0 1 0 5.4 0a2.7 2.7 0 1 0 -5.4 0M344.1 985.2a2.7 2.7 0 1 0 5.4 0a2.7 2.7 0 1 0 -5.4 0M344.4 1023.2a2.7 2.7 0 1 0 5.4 0a2.7 2.7 0 1 0 -5.4 0M345.6 982.4a2.7 2.7 0 1 0 5.4 0a2.7 2.7 0 1 0 -5.4 0M345.7 1023.3a2.7 2.7 0 1 0 5.4 0a2.7 2.7 0 1 0 -5.4 0M350.4 980.8a2.7 2.7 0 1 0 5.4 0a2.7 2.7 0 1 0 -5.4 0M350.3 1023.1a2.7 2.7 0 1 0 5.4 0a2.7 2.7 0 1 0 -5.4 0M352.2 981.1a2.7 2.7 0 1 0 5.4 0a2.7 2.7 0 1 0 -5.4 0M352.2 1024.5a2.7 2.7 0 1 0 5.4 0a2.7 2.7 0 1 0 -5.4 0M354.6 983.2a2.7 2.7 0 1 0 5.4 0a2.7 2.7 0 1 0 -5.4 0M354.9 1023.6a2.7 2.7 0 1 0 5.4 0a2.7 2.7 0 1 0 -5.4 0M358.4 998.4a2.7 2.7 0 1 0 5.4 0a2.7 2.7 0 1 0 -5.4 0M358.2 1023.7a2.7 2.7 0 1 0 5.4 0a2.7 2.7 0 1 0 -5.4 0M360.5 999.9a2.7 2.7 0 1 0 5.4 0a2.7 2.7 0 1 0 -5.4 0M360.3 1025.5a2.7 2.7 0 1 0 5.4 0a2.7 2.7 0 1 0 -5.4 0M364.1 1001.4a2.7 2.7 0 1 0 5.4 0a2.7 2.7 0 1 0 -5.4 0M364.3 1027.0a2.7 2.7 0 1 0 5.4 0a2.7 2.7 0 1 0 -5.4 0M365.8 1001.3a2.7 2.7 0 1 0 5.4 0a2.7 2.7 0 1 0 -5.4 0M365.4 1026.1a2.7 2.7 0 1 0 5.4 0a2.7 2.7 0 1 0 -5.4 0M367.9 1001.1a2.7 2.7 0 1 0 5.4 0a2.7 2.7 0 1 0 -5.4 0M368.0 1027.6a2.7 2.7 0 1 0 5.4 0a2.7 2.7 0 1 0 -5.4 0M372.4 1003.5a2.7 2.7 0 1 0 5.4 0a2.7 2.7 0 1 0 -5.4 0M372.0 1027.5a2.7 2.7 0 1 0 5.4 0a2.7 2.7 0 1 0 -5.4 0M375.2 1003.9a2.7 2.7 0 1 0 5.4 0a2.7 2.7 0 1 0 -5.4 0M375.4 1029.6a2.7 2.7 0 1 0 5.4 0a2.7 2.7 0 1 0 -5.4 0M377.7 1005.1a2.7 2.7 0 1 0 5.4 0a2.7 2.7 0 1 0 -5.4 0M377.1 1029.0a2.7 2.7 0 1 0 5.4 0a2.7 2.7 0 1 0 -5.4 0M379.6 1008.7a2.7 2.7 0 1 0 5.4 0a2.7 2.7 0 1 0 -5.4 0M379.5 1029.9a2.7 2.7 0 1 0 5.4 0a2.7 2.7 0 1 0 -5.4 0M384.0 1011.6a2.7 2.7 0 1 0 5.4 0a2.7 2.7 0 1 0 -5.4 0M384.1 1029.9a2.7 2.7 0 1 0 5.4 0a2.7 2.7 0 1 0 -5.4 0M387.2 997.9a2.7 2.7 0 1 0 5.4 0a2.7 2.7 0 1 0 -5.4 0M387.3 1028.1a2.7 2.7 0 1 0 5.4 0a2.7 2.7 0 1 0 -5.4 0M392.1 1015.7a2.7 2.7 0 1 0 5.4 0a2.7 2.7 0 1 0 -5.4 0M392.5 1030.2a2.7 2.7 0 1 0 5.4 0a2.7 2.7 0 1 0 -5.4 0M393.8 1016.6a2.7 2.7 0 1 0 5.4 0a2.7 2.7 0 1 0 -5.4 0M393.0 1030.3a2.7 2.7 0 1 0 5.4 0a2.7 2.7 0 1 0 -5.4 0M397.9 1019.1a2.7 2.7 0 1 0 5.4 0a2.7 2.7 0 1 0 -5.4 0M397.5 1030.4a2.7 2.7 0 1 0 5.4 0a2.7 2.7 0 1 0 -5.4 0M399.2 1015.8a2.7 2.7 0 1 0 5.4 0a2.7 2.7 0 1 0 -5.4 0M399.3 1031.1a2.7 2.7 0 1 0 5.4 0a2.7 2.7 0 1 0 -5.4 0M406.5 1017.9a2.7 2.7 0 1 0 5.4 0a2.7 2.7 0 1 0 -5.4 0M406.0 1030.0a2.7 2.7 0 1 0 5.4 0a2.7 2.7 0 1 0 -5.4 0M407.9 1007.3a2.7 2.7 0 1 0 5.4 0a2.7 2.7 0 1 0 -5.4 0M408.6 1029.6a2.7 2.7 0 1 0 5.4 0a2.7 2.7 0 1 0 -5.4 0M410.7 990.8a2.7 2.7 0 1 0 5.4 0a2.7 2.7 0 1 0 -5.4 0M410.8 1029.7a2.7 2.7 0 1 0 5.4 0a2.7 2.7 0 1 0 -5.4 0M416.3 979.7a2.7 2.7 0 1 0 5.4 0a2.7 2.7 0 1 0 -5.4 0M416.3 1027.9a2.7 2.7 0 1 0 5.4 0a2.7 2.7 0 1 0 -5.4 0M419.5 965.2a2.7 2.7 0 1 0 5.4 0a2.7 2.7 0 1 0 -5.4 0M419.9 1024.9a2.7 2.7 0 1 0 5.4 0a2.7 2.7 0 1 0 -5.4 0M420.1 964.9a2.7 2.7 0 1 0 5.4 0a2.7 2.7 0 1 0 -5.4 0M420.3 1026.2a2.7 2.7 0 1 0 5.4 0a2.7 2.7 0 1 0 -5.4 0M424.2 982.2a2.7 2.7 0 1 0 5.4 0a2.7 2.7 0 1 0 -5.4 0M424.4 1025.7a2.7 2.7 0 1 0 5.4 0a2.7 2.7 0 1 0 -5.4 0M427.9 962.6a2.7 2.7 0 1 0 5.4 0a2.7 2.7 0 1 0 -5.4 0M428.1 1026.8a2.7 2.7 0 1 0 5.4 0a2.7 2.7 0 1 0 -5.4 0M431.3 977.3a2.7 2.7 0 1 0 5.4 0a2.7 2.7 0 1 0 -5.4 0M431.3 1027.9a2.7 2.7 0 1 0 5.4 0a2.7 2.7 0 1 0 -5.4 0M433.0 997.8a2.7 2.7 0 1 0 5.4 0a2.7 2.7 0 1 0 -5.4 0M433.1 1029.4a2.7 2.7 0 1 0 5.4 0a2.7 2.7 0 1 0 -5.4 0M435.6 1008.2a2.7 2.7 0 1 0 5.4 0a2.7 2.7 0 1 0 -5.4 0M435.1 1030.6a2.7 2.7 0 1 0 5.4 0a2.7 2.7 0 1 0 -5.4 0M438.4 1021.4a2.7 2.7 0 1 0 5.4 0a2.7 2.7 0 1 0 -5.4 0M438.6 1029.6a2.7 2.7 0 1 0 5.4 0a2.7 2.7 0 1 0 -5.4 0M439.9 1021.7a2.7 2.7 0 1 0 5.4 0a2.7 2.7 0 1 0 -5.4 0M439.7 1030.2a2.7 2.7 0 1 0 5.4 0a2.7 2.7 0 1 0 -5.4 0M443.8 1023.4a2.7 2.7 0 1 0 5.4 0a2.7 2.7 0 1 0 -5.4 0M443.7 1029.4a2.7 2.7 0 1 0 5.4 0a2.7 2.7 0 1 0 -5.4 0M444.9 1023.9a2.7 2.7 0 1 0 5.4 0a2.7 2.7 0 1 0 -5.4 0M445.3 1029.5a2.7 2.7 0 1 0 5.4 0a2.7 2.7 0 1 0 -5.4 0M447.3 1023.3a2.7 2.7 0 1 0 5.4 0a2.7 2.7 0 1 0 -5.4 0M447.6 1030.4a2.7 2.7 0 1 0 5.4 0a2.7 2.7 0 1 0 -5.4 0M451.4 1025.4a2.7 2.7 0 1 0 5.4 0a2.7 2.7 0 1 0 -5.4 0M451.4 1029.4a2.7 2.7 0 1 0 5.4 0a2.7 2.7 0 1 0 -5.4 0M453.6 1024.6a2.7 2.7 0 1 0 5.4 0a2.7 2.7 0 1 0 -5.4 0M452.8 1029.5a2.7 2.7 0 1 0 5.4 0a2.7 2.7 0 1 0 -5.4 0M454.9 1022.3a2.7 2.7 0 1 0 5.4 0a2.7 2.7 0 1 0 -5.4 0M455.2 1029.4a2.7 2.7 0 1 0 5.4 0a2.7 2.7 0 1 0 -5.4 0M461.3 1010.1a2.7 2.7 0 1 0 5.4 0a2.7 2.7 0 1 0 -5.4 0M461.7 1029.7a2.7 2.7 0 1 0 5.4 0a2.7 2.7 0 1 0 -5.4 0M463.6 997.7a2.7 2.7 0 1 0 5.4 0a2.7 2.7 0 1 0 -5.4 0M463.3 1030.0a2.7 2.7 0 1 0 5.4 0a2.7 2.7 0 1 0 -5.4 0M466.3 1000.9a2.7 2.7 0 1 0 5.4 0a2.7 2.7 0 1 0 -5.4 0M466.5 1030.9a2.7 2.7 0 1 0 5.4 0a2.7 2.7 0 1 0 -5.4 0M467.8 1006.1a2.7 2.7 0 1 0 5.4 0a2.7 2.7 0 1 0 -5.4 0M467.1 1029.9a2.7 2.7 0 1 0 5.4 0a2.7 2.7 0 1 0 -5.4 0M471.7 1016.9a2.7 2.7 0 1 0 5.4 0a2.7 2.7 0 1 0 -5.4 0M472.0 1029.9a2.7 2.7 0 1 0 5.4 0a2.7 2.7 0 1 0 -5.4 0M474.3 1018.2a2.7 2.7 0 1 0 5.4 0a2.7 2.7 0 1 0 -5.4 0M474.0 1030.0a2.7 2.7 0 1 0 5.4 0a2.7 2.7 0 1 0 -5.4 0M478.7 1010.5a2.7 2.7 0 1 0 5.4 0a2.7 2.7 0 1 0 -5.4 0M479.4 1029.9a2.7 2.7 0 1 0 5.4 0a2.7 2.7 0 1 0 -5.4 0M481.8 1002.8a2.7 2.7 0 1 0 5.4 0a2.7 2.7 0 1 0 -5.4 0M482.4 1030.0a2.7 2.7 0 1 0 5.4 0a2.7 2.7 0 1 0 -5.4 0M485.6 997.0a2.7 2.7 0 1 0 5.4 0a2.7 2.7 0 1 0 -5.4 0M485.0 1028.1a2.7 2.7 0 1 0 5.4 0a2.7 2.7 0 1 0 -5.4 0M490.3 992.5a2.7 2.7 0 1 0 5.4 0a2.7 2.7 0 1 0 -5.4 0M490.4 1027.1a2.7 2.7 0 1 0 5.4 0a2.7 2.7 0 1 0 -5.4 0M492.5 967.3a2.7 2.7 0 1 0 5.4 0a2.7 2.7 0 1 0 -5.4 0M492.6 1029.1a2.7 2.7 0 1 0 5.4 0a2.7 2.7 0 1 0 -5.4 0M493.2 961.4a2.7 2.7 0 1 0 5.4 0a2.7 2.7 0 1 0 -5.4 0M493.5 1029.8a2.7 2.7 0 1 0 5.4 0a2.7 2.7 0 1 0 -5.4 0M498.5 994.7a2.7 2.7 0 1 0 5.4 0a2.7 2.7 0 1 0 -5.4 0M497.9 1029.3a2.7 2.7 0 1 0 5.4 0a2.7 2.7 0 1 0 -5.4 0M501.0 1004.6a2.7 2.7 0 1 0 5.4 0a2.7 2.7 0 1 0 -5.4 0M500.9 1029.9a2.7 2.7 0 1 0 5.4 0a2.7 2.7 0 1 0 -5.4 0M504.3 1008.9a2.7 2.7 0 1 0 5.4 0a2.7 2.7 0 1 0 -5.4 0M504.7 1029.6a2.7 2.7 0 1 0 5.4 0a2.7 2.7 0 1 0 -5.4 0M510.1 1006.6a2.7 2.7 0 1 0 5.4 0a2.7 2.7 0 1 0 -5.4 0M510.4 1030.9a2.7 2.7 0 1 0 5.4 0a2.7 2.7 0 1 0 -5.4 0M513.1 1007.6a2.7 2.7 0 1 0 5.4 0a2.7 2.7 0 1 0 -5.4 0M513.6 1030.1a2.7 2.7 0 1 0 5.4 0a2.7 2.7 0 1 0 -5.4 0M516.9 1011.6a2.7 2.7 0 1 0 5.4 0a2.7 2.7 0 1 0 -5.4 0M516.2 1031.3a2.7 2.7 0 1 0 5.4 0a2.7 2.7 0 1 0 -5.4 0M518.8 1013.3a2.7 2.7 0 1 0 5.4 0a2.7 2.7 0 1 0 -5.4 0M518.2 1031.3a2.7 2.7 0 1 0 5.4 0a2.7 2.7 0 1 0 -5.4 0M520.9 1013.7a2.7 2.7 0 1 0 5.4 0a2.7 2.7 0 1 0 -5.4 0M520.5 1030.8a2.7 2.7 0 1 0 5.4 0a2.7 2.7 0 1 0 -5.4 0M526.5 1009.7a2.7 2.7 0 1 0 5.4 0a2.7 2.7 0 1 0 -5.4 0M525.6 1029.4a2.7 2.7 0 1 0 5.4 0a2.7 2.7 0 1 0 -5.4 0M528.9 1008.2a2.7 2.7 0 1 0 5.4 0a2.7 2.7 0 1 0 -5.4 0M529.2 1030.7a2.7 2.7 0 1 0 5.4 0a2.7 2.7 0 1 0 -5.4 0M531.1 1005.2a2.7 2.7 0 1 0 5.4 0a2.7 2.7 0 1 0 -5.4 0M530.6 1031.1a2.7 2.7 0 1 0 5.4 0a2.7 2.7 0 1 0 -5.4 0M533.9 1002.8a2.7 2.7 0 1 0 5.4 0a2.7 2.7 0 1 0 -5.4 0M534.5 1030.8a2.7 2.7 0 1 0 5.4 0a2.7 2.7 0 1 0 -5.4 0M540.1 1009.8a2.7 2.7 0 1 0 5.4 0a2.7 2.7 0 1 0 -5.4 0M539.9 1030.9a2.7 2.7 0 1 0 5.4 0a2.7 2.7 0 1 0 -5.4 0M542.9 1014.1a2.7 2.7 0 1 0 5.4 0a2.7 2.7 0 1 0 -5.4 0M542.5 1029.9a2.7 2.7 0 1 0 5.4 0a2.7 2.7 0 1 0 -5.4 0M544.9 1013.4a2.7 2.7 0 1 0 5.4 0a2.7 2.7 0 1 0 -5.4 0M545.0 1029.7a2.7 2.7 0 1 0 5.4 0a2.7 2.7 0 1 0 -5.4 0M547.8 1011.3a2.7 2.7 0 1 0 5.4 0a2.7 2.7 0 1 0 -5.4 0M547.9 1029.7a2.7 2.7 0 1 0 5.4 0a2.7 2.7 0 1 0 -5.4 0M553.2 1009.1a2.7 2.7 0 1 0 5.4 0a2.7 2.7 0 1 0 -5.4 0M553.7 1030.2a2.7 2.7 0 1 0 5.4 0a2.7 2.7 0 1 0 -5.4 0M554.1 1009.2a2.7 2.7 0 1 0 5.4 0a2.7 2.7 0 1 0 -5.4 0M554.0 1030.0a2.7 2.7 0 1 0 5.4 0a2.7 2.7 0 1 0 -5.4 0M557.0 1007.3a2.7 2.7 0 1 0 5.4 0a2.7 2.7 0 1 0 -5.4 0M557.3 1029.8a2.7 2.7 0 1 0 5.4 0a2.7 2.7 0 1 0 -5.4 0M559.5 1008.9a2.7 2.7 0 1 0 5.4 0a2.7 2.7 0 1 0 -5.4 0M559.1 1029.9a2.7 2.7 0 1 0 5.4 0a2.7 2.7 0 1 0 -5.4 0M563.0 1013.7a2.7 2.7 0 1 0 5.4 0a2.7 2.7 0 1 0 -5.4 0M562.5 1030.4a2.7 2.7 0 1 0 5.4 0a2.7 2.7 0 1 0 -5.4 0M566.0 1011.3a2.7 2.7 0 1 0 5.4 0a2.7 2.7 0 1 0 -5.4 0M565.9 1029.5a2.7 2.7 0 1 0 5.4 0a2.7 2.7 0 1 0 -5.4 0M569.8 1013.0a2.7 2.7 0 1 0 5.4 0a2.7 2.7 0 1 0 -5.4 0M569.9 1030.4a2.7 2.7 0 1 0 5.4 0a2.7 2.7 0 1 0 -5.4 0M570.9 1011.8a2.7 2.7 0 1 0 5.4 0a2.7 2.7 0 1 0 -5.4 0M570.8 1030.8a2.7 2.7 0 1 0 5.4 0a2.7 2.7 0 1 0 -5.4 0M572.4 1012.4a2.7 2.7 0 1 0 5.4 0a2.7 2.7 0 1 0 -5.4 0M572.8 1029.2a2.7 2.7 0 1 0 5.4 0a2.7 2.7 0 1 0 -5.4 0M577.8 1002.9a2.7 2.7 0 1 0 5.4 0a2.7 2.7 0 1 0 -5.4 0M578.1 1030.0a2.7 2.7 0 1 0 5.4 0a2.7 2.7 0 1 0 -5.4 0M580.9 1001.0a2.7 2.7 0 1 0 5.4 0a2.7 2.7 0 1 0 -5.4 0M581.0 1030.8a2.7 2.7 0 1 0 5.4 0a2.7 2.7 0 1 0 -5.4 0M582.2 1002.4a2.7 2.7 0 1 0 5.4 0a2.7 2.7 0 1 0 -5.4 0M582.1 1029.7a2.7 2.7 0 1 0 5.4 0a2.7 2.7 0 1 0 -5.4 0M585.0 1003.5a2.7 2.7 0 1 0 5.4 0a2.7 2.7 0 1 0 -5.4 0M585.3 1029.2a2.7 2.7 0 1 0 5.4 0a2.7 2.7 0 1 0 -5.4 0M589.3 994.3a2.7 2.7 0 1 0 5.4 0a2.7 2.7 0 1 0 -5.4 0M589.8 1028.7a2.7 2.7 0 1 0 5.4 0a2.7 2.7 0 1 0 -5.4 0M592.3 981.6a2.7 2.7 0 1 0 5.4 0a2.7 2.7 0 1 0 -5.4 0M592.1 1029.7a2.7 2.7 0 1 0 5.4 0a2.7 2.7 0 1 0 -5.4 0M597.0 964.0a2.7 2.7 0 1 0 5.4 0a2.7 2.7 0 1 0 -5.4 0M596.5 1026.5a2.7 2.7 0 1 0 5.4 0a2.7 2.7 0 1 0 -5.4 0M596.8 966.4a2.7 2.7 0 1 0 5.4 0a2.7 2.7 0 1 0 -5.4 0M597.5 1026.5a2.7 2.7 0 1 0 5.4 0a2.7 2.7 0 1 0 -5.4 0M598.9 968.6a2.7 2.7 0 1 0 5.4 0a2.7 2.7 0 1 0 -5.4 0M599.5 1026.4a2.7 2.7 0 1 0 5.4 0a2.7 2.7 0 1 0 -5.4 0M601.9 973.3a2.7 2.7 0 1 0 5.4 0a2.7 2.7 0 1 0 -5.4 0M601.3 1025.4a2.7 2.7 0 1 0 5.4 0a2.7 2.7 0 1 0 -5.4 0M603.7 976.7a2.7 2.7 0 1 0 5.4 0a2.7 2.7 0 1 0 -5.4 0M603.3 1025.2a2.7 2.7 0 1 0 5.4 0a2.7 2.7 0 1 0 -5.4 0M608.8 960.6a2.7 2.7 0 1 0 5.4 0a2.7 2.7 0 1 0 -5.4 0M608.5 1023.3a2.7 2.7 0 1 0 5.4 0a2.7 2.7 0 1 0 -5.4 0M612.7 916.4a2.7 2.7 0 1 0 5.4 0a2.7 2.7 0 1 0 -5.4 0M613.3 1021.4a2.7 2.7 0 1 0 5.4 0a2.7 2.7 0 1 0 -5.4 0M615.6 868.5a2.7 2.7 0 1 0 5.4 0a2.7 2.7 0 1 0 -5.4 0M615.7 1022.6a2.7 2.7 0 1 0 5.4 0a2.7 2.7 0 1 0 -5.4 0M617.5 885.7a2.7 2.7 0 1 0 5.4 0a2.7 2.7 0 1 0 -5.4 0M616.9 1022.8a2.7 2.7 0 1 0 5.4 0a2.7 2.7 0 1 0 -5.4 0M621.6 907.7a2.7 2.7 0 1 0 5.4 0a2.7 2.7 0 1 0 -5.4 0M621.8 1022.7a2.7 2.7 0 1 0 5.4 0a2.7 2.7 0 1 0 -5.4 0M622.8 903.3a2.7 2.7 0 1 0 5.4 0a2.7 2.7 0 1 0 -5.4 0M622.5 1021.5a2.7 2.7 0 1 0 5.4 0a2.7 2.7 0 1 0 -5.4 0M625.5 894.6a2.7 2.7 0 1 0 5.4 0a2.7 2.7 0 1 0 -5.4 0M625.7 1022.8a2.7 2.7 0 1 0 5.4 0a2.7 2.7 0 1 0 -5.4 0M628.9 902.6a2.7 2.7 0 1 0 5.4 0a2.7 2.7 0 1 0 -5.4 0M628.6 1023.2a2.7 2.7 0 1 0 5.4 0a2.7 2.7 0 1 0 -5.4 0M631.7 881.9a2.7 2.7 0 1 0 5.4 0a2.7 2.7 0 1 0 -5.4 0M632.0 1022.5a2.7 2.7 0 1 0 5.4 0a2.7 2.7 0 1 0 -5.4 0M633.9 875.3a2.7 2.7 0 1 0 5.4 0a2.7 2.7 0 1 0 -5.4 0M633.5 1022.5a2.7 2.7 0 1 0 5.4 0a2.7 2.7 0 1 0 -5.4 0M634.6 872.7a2.7 2.7 0 1 0 5.4 0a2.7 2.7 0 1 0 -5.4 0M634.4 1020.6a2.7 2.7 0 1 0 5.4 0a2.7 2.7 0 1 0 -5.4 0M637.3 876.3a2.7 2.7 0 1 0 5.4 0a2.7 2.7 0 1 0 -5.4 0M637.4 1019.6a2.7 2.7 0 1 0 5.4 0a2.7 2.7 0 1 0 -5.4 0M642.1 867.3a2.7 2.7 0 1 0 5.4 0a2.7 2.7 0 1 0 -5.4 0M642.1 1019.3a2.7 2.7 0 1 0 5.4 0a2.7 2.7 0 1 0 -5.4 0M643.1 847.0a2.7 2.7 0 1 0 5.4 0a2.7 2.7 0 1 0 -5.4 0M643.2 1019.3a2.7 2.7 0 1 0 5.4 0a2.7 2.7 0 1 0 -5.4 0M644.0 842.5a2.7 2.7 0 1 0 5.4 0a2.7 2.7 0 1 0 -5.4 0M644.3 1020.3a2.7 2.7 0 1 0 5.4 0a2.7 2.7 0 1 0 -5.4 0M648.7 856.8a2.7 2.7 0 1 0 5.4 0a2.7 2.7 0 1 0 -5.4 0M648.0 1019.1a2.7 2.7 0 1 0 5.4 0a2.7 2.7 0 1 0 -5.4 0M650.5 858.4a2.7 2.7 0 1 0 5.4 0a2.7 2.7 0 1 0 -5.4 0M649.9 1020.9a2.7 2.7 0 1 0 5.4 0a2.7 2.7 0 1 0 -5.4 0M652.7 860.2a2.7 2.7 0 1 0 5.4 0a2.7 2.7 0 1 0 -5.4 0M653.0 1021.6a2.7 2.7 0 1 0 5.4 0a2.7 2.7 0 1 0 -5.4 0M656.9 866.0a2.7 2.7 0 1 0 5.4 0a2.7 2.7 0 1 0 -5.4 0M656.9 1021.1a2.7 2.7 0 1 0 5.4 0a2.7 2.7 0 1 0 -5.4 0M658.2 886.4a2.7 2.7 0 1 0 5.4 0a2.7 2.7 0 1 0 -5.4 0M658.4 1021.6a2.7 2.7 0 1 0 5.4 0a2.7 2.7 0 1 0 -5.4 0M661.4 924.7a2.7 2.7 0 1 0 5.4 0a2.7 2.7 0 1 0 -5.4 0M661.1 1022.6a2.7 2.7 0 1 0 5.4 0a2.7 2.7 0 1 0 -5.4 0M667.4 937.1a2.7 2.7 0 1 0 5.4 0a2.7 2.7 0 1 0 -5.4 0M667.1 1021.9a2.7 2.7 0 1 0 5.4 0a2.7 2.7 0 1 0 -5.4 0M669.6 953.0a2.7 2.7 0 1 0 5.4 0a2.7 2.7 0 1 0 -5.4 0M669.0 1021.5a2.7 2.7 0 1 0 5.4 0a2.7 2.7 0 1 0 -5.4 0M672.4 961.6a2.7 2.7 0 1 0 5.4 0a2.7 2.7 0 1 0 -5.4 0M673.1 1022.2a2.7 2.7 0 1 0 5.4 0a2.7 2.7 0 1 0 -5.4 0M675.8 965.0a2.7 2.7 0 1 0 5.4 0a2.7 2.7 0 1 0 -5.4 0M676.0 1022.8a2.7 2.7 0 1 0 5.4 0a2.7 2.7 0 1 0 -5.4 0M678.7 963.1a2.7 2.7 0 1 0 5.4 0a2.7 2.7 0 1 0 -5.4 0M679.0 1023.0a2.7 2.7 0 1 0 5.4 0a2.7 2.7 0 1 0 -5.4 0M683.5 973.0a2.7 2.7 0 1 0 5.4 0a2.7 2.7 0 1 0 -5.4 0M683.8 1023.9a2.7 2.7 0 1 0 5.4 0a2.7 2.7 0 1 0 -5.4 0M684.8 974.3a2.7 2.7 0 1 0 5.4 0a2.7 2.7 0 1 0 -5.4 0M685.5 1023.9a2.7 2.7 0 1 0 5.4 0a2.7 2.7 0 1 0 -5.4 0M687.0 971.6a2.7 2.7 0 1 0 5.4 0a2.7 2.7 0 1 0 -5.4 0M687.6 1025.1a2.7 2.7 0 1 0 5.4 0a2.7 2.7 0 1 0 -5.4 0M692.1 984.6a2.7 2.7 0 1 0 5.4 0a2.7 2.7 0 1 0 -5.4 0M691.5 1024.1a2.7 2.7 0 1 0 5.4 0a2.7 2.7 0 1 0 -5.4 0M695.8 1002.9a2.7 2.7 0 1 0 5.4 0a2.7 2.7 0 1 0 -5.4 0M695.9 1026.1a2.7 2.7 0 1 0 5.4 0a2.7 2.7 0 1 0 -5.4 0M696.9 1004.9a2.7 2.7 0 1 0 5.4 0a2.7 2.7 0 1 0 -5.4 0M697.0 1027.4a2.7 2.7 0 1 0 5.4 0a2.7 2.7 0 1 0 -5.4 0M701.3 1008.9a2.7 2.7 0 1 0 5.4 0a2.7 2.7 0 1 0 -5.4 0M701.1 1027.3a2.7 2.7 0 1 0 5.4 0a2.7 2.7 0 1 0 -5.4 0M703.3 942.8a2.7 2.7 0 1 0 5.4 0a2.7 2.7 0 1 0 -5.4 0M703.6 1025.0a2.7 2.7 0 1 0 5.4 0a2.7 2.7 0 1 0 -5.4 0M705.9 940.9a2.7 2.7 0 1 0 5.4 0a2.7 2.7 0 1 0 -5.4 0M706.2 1023.7a2.7 2.7 0 1 0 5.4 0a2.7 2.7 0 1 0 -5.4 0M709.8 936.4a2.7 2.7 0 1 0 5.4 0a2.7 2.7 0 1 0 -5.4 0M709.8 1028.3a2.7 2.7 0 1 0 5.4 0a2.7 2.7 0 1 0 -5.4 0M710.3 935.5a2.7 2.7 0 1 0 5.4 0a2.7 2.7 0 1 0 -5.4 0M710.1 1028.2a2.7 2.7 0 1 0 5.4 0a2.7 2.7 0 1 0 -5.4 0M714.2 925.0a2.7 2.7 0 1 0 5.4 0a2.7 2.7 0 1 0 -5.4 0M714.4 1025.6a2.7 2.7 0 1 0 5.4 0a2.7 2.7 0 1 0 -5.4 0M717.4 914.2a2.7 2.7 0 1 0 5.4 0a2.7 2.7 0 1 0 -5.4 0M718.1 1024.9a2.7 2.7 0 1 0 5.4 0a2.7 2.7 0 1 0 -5.4 0M721.8 948.7a2.7 2.7 0 1 0 5.4 0a2.7 2.7 0 1 0 -5.4 0M721.7 1024.5a2.7 2.7 0 1 0 5.4 0a2.7 2.7 0 1 0 -5.4 0M727.3 964.1a2.7 2.7 0 1 0 5.4 0a2.7 2.7 0 1 0 -5.4 0M727.8 1026.8a2.7 2.7 0 1 0 5.4 0a2.7 2.7 0 1 0 -5.4 0M729.9 972.4a2.7 2.7 0 1 0 5.4 0a2.7 2.7 0 1 0 -5.4 0M730.0 1026.4a2.7 2.7 0 1 0 5.4 0a2.7 2.7 0 1 0 -5.4 0M731.1 974.8a2.7 2.7 0 1 0 5.4 0a2.7 2.7 0 1 0 -5.4 0M730.2 1028.2a2.7 2.7 0 1 0 5.4 0a2.7 2.7 0 1 0 -5.4 0M737.5 969.5a2.7 2.7 0 1 0 5.4 0a2.7 2.7 0 1 0 -5.4 0M737.3 1027.0a2.7 2.7 0 1 0 5.4 0a2.7 2.7 0 1 0 -5.4 0M742.1 922.2a2.7 2.7 0 1 0 5.4 0a2.7 2.7 0 1 0 -5.4 0M742.0 1026.1a2.7 2.7 0 1 0 5.4 0a2.7 2.7 0 1 0 -5.4 0M742.9 930.3a2.7 2.7 0 1 0 5.4 0a2.7 2.7 0 1 0 -5.4 0M742.8 1026.5a2.7 2.7 0 1 0 5.4 0a2.7 2.7 0 1 0 -5.4 0M746.9 973.8a2.7 2.7 0 1 0 5.4 0a2.7 2.7 0 1 0 -5.4 0M747.2 1027.3a2.7 2.7 0 1 0 5.4 0a2.7 2.7 0 1 0 -5.4 0M750.8 976.5a2.7 2.7 0 1 0 5.4 0a2.7 2.7 0 1 0 -5.4 0M751.3 1027.3a2.7 2.7 0 1 0 5.4 0a2.7 2.7 0 1 0 -5.4 0M758.2 979.3a2.7 2.7 0 1 0 5.4 0a2.7 2.7 0 1 0 -5.4 0M758.4 1029.6a2.7 2.7 0 1 0 5.4 0a2.7 2.7 0 1 0 -5.4 0M758.8 977.9a2.7 2.7 0 1 0 5.4 0a2.7 2.7 0 1 0 -5.4 0M759.7 1029.2a2.7 2.7 0 1 0 5.4 0a2.7 2.7 0 1 0 -5.4 0M763.6 969.6a2.7 2.7 0 1 0 5.4 0a2.7 2.7 0 1 0 -5.4 0M763.9 1029.2a2.7 2.7 0 1 0 5.4 0a2.7 2.7 0 1 0 -5.4 0M766.1 972.2a2.7 2.7 0 1 0 5.4 0a2.7 2.7 0 1 0 -5.4 0M765.2 1028.2a2.7 2.7 0 1 0 5.4 0a2.7 2.7 0 1 0 -5.4 0M769.6 948.1a2.7 2.7 0 1 0 5.4 0a2.7 2.7 0 1 0 -5.4 0M770.2 1027.7a2.7 2.7 0 1 0 5.4 0a2.7 2.7 0 1 0 -5.4 0M771.4 945.3a2.7 2.7 0 1 0 5.4 0a2.7 2.7 0 1 0 -5.4 0M771.7 1027.6a2.7 2.7 0 1 0 5.4 0a2.7 2.7 0 1 0 -5.4 0M775.1 950.1a2.7 2.7 0 1 0 5.4 0a2.7 2.7 0 1 0 -5.4 0M775.8 1028.4a2.7 2.7 0 1 0 5.4 0a2.7 2.7 0 1 0 -5.4 0M778.3 948.2a2.7 2.7 0 1 0 5.4 0a2.7 2.7 0 1 0 -5.4 0M778.6 1027.9a2.7 2.7 0 1 0 5.4 0a2.7 2.7 0 1 0 -5.4 0M781.0 943.6a2.7 2.7 0 1 0 5.4 0a2.7 2.7 0 1 0 -5.4 0M781.7 1026.0a2.7 2.7 0 1 0 5.4 0a2.7 2.7 0 1 0 -5.4 0M783.2 940.3a2.7 2.7 0 1 0 5.4 0a2.7 2.7 0 1 0 -5.4 0M783.4 1025.7a2.7 2.7 0 1 0 5.4 0a2.7 2.7 0 1 0 -5.4 0M788.8 916.5a2.7 2.7 0 1 0 5.4 0a2.7 2.7 0 1 0 -5.4 0M789.4 1022.0a2.7 2.7 0 1 0 5.4 0a2.7 2.7 0 1 0 -5.4 0M790.3 905.4a2.7 2.7 0 1 0 5.4 0a2.7 2.7 0 1 0 -5.4 0M790.5 1023.1a2.7 2.7 0 1 0 5.4 0a2.7 2.7 0 1 0 -5.4 0M792.6 900.9a2.7 2.7 0 1 0 5.4 0a2.7 2.7 0 1 0 -5.4 0M792.5 1024.7a2.7 2.7 0 1 0 5.4 0a2.7 2.7 0 1 0 -5.4 0M796.4 913.6a2.7 2.7 0 1 0 5.4 0a2.7 2.7 0 1 0 -5.4 0M796.9 1026.2a2.7 2.7 0 1 0 5.4 0a2.7 2.7 0 1 0 -5.4 0M799.0 927.5a2.7 2.7 0 1 0 5.4 0a2.7 2.7 0 1 0 -5.4 0M799.1 1026.1a2.7 2.7 0 1 0 5.4 0a2.7 2.7 0 1 0 -5.4 0M800.4 932.0a2.7 2.7 0 1 0 5.4 0a2.7 2.7 0 1 0 -5.4 0M800.4 1026.8a2.7 2.7 0 1 0 5.4 0a2.7 2.7 0 1 0 -5.4 0M805.8 944.4a2.7 2.7 0 1 0 5.4 0a2.7 2.7 0 1 0 -5.4 0M805.4 1026.5a2.7 2.7 0 1 0 5.4 0a2.7 2.7 0 1 0 -5.4 0M807.0 949.1a2.7 2.7 0 1 0 5.4 0a2.7 2.7 0 1 0 -5.4 0M806.2 1027.0a2.7 2.7 0 1 0 5.4 0a2.7 2.7 0 1 0 -5.4 0M811.7 967.8a2.7 2.7 0 1 0 5.4 0a2.7 2.7 0 1 0 -5.4 0M812.2 1028.5a2.7 2.7 0 1 0 5.4 0a2.7 2.7 0 1 0 -5.4 0M814.8 967.0a2.7 2.7 0 1 0 5.4 0a2.7 2.7 0 1 0 -5.4 0M813.9 1030.3a2.7 2.7 0 1 0 5.4 0a2.7 2.7 0 1 0 -5.4 0M816.0 966.1a2.7 2.7 0 1 0 5.4 0a2.7 2.7 0 1 0 -5.4 0M815.4 1030.7a2.7 2.7 0 1 0 5.4 0a2.7 2.7 0 1 0 -5.4 0M820.9 973.4a2.7 2.7 0 1 0 5.4 0a2.7 2.7 0 1 0 -5.4 0M821.2 1030.3a2.7 2.7 0 1 0 5.4 0a2.7 2.7 0 1 0 -5.4 0M828.3 998.1a2.7 2.7 0 1 0 5.4 0a2.7 2.7 0 1 0 -5.4 0M828.2 1030.5a2.7 2.7 0 1 0 5.4 0a2.7 2.7 0 1 0 -5.4 0M833.2 1005.3a2.7 2.7 0 1 0 5.4 0a2.7 2.7 0 1 0 -5.4 0M832.4 1030.6a2.7 2.7 0 1 0 5.4 0a2.7 2.7 0 1 0 -5.4 0M833.2 1005.8a2.7 2.7 0 1 0 5.4 0a2.7 2.7 0 1 0 -5.4 0M832.9 1029.9a2.7 2.7 0 1 0 5.4 0a2.7 2.7 0 1 0 -5.4 0M837.5 1006.7a2.7 2.7 0 1 0 5.4 0a2.7 2.7 0 1 0 -5.4 0M838.2 1029.8a2.7 2.7 0 1 0 5.4 0a2.7 2.7 0 1 0 -5.4 0M840.3 1007.0a2.7 2.7 0 1 0 5.4 0a2.7 2.7 0 1 0 -5.4 0M839.7 1030.2a2.7 2.7 0 1 0 5.4 0a2.7 2.7 0 1 0 -5.4 0M845.7 1002.8a2.7 2.7 0 1 0 5.4 0a2.7 2.7 0 1 0 -5.4 0M845.4 1030.7a2.7 2.7 0 1 0 5.4 0a2.7 2.7 0 1 0 -5.4 0M846.2 1003.0a2.7 2.7 0 1 0 5.4 0a2.7 2.7 0 1 0 -5.4 0M845.8 1029.4a2.7 2.7 0 1 0 5.4 0a2.7 2.7 0 1 0 -5.4 0M851.8 1007.1a2.7 2.7 0 1 0 5.4 0a2.7 2.7 0 1 0 -5.4 0M852.1 1030.2a2.7 2.7 0 1 0 5.4 0a2.7 2.7 0 1 0 -5.4 0M854.1 1010.1a2.7 2.7 0 1 0 5.4 0a2.7 2.7 0 1 0 -5.4 0M854.0 1029.1a2.7 2.7 0 1 0 5.4 0a2.7 2.7 0 1 0 -5.4 0M857.8 1013.7a2.7 2.7 0 1 0 5.4 0a2.7 2.7 0 1 0 -5.4 0M857.2 1030.2a2.7 2.7 0 1 0 5.4 0a2.7 2.7 0 1 0 -5.4 0M858.6 1015.1a2.7 2.7 0 1 0 5.4 0a2.7 2.7 0 1 0 -5.4 0M858.5 1029.4a2.7 2.7 0 1 0 5.4 0a2.7 2.7 0 1 0 -5.4 0M863.5 1018.4a2.7 2.7 0 1 0 5.4 0a2.7 2.7 0 1 0 -5.4 0M863.5 1029.0a2.7 2.7 0 1 0 5.4 0a2.7 2.7 0 1 0 -5.4 0M864.4 1021.6a2.7 2.7 0 1 0 5.4 0a2.7 2.7 0 1 0 -5.4 0M864.7 1029.3a2.7 2.7 0 1 0 5.4 0a2.7 2.7 0 1 0 -5.4 0M867.3 1026.3a2.7 2.7 0 1 0 5.4 0a2.7 2.7 0 1 0 -5.4 0M868.0 1030.3a2.7 2.7 0 1 0 5.4 0a2.7 2.7 0 1 0 -5.4 0M869.7 1027.4a2.7 2.7 0 1 0 5.4 0a2.7 2.7 0 1 0 -5.4 0M869.7 1030.2a2.7 2.7 0 1 0 5.4 0a2.7 2.7 0 1 0 -5.4 0M871.9 1028.5a2.7 2.7 0 1 0 5.4 0a2.7 2.7 0 1 0 -5.4 0M871.9 1031.2a2.7 2.7 0 1 0 5.4 0a2.7 2.7 0 1 0 -5.4 0M873.1 1027.8a2.7 2.7 0 1 0 5.4 0a2.7 2.7 0 1 0 -5.4 0M873.0 1031.3a2.7 2.7 0 1 0 5.4 0a2.7 2.7 0 1 0 -5.4 0M876.6 1025.2a2.7 2.7 0 1 0 5.4 0a2.7 2.7 0 1 0 -5.4 0M876.5 1030.4a2.7 2.7 0 1 0 5.4 0a2.7 2.7 0 1 0 -5.4 0M877.7 1031.0a2.7 2.7 0 1 0 5.4 0a2.7 2.7 0 1 0 -5.4 0M880.7 1022.7a2.7 2.7 0 1 0 5.4 0a2.7 2.7 0 1 0 -5.4 0M883.9 1013.4a2.7 2.7 0 1 0 5.4 0a2.7 2.7 0 1 0 -5.4 0M887.1 1011.7a2.7 2.7 0 1 0 5.4 0a2.7 2.7 0 1 0 -5.4 0M890.3 1000.4a2.7 2.7 0 1 0 5.4 0a2.7 2.7 0 1 0 -5.4 0M892.2 999.2a2.7 2.7 0 1 0 5.4 0a2.7 2.7 0 1 0 -5.4 0M894.8 1000.6a2.7 2.7 0 1 0 5.4 0a2.7 2.7 0 1 0 -5.4 0M897.9 999.2a2.7 2.7 0 1 0 5.4 0a2.7 2.7 0 1 0 -5.4 0M898.4 1002.7a2.7 2.7 0 1 0 5.4 0a2.7 2.7 0 1 0 -5.4 0M901.7 1021.3a2.7 2.7 0 1 0 5.4 0a2.7 2.7 0 1 0 -5.4 0M904.9 1019.7a2.7 2.7 0 1 0 5.4 0a2.7 2.7 0 1 0 -5.4 0M908.7 1020.5a2.7 2.7 0 1 0 5.4 0a2.7 2.7 0 1 0 -5.4 0M910.7 1019.9a2.7 2.7 0 1 0 5.4 0a2.7 2.7 0 1 0 -5.4 0M913.3 1018.7a2.7 2.7 0 1 0 5.4 0a2.7 2.7 0 1 0 -5.4 0M915.9 1014.6a2.7 2.7 0 1 0 5.4 0a2.7 2.7 0 1 0 -5.4 0M919.3 1016.6a2.7 2.7 0 1 0 5.4 0a2.7 2.7 0 1 0 -5.4 0M923.1 1018.5a2.7 2.7 0 1 0 5.4 0a2.7 2.7 0 1 0 -5.4 0M927.1 1018.7a2.7 2.7 0 1 0 5.4 0a2.7 2.7 0 1 0 -5.4 0M928.7 1018.8a2.7 2.7 0 1 0 5.4 0a2.7 2.7 0 1 0 -5.4 0M932.6 1019.0a2.7 2.7 0 1 0 5.4 0a2.7 2.7 0 1 0 -5.4 0M934.0 1020.0a2.7 2.7 0 1 0 5.4 0a2.7 2.7 0 1 0 -5.4 0M935.3 1019.8a2.7 2.7 0 1 0 5.4 0a2.7 2.7 0 1 0 -5.4 0M938.8 1020.9a2.7 2.7 0 1 0 5.4 0a2.7 2.7 0 1 0 -5.4 0M941.2 1020.5a2.7 2.7 0 1 0 5.4 0a2.7 2.7 0 1 0 -5.4 0M944.6 1022.3a2.7 2.7 0 1 0 5.4 0a2.7 2.7 0 1 0 -5.4 0M946.6 1022.7a2.7 2.7 0 1 0 5.4 0a2.7 2.7 0 1 0 -5.4 0M948.4 1021.4a2.7 2.7 0 1 0 5.4 0a2.7 2.7 0 1 0 -5.4 0M951.4 1020.0a2.7 2.7 0 1 0 5.4 0a2.7 2.7 0 1 0 -5.4 0M955.0 1019.0a2.7 2.7 0 1 0 5.4 0a2.7 2.7 0 1 0 -5.4 0M957.9 1018.2a2.7 2.7 0 1 0 5.4 0a2.7 2.7 0 1 0 -5.4 0M960.8 1020.2a2.7 2.7 0 1 0 5.4 0a2.7 2.7 0 1 0 -5.4 0M964.5 1020.3a2.7 2.7 0 1 0 5.4 0a2.7 2.7 0 1 0 -5.4 0M965.0 1020.6a2.7 2.7 0 1 0 5.4 0a2.7 2.7 0 1 0 -5.4 0M967.1 1018.8a2.7 2.7 0 1 0 5.4 0a2.7 2.7 0 1 0 -5.4 0M971.4 1018.4a2.7 2.7 0 1 0 5.4 0a2.7 2.7 0 1 0 -5.4 0M973.7 1019.4a2.7 2.7 0 1 0 5.4 0a2.7 2.7 0 1 0 -5.4 0M977.3 1018.8a2.7 2.7 0 1 0 5.4 0a2.7 2.7 0 1 0 -5.4 0M979.9 1017.7a2.7 2.7 0 1 0 5.4 0a2.7 2.7 0 1 0 -5.4 0M985.0 1014.9a2.7 2.7 0 1 0 5.4 0a2.7 2.7 0 1 0 -5.4 0M985.1 1015.6a2.7 2.7 0 1 0 5.4 0a2.7 2.7 0 1 0 -5.4 0M988.2 1015.2a2.7 2.7 0 1 0 5.4 0a2.7 2.7 0 1 0 -5.4 0M993.1 1017.0a2.7 2.7 0 1 0 5.4 0a2.7 2.7 0 1 0 -5.4 0M997.1 1017.7a2.7 2.7 0 1 0 5.4 0a2.7 2.7 0 1 0 -5.4 0M998.9 1019.0a2.7 2.7 0 1 0 5.4 0a2.7 2.7 0 1 0 -5.4 0M1002.4 1018.5a2.7 2.7 0 1 0 5.4 0a2.7 2.7 0 1 0 -5.4 0M1004.7 1019.6a2.7 2.7 0 1 0 5.4 0a2.7 2.7 0 1 0 -5.4 0M1008.4 1021.8a2.7 2.7 0 1 0 5.4 0a2.7 2.7 0 1 0 -5.4 0M1008.2 1023.3a2.7 2.7 0 1 0 5.4 0a2.7 2.7 0 1 0 -5.4 0M1012.3 1017.6a2.7 2.7 0 1 0 5.4 0a2.7 2.7 0 1 0 -5.4 0M1014.4 1017.9a2.7 2.7 0 1 0 5.4 0a2.7 2.7 0 1 0 -5.4 0M1018.3 1017.1a2.7 2.7 0 1 0 5.4 0a2.7 2.7 0 1 0 -5.4 0M1021.5 1017.4a2.7 2.7 0 1 0 5.4 0a2.7 2.7 0 1 0 -5.4 0M1024.9 1021.9a2.7 2.7 0 1 0 5.4 0a2.7 2.7 0 1 0 -5.4 0M1025.9 1022.3a2.7 2.7 0 1 0 5.4 0a2.7 2.7 0 1 0 -5.4 0M1031.4 1021.0a2.7 2.7 0 1 0 5.4 0a2.7 2.7 0 1 0 -5.4 0M1035.6 1020.6a2.7 2.7 0 1 0 5.4 0a2.7 2.7 0 1 0 -5.4 0M1036.3 1020.8a2.7 2.7 0 1 0 5.4 0a2.7 2.7 0 1 0 -5.4 0M1040.2 1020.7a2.7 2.7 0 1 0 5.4 0a2.7 2.7 0 1 0 -5.4 0M1041.6 1020.3a2.7 2.7 0 1 0 5.4 0a2.7 2.7 0 1 0 -5.4 0M1047.2 1023.2a2.7 2.7 0 1 0 5.4 0a2.7 2.7 0 1 0 -5.4 0M1049.6 1023.3a2.7 2.7 0 1 0 5.4 0a2.7 2.7 0 1 0 -5.4 0M1052.3 1025.3a2.7 2.7 0 1 0 5.4 0a2.7 2.7 0 1 0 -5.4 0M1054.4 1024.9a2.7 2.7 0 1 0 5.4 0a2.7 2.7 0 1 0 -5.4 0M1058.5 1024.1a2.7 2.7 0 1 0 5.4 0a2.7 2.7 0 1 0 -5.4 0M1059.6 1024.1a2.7 2.7 0 1 0 5.4 0a2.7 2.7 0 1 0 -5.4 0M1062.8 1022.5a2.7 2.7 0 1 0 5.4 0a2.7 2.7 0 1 0 -5.4 0M1065.2 1022.2a2.7 2.7 0 1 0 5.4 0a2.7 2.7 0 1 0 -5.4 0M1069.0 1023.5a2.7 2.7 0 1 0 5.4 0a2.7 2.7 0 1 0 -5.4 0M1073.0 1025.2a2.7 2.7 0 1 0 5.4 0a2.7 2.7 0 1 0 -5.4 0M1074.8 1025.0a2.7 2.7 0 1 0 5.4 0a2.7 2.7 0 1 0 -5.4 0M1080.3 1024.1a2.7 2.7 0 1 0 5.4 0a2.7 2.7 0 1 0 -5.4 0M1084.2 1023.9a2.7 2.7 0 1 0 5.4 0a2.7 2.7 0 1 0 -5.4 0M1086.0 1022.9a2.7 2.7 0 1 0 5.4 0a2.7 2.7 0 1 0 -5.4 0M1091.7 1022.6a2.7 2.7 0 1 0 5.4 0a2.7 2.7 0 1 0 -5.4 0M1091.8 1023.4a2.7 2.7 0 1 0 5.4 0a2.7 2.7 0 1 0 -5.4 0M1096.7 1024.8a2.7 2.7 0 1 0 5.4 0a2.7 2.7 0 1 0 -5.4 0M1099.1 1025.3a2.7 2.7 0 1 0 5.4 0a2.7 2.7 0 1 0 -5.4 0M1101.9 1025.5a2.7 2.7 0 1 0 5.4 0a2.7 2.7 0 1 0 -5.4 0M1107.7 1025.4a2.7 2.7 0 1 0 5.4 0a2.7 2.7 0 1 0 -5.4 0M1111.1 1024.0a2.7 2.7 0 1 0 5.4 0a2.7 2.7 0 1 0 -5.4 0M1113.0 1025.3a2.7 2.7 0 1 0 5.4 0a2.7 2.7 0 1 0 -5.4 0M1116.2 1025.3a2.7 2.7 0 1 0 5.4 0a2.7 2.7 0 1 0 -5.4 0M1118.7 1025.0a2.7 2.7 0 1 0 5.4 0a2.7 2.7 0 1 0 -5.4 0M1121.7 1025.1a2.7 2.7 0 1 0 5.4 0a2.7 2.7 0 1 0 -5.4 0M1124.7 1023.9a2.7 2.7 0 1 0 5.4 0a2.7 2.7 0 1 0 -5.4 0M1127.5 1025.2a2.7 2.7 0 1 0 5.4 0a2.7 2.7 0 1 0 -5.4 0M1132.1 1023.5a2.7 2.7 0 1 0 5.4 0a2.7 2.7 0 1 0 -5.4 0M1134.0 1024.3a2.7 2.7 0 1 0 5.4 0a2.7 2.7 0 1 0 -5.4 0M1138.6 1024.3a2.7 2.7 0 1 0 5.4 0a2.7 2.7 0 1 0 -5.4 0M1142.9 1023.4a2.7 2.7 0 1 0 5.4 0a2.7 2.7 0 1 0 -5.4 0M1146.6 1025.0a2.7 2.7 0 1 0 5.4 0a2.7 2.7 0 1 0 -5.4 0M1148.6 1023.9a2.7 2.7 0 1 0 5.4 0a2.7 2.7 0 1 0 -5.4 0M1153.7 1023.3a2.7 2.7 0 1 0 5.4 0a2.7 2.7 0 1 0 -5.4 0M1155.3 1023.8a2.7 2.7 0 1 0 5.4 0a2.7 2.7 0 1 0 -5.4 0M1159.4 1027.1a2.7 2.7 0 1 0 5.4 0a2.7 2.7 0 1 0 -5.4 0M1164.3 1027.5a2.7 2.7 0 1 0 5.4 0a2.7 2.7 0 1 0 -5.4 0M1166.8 1025.7a2.7 2.7 0 1 0 5.4 0a2.7 2.7 0 1 0 -5.4 0M1169.0 1026.0a2.7 2.7 0 1 0 5.4 0a2.7 2.7 0 1 0 -5.4 0M1170.1 1025.4a2.7 2.7 0 1 0 5.4 0a2.7 2.7 0 1 0 -5.4 0M1175.3 1026.6a2.7 2.7 0 1 0 5.4 0a2.7 2.7 0 1 0 -5.4 0M1177.6 1026.7a2.7 2.7 0 1 0 5.4 0a2.7 2.7 0 1 0 -5.4 0M1178.8 1027.1a2.7 2.7 0 1 0 5.4 0a2.7 2.7 0 1 0 -5.4 0M1180.2 1025.7a2.7 2.7 0 1 0 5.4 0a2.7 2.7 0 1 0 -5.4 0M1185.3 1025.1a2.7 2.7 0 1 0 5.4 0a2.7 2.7 0 1 0 -5.4 0M1188.5 1025.7a2.7 2.7 0 1 0 5.4 0a2.7 2.7 0 1 0 -5.4 0M1192.1 1025.0a2.7 2.7 0 1 0 5.4 0a2.7 2.7 0 1 0 -5.4 0M1193.1 1025.9a2.7 2.7 0 1 0 5.4 0a2.7 2.7 0 1 0 -5.4 0M1195.3 1026.2a2.7 2.7 0 1 0 5.4 0a2.7 2.7 0 1 0 -5.4 0M1197.8 1026.5a2.7 2.7 0 1 0 5.4 0a2.7 2.7 0 1 0 -5.4 0M1199.4 1025.9a2.7 2.7 0 1 0 5.4 0a2.7 2.7 0 1 0 -5.4 0M1202.5 1026.5a2.7 2.7 0 1 0 5.4 0a2.7 2.7 0 1 0 -5.4 0M1205.3 1024.8a2.7 2.7 0 1 0 5.4 0a2.7 2.7 0 1 0 -5.4 0M1208.4 1024.0a2.7 2.7 0 1 0 5.4 0a2.7 2.7 0 1 0 -5.4 0M1209.8 1023.7a2.7 2.7 0 1 0 5.4 0a2.7 2.7 0 1 0 -5.4 0M1211.6 1023.9a2.7 2.7 0 1 0 5.4 0a2.7 2.7 0 1 0 -5.4 0M1215.1 1023.7a2.7 2.7 0 1 0 5.4 0a2.7 2.7 0 1 0 -5.4 0M1216.8 1023.8a2.7 2.7 0 1 0 5.4 0a2.7 2.7 0 1 0 -5.4 0M1218.7 1023.2a2.7 2.7 0 1 0 5.4 0a2.7 2.7 0 1 0 -5.4 0M1222.9 1022.1a2.7 2.7 0 1 0 5.4 0a2.7 2.7 0 1 0 -5.4 0M1224.1 1021.2a2.7 2.7 0 1 0 5.4 0a2.7 2.7 0 1 0 -5.4 0M1228.7 1021.1a2.7 2.7 0 1 0 5.4 0a2.7 2.7 0 1 0 -5.4 0M1230.2 1021.8a2.7 2.7 0 1 0 5.4 0a2.7 2.7 0 1 0 -5.4 0M1233.1 1021.5a2.7 2.7 0 1 0 5.4 0a2.7 2.7 0 1 0 -5.4 0M1238.1 1020.9a2.7 2.7 0 1 0 5.4 0a2.7 2.7 0 1 0 -5.4 0M1239.1 1022.3a2.7 2.7 0 1 0 5.4 0a2.7 2.7 0 1 0 -5.4 0M1243.0 1021.5a2.7 2.7 0 1 0 5.4 0a2.7 2.7 0 1 0 -5.4 0M1244.2 1021.5a2.7 2.7 0 1 0 5.4 0a2.7 2.7 0 1 0 -5.4 0M1249.2 1020.8a2.7 2.7 0 1 0 5.4 0a2.7 2.7 0 1 0 -5.4 0M1252.7 1021.7a2.7 2.7 0 1 0 5.4 0a2.7 2.7 0 1 0 -5.4 0M1254.7 1022.8a2.7 2.7 0 1 0 5.4 0a2.7 2.7 0 1 0 -5.4 0M1257.0 1022.5a2.7 2.7 0 1 0 5.4 0a2.7 2.7 0 1 0 -5.4 0M1263.6 1018.8a2.7 2.7 0 1 0 5.4 0a2.7 2.7 0 1 0 -5.4 0M1267.2 1019.8a2.7 2.7 0 1 0 5.4 0a2.7 2.7 0 1 0 -5.4 0M1270.0 1020.0a2.7 2.7 0 1 0 5.4 0a2.7 2.7 0 1 0 -5.4 0M1273.8 1019.4a2.7 2.7 0 1 0 5.4 0a2.7 2.7 0 1 0 -5.4 0M1275.3 1020.2a2.7 2.7 0 1 0 5.4 0a2.7 2.7 0 1 0 -5.4 0M1277.2 1020.2a2.7 2.7 0 1 0 5.4 0a2.7 2.7 0 1 0 -5.4 0M1280.6 1020.4a2.7 2.7 0 1 0 5.4 0a2.7 2.7 0 1 0 -5.4 0M1284.8 1022.1a2.7 2.7 0 1 0 5.4 0a2.7 2.7 0 1 0 -5.4 0M1285.6 1021.3a2.7 2.7 0 1 0 5.4 0a2.7 2.7 0 1 0 -5.4 0M1287.9 1020.8a2.7 2.7 0 1 0 5.4 0a2.7 2.7 0 1 0 -5.4 0M1291.5 1021.3a2.7 2.7 0 1 0 5.4 0a2.7 2.7 0 1 0 -5.4 0M1294.4 1022.4a2.7 2.7 0 1 0 5.4 0a2.7 2.7 0 1 0 -5.4 0M1297.7 1021.3a2.7 2.7 0 1 0 5.4 0a2.7 2.7 0 1 0 -5.4 0M1301.1 1022.1a2.7 2.7 0 1 0 5.4 0a2.7 2.7 0 1 0 -5.4 0M1304.0 1021.1a2.7 2.7 0 1 0 5.4 0a2.7 2.7 0 1 0 -5.4 0M1309.0 1018.2a2.7 2.7 0 1 0 5.4 0a2.7 2.7 0 1 0 -5.4 0M1310.9 1019.7a2.7 2.7 0 1 0 5.4 0a2.7 2.7 0 1 0 -5.4 0M1315.0 1020.6a2.7 2.7 0 1 0 5.4 0a2.7 2.7 0 1 0 -5.4 0M1318.5 1020.4a2.7 2.7 0 1 0 5.4 0a2.7 2.7 0 1 0 -5.4 0M1320.5 1018.6a2.7 2.7 0 1 0 5.4 0a2.7 2.7 0 1 0 -5.4 0M1321.0 1020.1a2.7 2.7 0 1 0 5.4 0a2.7 2.7 0 1 0 -5.4 0M1325.0 1019.5a2.7 2.7 0 1 0 5.4 0a2.7 2.7 0 1 0 -5.4 0M1326.7 1019.8a2.7 2.7 0 1 0 5.4 0a2.7 2.7 0 1 0 -5.4 0M1327.9 1019.9a2.7 2.7 0 1 0 5.4 0a2.7 2.7 0 1 0 -5.4 0M1332.1 1020.3a2.7 2.7 0 1 0 5.4 0a2.7 2.7 0 1 0 -5.4 0M1334.4 1019.2a2.7 2.7 0 1 0 5.4 0a2.7 2.7 0 1 0 -5.4 0M1336.2 1018.5a2.7 2.7 0 1 0 5.4 0a2.7 2.7 0 1 0 -5.4 0M1339.7 1020.8a2.7 2.7 0 1 0 5.4 0a2.7 2.7 0 1 0 -5.4 0M1342.6 1019.5a2.7 2.7 0 1 0 5.4 0a2.7 2.7 0 1 0 -5.4 0M1343.7 1020.0a2.7 2.7 0 1 0 5.4 0a2.7 2.7 0 1 0 -5.4 0M1346.8 1019.6a2.7 2.7 0 1 0 5.4 0a2.7 2.7 0 1 0 -5.4 0M1349.8 1019.2a2.7 2.7 0 1 0 5.4 0a2.7 2.7 0 1 0 -5.4 0M1352.5 1021.2a2.7 2.7 0 1 0 5.4 0a2.7 2.7 0 1 0 -5.4 0M1354.6 1022.2a2.7 2.7 0 1 0 5.4 0a2.7 2.7 0 1 0 -5.4 0M1357.1 1020.8a2.7 2.7 0 1 0 5.4 0a2.7 2.7 0 1 0 -5.4 0M1360.0 1019.4a2.7 2.7 0 1 0 5.4 0a2.7 2.7 0 1 0 -5.4 0M1362.4 1019.9a2.7 2.7 0 1 0 5.4 0a2.7 2.7 0 1 0 -5.4 0M1365.0 1021.7a2.7 2.7 0 1 0 5.4 0a2.7 2.7 0 1 0 -5.4 0M1369.3 1020.2a2.7 2.7 0 1 0 5.4 0a2.7 2.7 0 1 0 -5.4 0M1371.2 1019.6a2.7 2.7 0 1 0 5.4 0a2.7 2.7 0 1 0 -5.4 0M1374.6 1020.4a2.7 2.7 0 1 0 5.4 0a2.7 2.7 0 1 0 -5.4 0M1376.8 1019.4a2.7 2.7 0 1 0 5.4 0a2.7 2.7 0 1 0 -5.4 0M1380.3 1019.2a2.7 2.7 0 1 0 5.4 0a2.7 2.7 0 1 0 -5.4 0M1381.3 1020.6a2.7 2.7 0 1 0 5.4 0a2.7 2.7 0 1 0 -5.4 0M1383.0 1020.2a2.7 2.7 0 1 0 5.4 0a2.7 2.7 0 1 0 -5.4 0M1385.5 1021.9a2.7 2.7 0 1 0 5.4 0a2.7 2.7 0 1 0 -5.4 0M1388.2 1021.1a2.7 2.7 0 1 0 5.4 0a2.7 2.7 0 1 0 -5.4 0M1390.2 1021.3a2.7 2.7 0 1 0 5.4 0a2.7 2.7 0 1 0 -5.4 0M1392.9 1021.0a2.7 2.7 0 1 0 5.4 0a2.7 2.7 0 1 0 -5.4 0M1394.9 1020.6a2.7 2.7 0 1 0 5.4 0a2.7 2.7 0 1 0 -5.4 0M1398.0 1020.8a2.7 2.7 0 1 0 5.4 0a2.7 2.7 0 1 0 -5.4 0M1399.1 1020.2a2.7 2.7 0 1 0 5.4 0a2.7 2.7 0 1 0 -5.4 0M1403.4 1019.6a2.7 2.7 0 1 0 5.4 0a2.7 2.7 0 1 0 -5.4 0M1407.0 1018.9a2.7 2.7 0 1 0 5.4 0a2.7 2.7 0 1 0 -5.4 0M1409.7 1020.6a2.7 2.7 0 1 0 5.4 0a2.7 2.7 0 1 0 -5.4 0M1411.4 1019.7a2.7 2.7 0 1 0 5.4 0a2.7 2.7 0 1 0 -5.4 0M1414.6 1019.3a2.7 2.7 0 1 0 5.4 0a2.7 2.7 0 1 0 -5.4 0M1416.2 1019.7a2.7 2.7 0 1 0 5.4 0a2.7 2.7 0 1 0 -5.4 0M1418.2 1019.3a2.7 2.7 0 1 0 5.4 0a2.7 2.7 0 1 0 -5.4 0M1422.2 1018.1a2.7 2.7 0 1 0 5.4 0a2.7 2.7 0 1 0 -5.4 0M1424.1 1018.8a2.7 2.7 0 1 0 5.4 0a2.7 2.7 0 1 0 -5.4 0M1425.0 1020.7a2.7 2.7 0 1 0 5.4 0a2.7 2.7 0 1 0 -5.4 0M1426.7 1021.2a2.7 2.7 0 1 0 5.4 0a2.7 2.7 0 1 0 -5.4 0M1429.3 1021.0a2.7 2.7 0 1 0 5.4 0a2.7 2.7 0 1 0 -5.4 0M1432.8 1019.2a2.7 2.7 0 1 0 5.4 0a2.7 2.7 0 1 0 -5.4 0M1437.1 1021.0a2.7 2.7 0 1 0 5.4 0a2.7 2.7 0 1 0 -5.4 0M1439.9 1020.5a2.7 2.7 0 1 0 5.4 0a2.7 2.7 0 1 0 -5.4 0M1443.0 1021.8a2.7 2.7 0 1 0 5.4 0a2.7 2.7 0 1 0 -5.4 0M1443.8 1021.1a2.7 2.7 0 1 0 5.4 0a2.7 2.7 0 1 0 -5.4 0M1447.3 1021.9a2.7 2.7 0 1 0 5.4 0a2.7 2.7 0 1 0 -5.4 0M1449.4 1021.0a2.7 2.7 0 1 0 5.4 0a2.7 2.7 0 1 0 -5.4 0M1451.2 1020.3a2.7 2.7 0 1 0 5.4 0a2.7 2.7 0 1 0 -5.4 0M1454.3 1019.7a2.7 2.7 0 1 0 5.4 0a2.7 2.7 0 1 0 -5.4 0M1457.3 1020.2a2.7 2.7 0 1 0 5.4 0a2.7 2.7 0 1 0 -5.4 0M130.7 728.5a2.7 2.7 0 1 0 5.4 0a2.7 2.7 0 1 0 -5.4 0M130.7 732.0a2.7 2.7 0 1 0 5.4 0a2.7 2.7 0 1 0 -5.4 0M130.5 747.0a2.7 2.7 0 1 0 5.4 0a2.7 2.7 0 1 0 -5.4 0M130.8 755.0a2.7 2.7 0 1 0 5.4 0a2.7 2.7 0 1 0 -5.4 0M130.7 777.0a2.7 2.7 0 1 0 5.4 0a2.7 2.7 0 1 0 -5.4 0M131.3 797.0a2.7 2.7 0 1 0 5.4 0a2.7 2.7 0 1 0 -5.4 0M131.5 813.0a2.7 2.7 0 1 0 5.4 0a2.7 2.7 0 1 0 -5.4 0M131.1 823.0a2.7 2.7 0 1 0 5.4 0a2.7 2.7 0 1 0 -5.4 0M130.7 832.0a2.7 2.7 0 1 0 5.4 0a2.7 2.7 0 1 0 -5.4 0M130.7 840.0a2.7 2.7 0 1 0 5.4 0a2.7 2.7 0 1 0 -5.4 0M202.9 757.0a2.7 2.7 0 1 0 5.4 0a2.7 2.7 0 1 0 -5.4 0M202.9 763.0a2.7 2.7 0 1 0 5.4 0a2.7 2.7 0 1 0 -5.4 0M202.9 785.0a2.7 2.7 0 1 0 5.4 0a2.7 2.7 0 1 0 -5.4 0M202.9 796.0a2.7 2.7 0 1 0 5.4 0a2.7 2.7 0 1 0 -5.4 0M202.9 808.0a2.7 2.7 0 1 0 5.4 0a2.7 2.7 0 1 0 -5.4 0M209.8 782.0a2.7 2.7 0 1 0 5.4 0a2.7 2.7 0 1 0 -5.4 0M209.8 789.0a2.7 2.7 0 1 0 5.4 0a2.7 2.7 0 1 0 -5.4 0M209.8 797.0a2.7 2.7 0 1 0 5.4 0a2.7 2.7 0 1 0 -5.4 0M209.8 806.0a2.7 2.7 0 1 0 5.4 0a2.7 2.7 0 1 0 -5.4 0M209.8 815.0a2.7 2.7 0 1 0 5.4 0a2.7 2.7 0 1 0 -5.4 0M209.8 825.0a2.7 2.7 0 1 0 5.4 0a2.7 2.7 0 1 0 -5.4 0M209.8 836.0a2.7 2.7 0 1 0 5.4 0a2.7 2.7 0 1 0 -5.4 0M209.8 848.0a2.7 2.7 0 1 0 5.4 0a2.7 2.7 0 1 0 -5.4 0M209.8 860.0a2.7 2.7 0 1 0 5.4 0a2.7 2.7 0 1 0 -5.4 0M209.8 869.0a2.7 2.7 0 1 0 5.4 0a2.7 2.7 0 1 0 -5.4 0M203.8 755.0a2.7 2.7 0 1 0 5.4 0a2.7 2.7 0 1 0 -5.4 0M204.6 760.4a2.7 2.7 0 1 0 5.4 0a2.7 2.7 0 1 0 -5.4 0M204.1 766.7a2.7 2.7 0 1 0 5.4 0a2.7 2.7 0 1 0 -5.4 0M203.5 773.7a2.7 2.7 0 1 0 5.4 0a2.7 2.7 0 1 0 -5.4 0M204.4 782.1a2.7 2.7 0 1 0 5.4 0a2.7 2.7 0 1 0 -5.4 0M203.9 791.2a2.7 2.7 0 1 0 5.4 0a2.7 2.7 0 1 0 -5.4 0M203.9 796.6a2.7 2.7 0 1 0 5.4 0a2.7 2.7 0 1 0 -5.4 0M204.3 804.9a2.7 2.7 0 1 0 5.4 0a2.7 2.7 0 1 0 -5.4 0M204.1 811.4a2.7 2.7 0 1 0 5.4 0a2.7 2.7 0 1 0 -5.4 0M204.6 816.4a2.7 2.7 0 1 0 5.4 0a2.7 2.7 0 1 0 -5.4 0M204.1 823.3a2.7 2.7 0 1 0 5.4 0a2.7 2.7 0 1 0 -5.4 0M203.7 831.9a2.7 2.7 0 1 0 5.4 0a2.7 2.7 0 1 0 -5.4 0M203.9 840.1a2.7 2.7 0 1 0 5.4 0a2.7 2.7 0 1 0 -5.4 0M203.6 848.9a2.7 2.7 0 1 0 5.4 0a2.7 2.7 0 1 0 -5.4 0M204.3 854.6a2.7 2.7 0 1 0 5.4 0a2.7 2.7 0 1 0 -5.4 0M204.0 861.5a2.7 2.7 0 1 0 5.4 0a2.7 2.7 0 1 0 -5.4 0M203.8 869.0a2.7 2.7 0 1 0 5.4 0a2.7 2.7 0 1 0 -5.4 0M203.5 875.6a2.7 2.7 0 1 0 5.4 0a2.7 2.7 0 1 0 -5.4 0M204.1 880.0a2.7 2.7 0 1 0 5.4 0a2.7 2.7 0 1 0 -5.4 0M209.0 870.0a2.7 2.7 0 1 0 5.4 0a2.7 2.7 0 1 0 -5.4 0M209.4 878.9a2.7 2.7 0 1 0 5.4 0a2.7 2.7 0 1 0 -5.4 0M209.5 886.4a2.7 2.7 0 1 0 5.4 0a2.7 2.7 0 1 0 -5.4 0M209.6 891.3a2.7 2.7 0 1 0 5.4 0a2.7 2.7 0 1 0 -5.4 0M209.7 897.2a2.7 2.7 0 1 0 5.4 0a2.7 2.7 0 1 0 -5.4 0M209.5 905.8a2.7 2.7 0 1 0 5.4 0a2.7 2.7 0 1 0 -5.4 0M209.2 914.5a2.7 2.7 0 1 0 5.4 0a2.7 2.7 0 1 0 -5.4 0M209.8 922.5a2.7 2.7 0 1 0 5.4 0a2.7 2.7 0 1 0 -5.4 0M208.8 927.8a2.7 2.7 0 1 0 5.4 0a2.7 2.7 0 1 0 -5.4 0M209.3 934.3a2.7 2.7 0 1 0 5.4 0a2.7 2.7 0 1 0 -5.4 0M209.0 939.3a2.7 2.7 0 1 0 5.4 0a2.7 2.7 0 1 0 -5.4 0M209.2 948.4a2.7 2.7 0 1 0 5.4 0a2.7 2.7 0 1 0 -5.4 0M208.9 953.4a2.7 2.7 0 1 0 5.4 0a2.7 2.7 0 1 0 -5.4 0M208.9 960.8a2.7 2.7 0 1 0 5.4 0a2.7 2.7 0 1 0 -5.4 0M209.3 967.7a2.7 2.7 0 1 0 5.4 0a2.7 2.7 0 1 0 -5.4 0M209.3 974.3a2.7 2.7 0 1 0 5.4 0a2.7 2.7 0 1 0 -5.4 0M208.7 983.2a2.7 2.7 0 1 0 5.4 0a2.7 2.7 0 1 0 -5.4 0M209.3 990.0a2.7 2.7 0 1 0 5.4 0a2.7 2.7 0 1 0 -5.4 0M206.4 850.0a2.7 2.7 0 1 0 5.4 0a2.7 2.7 0 1 0 -5.4 0M207.1 854.4a2.7 2.7 0 1 0 5.4 0a2.7 2.7 0 1 0 -5.4 0M206.8 861.8a2.7 2.7 0 1 0 5.4 0a2.7 2.7 0 1 0 -5.4 0M207.1 867.2a2.7 2.7 0 1 0 5.4 0a2.7 2.7 0 1 0 -5.4 0M207.1 873.1a2.7 2.7 0 1 0 5.4 0a2.7 2.7 0 1 0 -5.4 0M206.9 878.6a2.7 2.7 0 1 0 5.4 0a2.7 2.7 0 1 0 -5.4 0M206.6 886.4a2.7 2.7 0 1 0 5.4 0a2.7 2.7 0 1 0 -5.4 0M206.3 893.3a2.7 2.7 0 1 0 5.4 0a2.7 2.7 0 1 0 -5.4 0M206.8 900.0a2.7 2.7 0 1 0 5.4 0a2.7 2.7 0 1 0 -5.4 0M178.8 598.0a2.7 2.7 0 1 0 5.4 0a2.7 2.7 0 1 0 -5.4 0M178.7 603.1a2.7 2.7 0 1 0 5.4 0a2.7 2.7 0 1 0 -5.4 0M178.1 611.4a2.7 2.7 0 1 0 5.4 0a2.7 2.7 0 1 0 -5.4 0M179.0 620.3a2.7 2.7 0 1 0 5.4 0a2.7 2.7 0 1 0 -5.4 0M178.3 624.7a2.7 2.7 0 1 0 5.4 0a2.7 2.7 0 1 0 -5.4 0M178.3 629.4a2.7 2.7 0 1 0 5.4 0a2.7 2.7 0 1 0 -5.4 0M178.6 634.1a2.7 2.7 0 1 0 5.4 0a2.7 2.7 0 1 0 -5.4 0M178.4 639.7a2.7 2.7 0 1 0 5.4 0a2.7 2.7 0 1 0 -5.4 0M178.4 646.5a2.7 2.7 0 1 0 5.4 0a2.7 2.7 0 1 0 -5.4 0M178.9 655.1a2.7 2.7 0 1 0 5.4 0a2.7 2.7 0 1 0 -5.4 0M178.3 659.9a2.7 2.7 0 1 0 5.4 0a2.7 2.7 0 1 0 -5.4 0M178.4 664.2a2.7 2.7 0 1 0 5.4 0a2.7 2.7 0 1 0 -5.4 0M178.8 669.0a2.7 2.7 0 1 0 5.4 0a2.7 2.7 0 1 0 -5.4 0M179.2 677.6a2.7 2.7 0 1 0 5.4 0a2.7 2.7 0 1 0 -5.4 0M178.0 682.9a2.7 2.7 0 1 0 5.4 0a2.7 2.7 0 1 0 -5.4 0M178.5 691.4a2.7 2.7 0 1 0 5.4 0a2.7 2.7 0 1 0 -5.4 0M178.5 700.8a2.7 2.7 0 1 0 5.4 0a2.7 2.7 0 1 0 -5.4 0M178.1 706.7a2.7 2.7 0 1 0 5.4 0a2.7 2.7 0 1 0 -5.4 0M178.6 716.2a2.7 2.7 0 1 0 5.4 0a2.7 2.7 0 1 0 -5.4 0M178.5 722.9a2.7 2.7 0 1 0 5.4 0a2.7 2.7 0 1 0 -5.4 0M179.0 731.4a2.7 2.7 0 1 0 5.4 0a2.7 2.7 0 1 0 -5.4 0M178.2 738.3a2.7 2.7 0 1 0 5.4 0a2.7 2.7 0 1 0 -5.4 0M179.1 744.8a2.7 2.7 0 1 0 5.4 0a2.7 2.7 0 1 0 -5.4 0M178.8 751.2a2.7 2.7 0 1 0 5.4 0a2.7 2.7 0 1 0 -5.4 0M178.6 758.6a2.7 2.7 0 1 0 5.4 0a2.7 2.7 0 1 0 -5.4 0M178.3 766.0a2.7 2.7 0 1 0 5.4 0a2.7 2.7 0 1 0 -5.4 0M179.0 773.3a2.7 2.7 0 1 0 5.4 0a2.7 2.7 0 1 0 -5.4 0M178.4 778.0a2.7 2.7 0 1 0 5.4 0a2.7 2.7 0 1 0 -5.4 0M178.6 780.0a2.7 2.7 0 1 0 5.4 0a2.7 2.7 0 1 0 -5.4 0M197.1 673.4a2.7 2.7 0 1 0 5.4 0a2.7 2.7 0 1 0 -5.4 0M195.9 676.4a2.7 2.7 0 1 0 5.4 0a2.7 2.7 0 1 0 -5.4 0M196.7 679.4a2.7 2.7 0 1 0 5.4 0a2.7 2.7 0 1 0 -5.4 0M196.7 682.4a2.7 2.7 0 1 0 5.4 0a2.7 2.7 0 1 0 -5.4 0M196.9 685.4a2.7 2.7 0 1 0 5.4 0a2.7 2.7 0 1 0 -5.4 0M196.5 688.4a2.7 2.7 0 1 0 5.4 0a2.7 2.7 0 1 0 -5.4 0M196.5 690.0a2.7 2.7 0 1 0 5.4 0a2.7 2.7 0 1 0 -5.4 0M309.0 940.4a2.7 2.7 0 1 0 5.4 0a2.7 2.7 0 1 0 -5.4 0M309.7 946.3a2.7 2.7 0 1 0 5.4 0a2.7 2.7 0 1 0 -5.4 0M309.0 954.6a2.7 2.7 0 1 0 5.4 0a2.7 2.7 0 1 0 -5.4 0M309.4 956.0a2.7 2.7 0 1 0 5.4 0a2.7 2.7 0 1 0 -5.4 0M429.7 928.5a2.7 2.7 0 1 0 5.4 0a2.7 2.7 0 1 0 -5.4 0M428.9 936.4a2.7 2.7 0 1 0 5.4 0a2.7 2.7 0 1 0 -5.4 0M429.3 943.1a2.7 2.7 0 1 0 5.4 0a2.7 2.7 0 1 0 -5.4 0M429.3 950.6a2.7 2.7 0 1 0 5.4 0a2.7 2.7 0 1 0 -5.4 0M429.7 955.5a2.7 2.7 0 1 0 5.4 0a2.7 2.7 0 1 0 -5.4 0M429.5 956.0a2.7 2.7 0 1 0 5.4 0a2.7 2.7 0 1 0 -5.4 0M643.9 814.4a2.7 2.7 0 1 0 5.4 0a2.7 2.7 0 1 0 -5.4 0M643.7 820.3a2.7 2.7 0 1 0 5.4 0a2.7 2.7 0 1 0 -5.4 0M643.1 829.0a2.7 2.7 0 1 0 5.4 0a2.7 2.7 0 1 0 -5.4 0M643.1 837.3a2.7 2.7 0 1 0 5.4 0a2.7 2.7 0 1 0 -5.4 0M643.6 841.0a2.7 2.7 0 1 0 5.4 0a2.7 2.7 0 1 0 -5.4 0M709.1 905.4a2.7 2.7 0 1 0 5.4 0a2.7 2.7 0 1 0 -5.4 0M709.5 913.7a2.7 2.7 0 1 0 5.4 0a2.7 2.7 0 1 0 -5.4 0M709.6 918.9a2.7 2.7 0 1 0 5.4 0a2.7 2.7 0 1 0 -5.4 0M709.6 925.9a2.7 2.7 0 1 0 5.4 0a2.7 2.7 0 1 0 -5.4 0M709.7 930.8a2.7 2.7 0 1 0 5.4 0a2.7 2.7 0 1 0 -5.4 0M709.7 934.0a2.7 2.7 0 1 0 5.4 0a2.7 2.7 0 1 0 -5.4 0M718.2 909.7a2.7 2.7 0 1 0 5.4 0a2.7 2.7 0 1 0 -5.4 0M717.5 916.0a2.7 2.7 0 1 0 5.4 0a2.7 2.7 0 1 0 -5.4 0M718.2 921.5a2.7 2.7 0 1 0 5.4 0a2.7 2.7 0 1 0 -5.4 0M717.8 927.5a2.7 2.7 0 1 0 5.4 0a2.7 2.7 0 1 0 -5.4 0M717.6 930.0a2.7 2.7 0 1 0 5.4 0a2.7 2.7 0 1 0 -5.4 0M742.2 920.0a2.7 2.7 0 1 0 5.4 0a2.7 2.7 0 1 0 -5.4 0M742.0 928.4a2.7 2.7 0 1 0 5.4 0a2.7 2.7 0 1 0 -5.4 0M741.8 933.2a2.7 2.7 0 1 0 5.4 0a2.7 2.7 0 1 0 -5.4 0M742.7 940.0a2.7 2.7 0 1 0 5.4 0a2.7 2.7 0 1 0 -5.4 0M742.2 945.3a2.7 2.7 0 1 0 5.4 0a2.7 2.7 0 1 0 -5.4 0M742.3 950.0a2.7 2.7 0 1 0 5.4 0a2.7 2.7 0 1 0 -5.4 0M900.3 625.5a2.7 2.7 0 1 0 5.4 0a2.7 2.7 0 1 0 -5.4 0M900.6 630.6a2.7 2.7 0 1 0 5.4 0a2.7 2.7 0 1 0 -5.4 0M901.1 637.1a2.7 2.7 0 1 0 5.4 0a2.7 2.7 0 1 0 -5.4 0M900.3 646.4a2.7 2.7 0 1 0 5.4 0a2.7 2.7 0 1 0 -5.4 0M900.5 653.7a2.7 2.7 0 1 0 5.4 0a2.7 2.7 0 1 0 -5.4 0M900.5 658.1a2.7 2.7 0 1 0 5.4 0a2.7 2.7 0 1 0 -5.4 0M900.4 667.4a2.7 2.7 0 1 0 5.4 0a2.7 2.7 0 1 0 -5.4 0M900.9 674.9a2.7 2.7 0 1 0 5.4 0a2.7 2.7 0 1 0 -5.4 0M901.1 679.5a2.7 2.7 0 1 0 5.4 0a2.7 2.7 0 1 0 -5.4 0M900.4 684.3a2.7 2.7 0 1 0 5.4 0a2.7 2.7 0 1 0 -5.4 0M900.0 692.5a2.7 2.7 0 1 0 5.4 0a2.7 2.7 0 1 0 -5.4 0M900.2 698.8a2.7 2.7 0 1 0 5.4 0a2.7 2.7 0 1 0 -5.4 0M900.0 705.6a2.7 2.7 0 1 0 5.4 0a2.7 2.7 0 1 0 -5.4 0M900.3 710.7a2.7 2.7 0 1 0 5.4 0a2.7 2.7 0 1 0 -5.4 0M900.1 715.3a2.7 2.7 0 1 0 5.4 0a2.7 2.7 0 1 0 -5.4 0M900.6 720.6a2.7 2.7 0 1 0 5.4 0a2.7 2.7 0 1 0 -5.4 0M901.0 725.6a2.7 2.7 0 1 0 5.4 0a2.7 2.7 0 1 0 -5.4 0M900.3 732.1a2.7 2.7 0 1 0 5.4 0a2.7 2.7 0 1 0 -5.4 0M901.0 737.7a2.7 2.7 0 1 0 5.4 0a2.7 2.7 0 1 0 -5.4 0M900.9 742.1a2.7 2.7 0 1 0 5.4 0a2.7 2.7 0 1 0 -5.4 0M901.1 746.9a2.7 2.7 0 1 0 5.4 0a2.7 2.7 0 1 0 -5.4 0M900.7 753.4a2.7 2.7 0 1 0 5.4 0a2.7 2.7 0 1 0 -5.4 0M900.6 760.0a2.7 2.7 0 1 0 5.4 0a2.7 2.7 0 1 0 -5.4 0M918.3 803.0a2.7 2.7 0 1 0 5.4 0a2.7 2.7 0 1 0 -5.4 0M918.3 806.0a2.7 2.7 0 1 0 5.4 0a2.7 2.7 0 1 0 -5.4 0M919.0 809.0a2.7 2.7 0 1 0 5.4 0a2.7 2.7 0 1 0 -5.4 0M918.9 812.0a2.7 2.7 0 1 0 5.4 0a2.7 2.7 0 1 0 -5.4 0M919.1 815.0a2.7 2.7 0 1 0 5.4 0a2.7 2.7 0 1 0 -5.4 0M918.5 818.0a2.7 2.7 0 1 0 5.4 0a2.7 2.7 0 1 0 -5.4 0M918.8 821.0a2.7 2.7 0 1 0 5.4 0a2.7 2.7 0 1 0 -5.4 0M918.4 824.0a2.7 2.7 0 1 0 5.4 0a2.7 2.7 0 1 0 -5.4 0M918.7 827.0a2.7 2.7 0 1 0 5.4 0a2.7 2.7 0 1 0 -5.4 0M918.5 830.0a2.7 2.7 0 1 0 5.4 0a2.7 2.7 0 1 0 -5.4 0M918.9 833.0a2.7 2.7 0 1 0 5.4 0a2.7 2.7 0 1 0 -5.4 0M918.6 836.0a2.7 2.7 0 1 0 5.4 0a2.7 2.7 0 1 0 -5.4 0M918.5 839.0a2.7 2.7 0 1 0 5.4 0a2.7 2.7 0 1 0 -5.4 0M919.0 842.0a2.7 2.7 0 1 0 5.4 0a2.7 2.7 0 1 0 -5.4 0M918.3 845.0a2.7 2.7 0 1 0 5.4 0a2.7 2.7 0 1 0 -5.4 0M919.2 848.0a2.7 2.7 0 1 0 5.4 0a2.7 2.7 0 1 0 -5.4 0M918.8 851.0a2.7 2.7 0 1 0 5.4 0a2.7 2.7 0 1 0 -5.4 0M918.5 854.0a2.7 2.7 0 1 0 5.4 0a2.7 2.7 0 1 0 -5.4 0M918.3 857.0a2.7 2.7 0 1 0 5.4 0a2.7 2.7 0 1 0 -5.4 0M918.8 860.0a2.7 2.7 0 1 0 5.4 0a2.7 2.7 0 1 0 -5.4 0M918.8 863.0a2.7 2.7 0 1 0 5.4 0a2.7 2.7 0 1 0 -5.4 0M919.1 866.0a2.7 2.7 0 1 0 5.4 0a2.7 2.7 0 1 0 -5.4 0M918.8 867.0a2.7 2.7 0 1 0 5.4 0a2.7 2.7 0 1 0 -5.4 0M882.6 832.0a2.7 2.7 0 1 0 5.4 0a2.7 2.7 0 1 0 -5.4 0M883.3 838.5a2.7 2.7 0 1 0 5.4 0a2.7 2.7 0 1 0 -5.4 0M883.4 844.2a2.7 2.7 0 1 0 5.4 0a2.7 2.7 0 1 0 -5.4 0M882.8 850.0a2.7 2.7 0 1 0 5.4 0a2.7 2.7 0 1 0 -5.4 0M892.3 848.5a2.7 2.7 0 1 0 5.4 0a2.7 2.7 0 1 0 -5.4 0M891.4 858.0a2.7 2.7 0 1 0 5.4 0a2.7 2.7 0 1 0 -5.4 0M891.8 866.7a2.7 2.7 0 1 0 5.4 0a2.7 2.7 0 1 0 -5.4 0M892.3 872.1a2.7 2.7 0 1 0 5.4 0a2.7 2.7 0 1 0 -5.4 0M892.1 879.9a2.7 2.7 0 1 0 5.4 0a2.7 2.7 0 1 0 -5.4 0M891.2 887.2a2.7 2.7 0 1 0 5.4 0a2.7 2.7 0 1 0 -5.4 0M891.7 890.0a2.7 2.7 0 1 0 5.4 0a2.7 2.7 0 1 0 -5.4 0M1225.5 872.1a2.7 2.7 0 1 0 5.4 0a2.7 2.7 0 1 0 -5.4 0M1226.0 877.8a2.7 2.7 0 1 0 5.4 0a2.7 2.7 0 1 0 -5.4 0M1225.9 883.0a2.7 2.7 0 1 0 5.4 0a2.7 2.7 0 1 0 -5.4 0M1225.4 891.2a2.7 2.7 0 1 0 5.4 0a2.7 2.7 0 1 0 -5.4 0M1225.4 899.1a2.7 2.7 0 1 0 5.4 0a2.7 2.7 0 1 0 -5.4 0M1226.1 906.0a2.7 2.7 0 1 0 5.4 0a2.7 2.7 0 1 0 -5.4 0M1225.4 914.0a2.7 2.7 0 1 0 5.4 0a2.7 2.7 0 1 0 -5.4 0M1226.5 919.3a2.7 2.7 0 1 0 5.4 0a2.7 2.7 0 1 0 -5.4 0M1225.8 925.7a2.7 2.7 0 1 0 5.4 0a2.7 2.7 0 1 0 -5.4 0M1225.9 932.0a2.7 2.7 0 1 0 5.4 0a2.7 2.7 0 1 0 -5.4 0M1235.6 894.3a2.7 2.7 0 1 0 5.4 0a2.7 2.7 0 1 0 -5.4 0M1235.6 902.6a2.7 2.7 0 1 0 5.4 0a2.7 2.7 0 1 0 -5.4 0M1235.5 909.1a2.7 2.7 0 1 0 5.4 0a2.7 2.7 0 1 0 -5.4 0M1235.0 916.2a2.7 2.7 0 1 0 5.4 0a2.7 2.7 0 1 0 -5.4 0M1235.4 923.0a2.7 2.7 0 1 0 5.4 0a2.7 2.7 0 1 0 -5.4 0M1350.8 808.0a2.7 2.7 0 1 0 5.4 0a2.7 2.7 0 1 0 -5.4 0M1350.8 816.6a2.7 2.7 0 1 0 5.4 0a2.7 2.7 0 1 0 -5.4 0M1350.6 823.4a2.7 2.7 0 1 0 5.4 0a2.7 2.7 0 1 0 -5.4 0M1350.5 828.9a2.7 2.7 0 1 0 5.4 0a2.7 2.7 0 1 0 -5.4 0M1350.7 837.1a2.7 2.7 0 1 0 5.4 0a2.7 2.7 0 1 0 -5.4 0M1350.7 846.0a2.7 2.7 0 1 0 5.4 0a2.7 2.7 0 1 0 -5.4 0M1350.5 851.7a2.7 2.7 0 1 0 5.4 0a2.7 2.7 0 1 0 -5.4 0M1350.0 858.5a2.7 2.7 0 1 0 5.4 0a2.7 2.7 0 1 0 -5.4 0M1350.2 860.0a2.7 2.7 0 1 0 5.4 0a2.7 2.7 0 1 0 -5.4 0M1378.3 791.4a2.7 2.7 0 1 0 5.4 0a2.7 2.7 0 1 0 -5.4 0M1378.3 800.3a2.7 2.7 0 1 0 5.4 0a2.7 2.7 0 1 0 -5.4 0M1377.5 808.3a2.7 2.7 0 1 0 5.4 0a2.7 2.7 0 1 0 -5.4 0M1378.0 813.3a2.7 2.7 0 1 0 5.4 0a2.7 2.7 0 1 0 -5.4 0M1377.7 818.7a2.7 2.7 0 1 0 5.4 0a2.7 2.7 0 1 0 -5.4 0M1377.5 823.5a2.7 2.7 0 1 0 5.4 0a2.7 2.7 0 1 0 -5.4 0M1377.6 831.7a2.7 2.7 0 1 0 5.4 0a2.7 2.7 0 1 0 -5.4 0M1377.7 840.7a2.7 2.7 0 1 0 5.4 0a2.7 2.7 0 1 0 -5.4 0M1377.9 843.0a2.7 2.7 0 1 0 5.4 0a2.7 2.7 0 1 0 -5.4 0M1436.7 708.4a2.7 2.7 0 1 0 5.4 0a2.7 2.7 0 1 0 -5.4 0M1436.8 714.1a2.7 2.7 0 1 0 5.4 0a2.7 2.7 0 1 0 -5.4 0M1436.8 718.4a2.7 2.7 0 1 0 5.4 0a2.7 2.7 0 1 0 -5.4 0M1436.3 724.7a2.7 2.7 0 1 0 5.4 0a2.7 2.7 0 1 0 -5.4 0M1436.8 733.7a2.7 2.7 0 1 0 5.4 0a2.7 2.7 0 1 0 -5.4 0M1437.5 737.9a2.7 2.7 0 1 0 5.4 0a2.7 2.7 0 1 0 -5.4 0M1436.6 743.4a2.7 2.7 0 1 0 5.4 0a2.7 2.7 0 1 0 -5.4 0M1436.4 747.7a2.7 2.7 0 1 0 5.4 0a2.7 2.7 0 1 0 -5.4 0M1437.0 755.9a2.7 2.7 0 1 0 5.4 0a2.7 2.7 0 1 0 -5.4 0M1436.6 762.9a2.7 2.7 0 1 0 5.4 0a2.7 2.7 0 1 0 -5.4 0M1437.5 768.7a2.7 2.7 0 1 0 5.4 0a2.7 2.7 0 1 0 -5.4 0M1437.5 775.0a2.7 2.7 0 1 0 5.4 0a2.7 2.7 0 1 0 -5.4 0M1436.4 784.2a2.7 2.7 0 1 0 5.4 0a2.7 2.7 0 1 0 -5.4 0M1436.3 793.1a2.7 2.7 0 1 0 5.4 0a2.7 2.7 0 1 0 -5.4 0M1436.9 794.0a2.7 2.7 0 1 0 5.4 0a2.7 2.7 0 1 0 -5.4 0" fill="#1f77b4"/>
<path d="M116.4 935.0V898.3M118.7 925.4V892.2M121.0 939.3V912.3M123.3 949.6V927.3M125.6 958.8V946.0M127.9 973.1V949.4M130.2 948.2V928.4M132.5 898.3V878.7M134.8 901.5V872.6M137.1 910.6V864.5M139.4 897.6V863.5M141.7 925.1V887.5M144.0 946.5V911.1M146.3 938.9V910.8M148.6 928.2V900.9M150.9 921.9V896.1M153.2 946.9V915.1M155.5 925.4V915.1M157.8 904.8V878.0M160.1 898.8V866.3M162.4 908.8V883.1M164.7 908.0V880.8M167.0 898.7V869.1M169.3 900.0V862.9M171.6 892.0V863.3M882.3 970.0V938.0M884.6 886.9V835.9M886.9 878.9V860.0M889.2 920.5V899.8M891.5 927.7V909.6M893.8 912.1V897.0M896.1 937.9V919.7M898.4 954.4V936.6M900.7 865.6V821.8M903.0 802.2V772.2M905.3 902.0V884.2M907.6 951.7V935.6M909.9 944.7V931.2M912.2 949.3V937.4M914.5 953.6V942.1M916.8 952.0V939.1M919.1 921.0V913.8M923.7 898.0V876.5M926.0 913.1V873.3M928.3 916.8V877.3M930.6 915.6V876.1M932.9 914.7V879.8M935.2 918.7V902.8M937.5 922.9V913.1M939.8 931.5V920.4M942.1 939.0V928.7M944.4 920.9V912.5M946.7 938.7V931.3M949.0 956.0V937.2M951.3 942.7V921.3M953.6 929.5V899.6M955.9 935.8V910.7M958.2 942.1V914.4M960.5 939.3V913.3M962.8 936.5V914.6M965.1 948.2V931.9M967.4 973.2V957.6M969.7 964.0V953.2M972.0 954.8V950.7M974.3 941.1V929.7M976.6 927.4V909.6M978.9 927.7V908.0M981.2 943.2V918.6M983.5 942.5V918.8M985.8 951.1V934.8M988.1 969.8V951.3M990.4 953.7V945.5M992.7 937.5V931.3M995.0 952.7V945.2M997.3 951.6V936.3M999.6 932.9V910.8M1001.9 924.6V898.5M1004.2 920.6V888.6M1006.5 921.4V886.6M1008.8 933.5V905.7M1011.1 946.1V923.6M1013.4 948.9V939.0M1015.7 951.2V940.5M1018.0 953.7V938.5M1020.3 953.9V931.5M1022.6 950.5V938.1M1024.9 957.0V940.2M1027.2 964.5V947.5M1029.5 944.6V926.6M1031.8 917.6V900.1M1034.1 926.8V912.0M1036.4 944.1V923.0M1038.7 958.5V935.8M1041.0 949.9V927.1M1043.3 942.0V927.8M1045.6 948.1V929.2M1047.9 960.1V934.6M1050.2 952.1V933.8M1052.5 962.1V939.2M1054.8 967.4V953.3M1057.1 962.6V946.7M1059.4 976.0V949.2M1061.7 959.3V945.2M1064.0 959.3V943.1M1066.3 963.1V945.9M1068.6 971.1V951.2M1070.9 970.1V956.3M1073.2 956.5V946.7M1075.5 961.2V951.3M1077.8 972.5V960.7M1080.1 968.4V953.1M1082.4 971.5V954.6M1084.7 974.6V959.0M1087.0 962.9V946.0M1089.3 963.1V941.4M1091.6 979.6V958.3M1093.9 973.8V955.6M1096.2 967.5V950.9M1098.5 960.9V940.4M1100.8 964.2V951.9M1103.1 976.6V960.3M1105.4 974.1V959.0M1107.7 966.7V954.8M1110.0 973.5V958.4M1112.3 980.5V964.8M1114.6 988.0V971.4M1116.9 985.6V962.3M1119.2 976.5V954.3M1121.5 966.4V951.7M1123.8 978.8V954.9M1126.1 969.6V959.8M1128.4 971.9V962.1M1130.7 980.3V966.6M1133.0 979.9V970.9M1135.3 968.1V951.5M1137.6 964.2V955.6M1139.9 966.5V957.1M1142.2 982.0V968.5M1144.5 973.0V961.2M1146.8 951.5V940.1M1149.1 975.7V966.1M1151.4 977.4V966.5M1153.7 968.2V959.0M1156.0 982.2V968.7M1158.3 987.6V974.2M1160.6 973.5V960.5M1162.9 970.5V951.6M1165.2 982.0V952.9M1167.5 984.1V961.6M1169.8 985.7V975.4M1172.1 986.8V977.6M1174.4 987.8V978.5M1176.7 985.6V976.2M1179.0 976.3V963.5M1181.3 969.9V959.0M1183.6 967.9V952.2M1185.9 966.7V948.6M1190.5 961.0V942.9M1192.8 965.6V952.1M1195.1 979.9V966.5M1197.4 991.2V979.2M1199.7 999.0V987.5M1202.0 989.7V980.1M1204.3 982.2V968.1M1206.6 979.9V967.8M1208.9 976.2V964.1M1211.2 972.3V958.3M1213.5 974.8V963.6M1215.8 978.2V963.0M1218.1 981.7V971.5M1220.4 985.0V978.7M1222.7 965.7V955.2M1225.0 953.4V939.6M1227.3 954.7V938.9M1229.6 961.4V947.8M1231.9 968.5V947.5M1234.2 969.9V951.4M1236.5 956.6V946.0M1238.8 946.8V933.7M1241.1 966.9V947.9M1243.4 974.9V960.6M1245.7 981.2V962.9M1248.0 966.9V940.2M1250.3 939.9V917.8M1252.6 904.7V895.4M1254.9 944.4V920.5M1257.2 970.0V945.3M1259.5 982.8V972.9M1261.8 982.8V965.3M1264.1 974.6V952.0M1266.4 937.1V916.0M1268.7 922.2V895.9M1271.0 923.0V888.3M1273.3 941.6V904.8M1275.6 941.3V909.4M1277.9 938.3V908.8M1280.2 935.5V907.4M1282.5 938.2V907.9M1284.8 946.9V922.1M1287.1 953.5V928.3M1289.4 958.6V932.8M1291.7 959.9V937.9M1294.0 958.8V938.8M1296.3 955.2V931.7M1298.6 950.6V933.0M1300.9 947.8V917.3M1303.2 941.3V902.6M1305.5 925.0V898.3M1307.8 935.7V905.7M1310.1 940.0V910.6M1312.4 930.7V913.3M1314.7 933.3V907.9M1317.0 926.9V896.6M1319.3 912.0V885.5M1321.6 932.0V912.6M1323.9 950.1V929.1M1326.2 948.6V925.9M1328.5 947.2V930.8M1330.8 947.2V919.8M1333.1 946.1V921.2M1335.4 933.5V915.4M1337.7 933.6V915.1M1340.0 940.6V917.7M1342.3 951.4V935.4M1344.6 956.4V944.7M1346.9 952.5V928.9M1349.2 937.4V920.7M1351.5 904.6V885.8M1353.8 900.6V887.5M1356.1 941.4V920.9M1358.4 946.7V917.9M1360.7 942.2V909.6M1363.0 937.0V911.3M1365.3 930.9V909.6M1367.6 926.9V915.4M1369.9 926.4V910.3M1372.2 925.8V908.4M1374.5 934.6V905.6M1376.8 931.3V896.7M1379.1 902.8V867.0M1381.4 891.9V860.3M1383.7 914.2V883.4M1386.0 926.0V905.9M1388.3 918.4V897.0M1390.6 918.4V897.3M1392.9 933.0V910.3M1395.2 942.0V910.7M1397.5 940.4V917.4M1399.8 941.9V919.1M1402.1 948.8V923.7M1404.4 944.4V907.9M1406.7 918.8V885.0M1409.0 926.2V895.0M1411.3 954.8V925.0M1413.6 941.8V905.3M1415.9 928.7V889.5M1418.2 938.7V909.8M1420.5 948.7V924.9M1422.8 948.7V919.0M1425.1 948.7V923.6M1427.4 956.3V933.6M1429.7 964.0V946.3M1432.0 952.8V932.1M1434.3 941.5V919.3M1436.6 898.1V878.0M1438.9 853.2V826.4M1441.2 866.0V823.9M1443.5 904.0V860.5M1445.8 915.2V880.7M1448.1 925.2V890.1M1450.4 929.3V889.0M1452.7 933.1V897.9M1455.0 915.0V890.3M1457.3 895.9V864.4M1459.6 886.0V847.0M1461.9 897.1V842.3" stroke="#1f77b4" stroke-width="5.5" stroke-linecap="round" fill="none"/>
<path d="M116.4 980.4C116.8 977.4 117.6 963.3 118.6 962.4C119.6 961.5 121.3 974.3 122.4 975.2C123.5 976.1 124.2 962.1 125.0 967.6C125.8 973.1 126.7 1006.4 127.5 1008.5C128.3 1010.6 129.1 997.5 130.1 980.4C131.1 963.3 132.4 904.4 133.4 906.1C134.4 907.8 135.1 985.9 136.0 990.6C136.9 995.3 137.7 934.7 139.0 934.3C140.3 933.9 142.3 982.5 143.6 988.0C144.9 993.5 145.5 975.3 146.7 967.6C147.9 959.9 149.5 939.5 150.6 942.0C151.7 944.5 152.2 984.2 153.1 982.9C153.9 981.6 154.7 942.8 155.7 934.3C156.7 925.8 157.7 927.0 159.0 931.7C160.3 936.4 162.0 962.0 163.4 962.4C164.8 962.8 165.9 937.7 167.2 934.3C168.5 930.9 169.9 939.5 171.0 942.0C172.1 944.5 172.6 962.8 173.6 949.6C174.6 936.4 175.8 890.3 176.9 862.6C178.0 834.9 179.0 761.5 180.0 783.3C181.0 805.1 182.0 970.6 183.1 993.2C184.2 1015.8 185.2 922.8 186.4 918.9C187.6 915.0 189.1 966.7 190.2 970.1C191.3 973.5 192.0 957.3 192.8 939.4C193.7 921.5 194.6 885.8 195.3 862.6C196.0 839.4 196.3 815.8 197.0 800.0C197.7 784.2 198.5 762.9 199.2 767.9C199.9 772.9 200.6 807.4 201.2 830.0C201.8 852.6 202.4 886.1 203.0 903.6C203.6 921.1 204.3 925.6 205.0 935.0C205.7 944.4 206.0 958.3 206.9 959.9C207.8 961.5 209.7 932.6 210.7 944.5C211.7 956.4 211.8 1018.7 212.7 1031.5C213.5 1044.3 214.4 1022.6 215.8 1021.3C217.2 1020.0 219.4 1025.6 220.9 1023.9C222.4 1022.2 223.5 1011.9 224.8 1011.0C226.1 1010.1 227.1 1017.0 228.6 1018.7C230.1 1020.4 232.0 1023.0 233.7 1021.3C235.4 1019.6 237.2 1008.9 238.9 1008.5C240.6 1008.1 242.3 1017.0 244.0 1018.7C245.7 1020.4 247.4 1018.7 249.1 1018.7C250.8 1018.7 252.5 1020.0 254.2 1018.7C255.9 1017.4 257.6 1012.3 259.3 1011.0C261.0 1009.7 263.4 1011.1 264.5 1011.0C265.6 1010.9 265.2 1011.1 266.0 1010.4C266.8 1009.7 268.3 1006.1 269.4 1007.0C270.5 1007.9 271.7 1015.5 272.8 1015.5C273.9 1015.5 275.1 1007.6 276.2 1007.0C277.3 1006.4 278.5 1012.7 279.7 1012.1C280.9 1011.5 282.0 1004.2 283.1 1003.6C284.2 1003.0 285.4 1007.6 286.5 1008.7C287.6 1009.8 288.8 1013.5 289.9 1010.4C291.0 1007.3 292.2 993.0 293.3 989.9C294.4 986.8 295.9 991.9 296.7 991.6C297.5 991.3 297.5 986.2 298.4 988.2C299.2 990.2 300.7 1000.2 301.8 1003.6C302.9 1007.0 304.1 1007.9 305.2 1008.7C306.3 1009.6 307.5 1011.8 308.7 1008.7C309.9 1005.6 311.0 989.6 312.1 989.9C313.2 990.2 314.4 1007.8 315.5 1010.4C316.6 1013.0 317.8 1005.9 318.9 1005.3C320.0 1004.7 321.2 1009.6 322.3 1007.0C323.4 1004.4 324.6 990.5 325.7 989.9C326.8 989.3 328.0 1001.3 329.1 1003.6C330.2 1005.9 331.6 1004.7 332.6 1003.6C333.6 1002.5 334.0 997.1 335.1 996.8C336.2 996.5 338.1 1000.8 339.4 1001.9C340.7 1003.0 341.8 1001.6 342.8 1003.6C343.8 1005.6 344.5 1013.8 345.4 1013.8C346.2 1013.8 346.9 1005.0 347.9 1003.6C348.9 1002.2 349.7 1006.1 351.3 1005.3C352.9 1004.4 355.9 997.6 357.3 998.5C358.7 999.4 358.6 1007.6 359.9 1010.4C361.2 1013.2 363.3 1014.4 365.0 1015.5C366.7 1016.6 368.7 1017.5 370.1 1017.2C371.5 1016.9 372.1 1013.5 373.5 1013.8C374.9 1014.1 377.2 1018.0 378.6 1018.9C380.0 1019.8 380.9 1018.6 382.0 1018.9C383.1 1019.2 384.4 1021.5 385.5 1020.6C386.6 1019.8 387.8 1014.4 388.9 1013.8C390.0 1013.2 391.2 1015.8 392.3 1017.2C393.4 1018.6 394.3 1021.3 395.7 1022.4C397.1 1023.5 399.2 1024.3 400.8 1024.0C402.4 1023.7 403.7 1020.6 405.1 1020.6C406.5 1020.6 408.0 1025.1 409.3 1024.0C410.6 1022.9 411.8 1017.5 412.8 1013.8C413.8 1010.1 414.2 1003.0 415.3 1001.9C416.4 1000.8 418.1 1008.7 419.4 1007.0C420.6 1005.3 421.7 991.0 422.8 991.6C423.9 992.2 425.2 1007.3 426.2 1010.4C427.2 1013.5 427.8 1014.4 428.8 1010.4C429.8 1006.4 431.2 985.4 432.2 986.5C433.2 987.6 433.9 1011.0 434.8 1017.2C435.7 1023.5 436.5 1022.6 437.3 1024.0C438.1 1025.4 438.6 1025.2 439.9 1025.8C441.2 1026.4 443.3 1027.2 445.0 1027.5C446.7 1027.8 448.4 1027.4 450.1 1027.5C451.8 1027.6 453.5 1028.6 455.2 1028.3C456.9 1028.0 458.8 1026.8 460.4 1025.8C462.0 1024.8 463.5 1024.4 464.6 1022.4C465.7 1020.4 466.3 1013.8 467.2 1013.8C468.1 1013.8 468.7 1020.7 469.8 1022.4C470.9 1024.1 472.4 1023.7 474.0 1024.0C475.6 1024.3 477.7 1024.6 479.1 1024.0C480.5 1023.4 481.5 1022.0 482.6 1020.6C483.8 1019.2 484.7 1017.5 486.0 1015.5C487.3 1013.5 488.9 1009.0 490.2 1008.7C491.5 1008.4 492.6 1015.8 493.6 1013.8C494.6 1011.8 495.3 996.5 496.2 996.8C497.1 997.1 497.8 1011.5 498.8 1015.5C499.8 1019.5 500.9 1019.5 502.2 1020.6C503.5 1021.8 505.0 1022.4 506.4 1022.4C507.8 1022.4 509.0 1020.3 510.7 1020.6C512.4 1020.9 514.7 1023.1 516.7 1024.0C518.7 1024.9 521.0 1026.1 522.7 1025.8C524.4 1025.5 525.4 1023.3 526.9 1022.4C528.4 1021.5 530.4 1021.2 532.0 1020.6C533.6 1020.0 534.9 1019.0 536.3 1019.0C537.7 1019.0 539.0 1019.5 540.6 1020.6C542.2 1021.7 544.1 1026.1 545.7 1025.8C547.3 1025.5 548.6 1019.6 550.0 1019.0C551.4 1018.4 552.7 1022.4 554.2 1022.4C555.8 1022.4 557.6 1019.0 559.3 1019.0C561.0 1019.0 563.4 1021.7 564.5 1022.4C565.6 1023.1 565.0 1023.3 566.0 1023.0C567.0 1022.7 568.9 1020.7 570.4 1020.7C571.9 1020.7 573.4 1023.4 574.9 1023.0C576.4 1022.6 578.0 1019.6 579.3 1018.5C580.6 1017.4 581.3 1016.3 582.6 1016.3C583.9 1016.3 585.8 1019.2 587.1 1018.5C588.4 1017.8 589.1 1013.0 590.4 1011.9C591.7 1010.8 593.3 1016.0 594.8 1011.9C596.3 1007.8 597.8 988.6 599.3 987.5C600.8 986.4 602.2 1002.6 603.7 1005.2C605.2 1007.8 606.7 1006.3 608.2 1003.0C609.7 999.7 611.3 988.6 612.6 985.3C613.9 982.0 614.9 991.5 615.9 983.0C616.9 974.5 617.7 933.8 618.6 934.2C619.5 934.6 620.5 979.8 621.5 985.3C622.5 990.8 623.8 969.7 624.8 967.5C625.8 965.3 626.8 969.7 627.7 971.9C628.6 974.1 629.5 983.8 630.3 980.8C631.1 977.8 631.9 953.5 632.6 954.2C633.4 955.0 634.1 987.9 634.8 985.3C635.5 982.7 635.9 940.2 636.6 938.7C637.3 937.2 638.0 975.3 638.8 976.4C639.6 977.5 640.4 946.8 641.4 945.3C642.4 943.8 644.0 968.2 644.8 967.5C645.6 966.8 645.6 944.6 646.3 940.9C647.0 937.2 648.4 937.9 649.2 945.3C650.1 952.7 650.7 986.4 651.4 985.3C652.1 984.2 652.7 949.1 653.6 938.7C654.5 928.3 655.9 922.4 657.0 923.1C658.1 923.8 659.2 932.7 660.3 943.1C661.4 953.5 662.5 976.8 663.6 985.3C664.7 993.8 665.9 991.5 667.0 994.1C668.1 996.7 669.2 998.6 670.3 1000.8C671.4 1003.0 672.5 1010.0 673.6 1007.4C674.7 1004.8 675.8 986.0 676.9 985.3C678.0 984.6 679.2 1001.9 680.3 1003.0C681.4 1004.1 682.5 992.6 683.6 991.9C684.7 991.2 685.6 999.0 686.9 998.6C688.2 998.2 690.1 987.9 691.4 989.7C692.7 991.6 693.4 1006.0 694.7 1009.7C696.0 1013.4 697.6 1011.2 699.1 1011.9C700.6 1012.6 702.4 1021.5 703.6 1014.1C704.8 1006.7 705.3 970.1 706.2 967.5C707.1 964.9 708.1 996.4 709.1 998.6C710.1 1000.8 711.2 983.4 712.4 980.8C713.5 978.2 714.7 982.4 716.0 983.1C717.3 983.8 719.0 985.1 720.3 984.8C721.6 984.5 722.4 978.3 723.7 981.4C725.0 984.5 726.3 998.8 727.9 1003.6C729.5 1008.4 731.5 1011.0 733.1 1010.4C734.7 1009.8 736.0 1000.5 737.3 1000.2C738.6 999.9 739.4 1012.4 740.7 1008.7C742.0 1005.0 743.6 978.0 745.0 978.0C746.4 978.0 748.0 1005.3 749.3 1008.7C750.6 1012.1 751.4 998.5 752.7 998.5C754.0 998.5 755.6 1007.3 757.0 1008.7C758.4 1010.1 759.8 1008.1 761.2 1007.0C762.6 1005.9 764.4 1001.0 765.5 1001.9C766.6 1002.8 766.7 1013.8 768.0 1012.1C769.3 1010.4 771.9 993.9 773.2 991.6C774.5 989.3 774.9 995.9 775.7 998.5C776.6 1001.1 777.1 1009.0 778.3 1007.0C779.4 1005.0 781.3 992.2 782.6 986.5C783.9 980.8 784.9 971.5 786.0 972.9C787.1 974.3 788.4 995.1 789.4 995.1C790.4 995.1 791.0 979.5 791.9 972.9C792.8 966.3 793.5 954.1 794.5 955.8C795.5 957.5 796.9 981.1 797.9 983.1C798.9 985.1 799.6 965.1 800.5 967.7C801.4 970.3 802.1 996.2 803.0 998.5C803.9 1000.8 804.6 981.1 805.6 981.4C806.6 981.7 808.0 999.4 809.0 1000.2C810.0 1001.1 810.6 985.6 811.6 986.5C812.6 987.4 813.9 1000.5 815.0 1005.3C816.1 1010.1 817.1 1016.6 818.4 1015.5C819.7 1014.4 821.3 998.8 822.7 998.5C824.1 998.2 825.5 1011.0 826.9 1013.8C828.3 1016.6 829.8 1015.2 831.2 1015.5C832.6 1015.8 834.2 1014.4 835.5 1015.5C836.8 1016.6 837.5 1021.5 838.9 1022.4C840.3 1023.2 842.4 1021.2 844.0 1020.6C845.6 1020.0 846.9 1019.3 848.3 1019.0C849.7 1018.7 851.0 1018.4 852.5 1019.0C854.0 1019.6 855.9 1021.6 857.6 1022.4C859.3 1023.2 861.4 1024.1 862.8 1024.0C864.2 1023.9 864.7 1021.3 866.0 1021.9C867.3 1022.5 869.1 1026.5 870.6 1027.7C872.1 1028.9 873.7 1028.6 875.2 1028.8C876.7 1029.0 878.6 1031.9 879.8 1028.8C880.9 1025.7 881.3 1025.0 882.1 1010.4C882.9 995.8 883.6 960.9 884.4 941.3C885.2 921.7 885.7 889.1 886.7 892.9C887.7 896.7 889.1 958.9 890.2 964.3C891.4 969.7 892.5 923.3 893.6 925.2C894.8 927.1 896.3 965.1 897.1 975.9C897.9 986.6 897.7 997.4 898.3 989.7C898.9 982.0 899.8 957.4 900.6 929.8C901.4 902.1 902.3 815.7 903.3 823.8C904.2 831.9 905.2 955.9 906.3 978.2C907.4 1000.5 908.4 957.8 909.8 957.4C911.1 957.0 913.1 974.0 914.4 975.9C915.7 977.8 916.6 985.0 917.8 968.9C918.9 952.8 920.1 882.9 921.3 879.1C922.5 875.3 923.6 932.1 924.8 945.9C925.9 959.7 926.9 960.9 928.2 962.0C929.5 963.1 931.3 957.8 932.8 952.8C934.3 947.8 935.9 930.6 937.4 932.1C938.9 933.6 940.6 963.9 942.0 962.0C943.4 960.1 944.5 915.2 945.5 920.6C946.5 926.0 946.4 987.4 947.8 994.3C949.1 1001.2 951.9 965.9 953.6 962.0C955.3 958.1 956.5 972.0 958.2 971.2C959.9 970.4 962.4 953.2 963.9 957.4C965.4 961.6 966.0 996.2 967.4 996.6C968.8 997.0 970.3 968.2 972.0 959.7C973.7 951.2 976.3 943.6 977.8 945.9C979.3 948.2 980.1 970.8 981.2 973.5C982.4 976.2 983.6 958.1 984.7 962.0C985.9 965.9 986.8 997.8 988.1 996.6C989.4 995.5 991.4 956.2 992.7 955.1C994.1 954.0 995.1 988.9 996.2 989.7C997.4 990.5 998.5 966.2 999.6 959.7C1000.8 953.2 1001.9 951.3 1003.1 950.5C1004.3 949.7 1005.2 951.6 1006.6 955.1C1008.0 958.6 1009.7 968.9 1011.2 971.2C1012.7 973.5 1014.4 966.4 1015.8 968.9C1017.2 971.4 1018.2 985.5 1019.4 986.5C1020.6 987.5 1021.4 973.8 1022.8 974.6C1024.2 975.5 1026.6 997.6 1028.0 991.6C1029.4 985.6 1030.3 944.1 1031.4 938.7C1032.5 933.3 1033.7 951.5 1034.8 959.2C1035.9 966.9 1037.1 982.5 1038.2 984.8C1039.3 987.1 1040.6 976.9 1041.6 972.9C1042.6 968.9 1043.2 958.1 1044.2 960.9C1045.2 963.7 1046.5 989.6 1047.6 989.9C1048.7 990.2 1050.0 961.2 1051.0 962.6C1052.0 964.0 1052.5 995.6 1053.5 998.5C1054.5 1001.4 1056.0 978.3 1057.0 979.7C1058.0 981.1 1058.7 1008.1 1059.5 1007.0C1060.3 1005.9 1060.8 977.2 1062.1 972.9C1063.4 968.6 1065.9 977.4 1067.2 981.4C1068.5 985.4 1068.7 1000.2 1069.8 996.8C1070.9 993.4 1072.7 962.0 1074.0 960.9C1075.3 959.8 1076.3 985.9 1077.4 989.9C1078.5 993.9 1079.7 983.6 1080.8 984.8C1081.9 985.9 1083.0 998.2 1084.3 996.8C1085.6 995.4 1087.4 974.9 1088.5 976.3C1089.6 977.7 1090.1 1003.3 1091.1 1005.3C1092.1 1007.3 1093.1 992.8 1094.5 988.2C1095.9 983.7 1098.0 975.1 1099.6 978.0C1101.2 980.9 1102.6 1005.3 1103.9 1005.3C1105.2 1005.3 1106.0 980.0 1107.3 978.0C1108.6 976.0 1110.3 988.2 1111.6 993.3C1112.9 998.4 1113.9 1005.3 1115.0 1008.7C1116.1 1012.1 1117.4 1019.2 1118.4 1013.8C1119.4 1008.4 1120.2 978.0 1121.0 976.3C1121.8 974.6 1122.5 1002.5 1123.5 1003.6C1124.5 1004.7 1125.5 983.7 1126.9 983.1C1128.3 982.5 1130.4 999.9 1132.0 1000.2C1133.6 1000.5 1134.9 988.5 1136.3 984.8C1137.7 981.1 1139.5 974.3 1140.6 978.0C1141.7 981.7 1142.1 1009.3 1143.1 1007.0C1144.1 1004.7 1145.3 967.0 1146.5 964.3C1147.7 961.6 1148.8 988.9 1150.0 990.9C1151.2 992.9 1152.6 973.2 1153.9 976.5C1155.2 979.8 1156.5 1010.5 1157.8 1010.9C1159.1 1011.3 1160.4 978.5 1161.6 978.7C1162.8 978.9 1164.1 1008.3 1165.0 1012.0C1165.9 1015.7 1166.6 1001.8 1167.2 1000.9C1167.8 1000.0 1168.0 1007.5 1168.8 1006.4C1169.6 1005.3 1171.3 994.8 1172.2 994.2C1173.1 993.7 1173.6 1003.1 1174.4 1003.1C1175.2 1003.1 1176.4 994.8 1177.2 994.2C1178.0 993.7 1178.7 1001.4 1179.4 999.8C1180.1 998.1 1180.9 984.1 1181.6 984.3C1182.2 984.5 1182.6 1000.9 1183.3 1000.9C1184.0 1000.9 1185.0 984.8 1185.5 984.3C1186.0 983.8 1186.1 998.7 1186.6 997.6C1187.0 996.5 1187.7 977.2 1188.2 977.6C1188.8 978.0 1189.2 999.4 1189.9 999.8C1190.6 1000.2 1191.3 979.1 1192.1 979.8C1192.9 980.5 1193.7 998.8 1194.9 1004.2C1196.1 1009.6 1198.1 1012.4 1199.3 1012.0C1200.5 1011.6 1201.3 1002.8 1202.1 1002.0C1202.8 1001.2 1203.1 1009.0 1203.8 1007.5C1204.5 1006.0 1205.4 994.9 1206.0 993.1C1206.6 991.3 1206.6 997.8 1207.6 996.5C1208.6 995.2 1210.7 984.1 1212.1 985.4C1213.5 986.7 1215.0 1002.2 1216.0 1004.2C1217.0 1006.2 1217.4 998.2 1218.2 997.6C1219.0 997.0 1219.8 1006.3 1221.0 1000.9C1222.2 995.5 1223.9 968.9 1225.4 965.4C1226.9 961.9 1228.6 974.1 1229.8 979.8C1231.0 985.5 1231.8 998.3 1232.6 999.8C1233.3 1001.3 1233.8 989.5 1234.3 988.7C1234.8 988.0 1234.9 1001.2 1235.4 995.3C1236.0 989.4 1236.8 952.1 1237.6 953.2C1238.4 954.3 1239.6 996.3 1240.4 1002.0C1241.2 1007.7 1241.8 987.8 1242.6 987.6C1243.4 987.4 1244.2 1000.4 1245.3 1000.9C1246.4 1001.4 1248.0 1002.8 1249.2 990.9C1250.4 979.0 1251.4 928.9 1252.5 929.8C1253.6 930.7 1254.8 984.8 1255.9 996.3C1257.0 1007.8 1257.9 996.8 1259.2 998.6C1260.5 1000.5 1262.3 1015.5 1263.6 1007.4C1264.9 999.3 1265.9 959.8 1267.0 949.8C1268.1 939.8 1269.2 940.9 1270.3 947.5C1271.4 954.1 1272.5 986.7 1273.6 989.7C1274.7 992.7 1275.6 968.3 1276.9 965.3C1278.2 962.3 1279.9 970.4 1281.4 971.9C1282.9 973.4 1284.3 971.2 1285.8 974.2C1287.3 977.2 1288.8 987.1 1290.3 989.7C1291.8 992.3 1293.2 991.2 1294.7 989.7C1296.2 988.2 1297.8 981.2 1299.1 980.8C1300.4 980.4 1301.4 991.2 1302.5 987.5C1303.6 983.8 1304.7 960.1 1305.8 958.6C1306.9 957.1 1308.0 978.6 1309.1 978.6C1310.2 978.6 1311.2 960.6 1312.4 958.6C1313.6 956.6 1314.9 968.9 1316.0 966.7C1317.1 964.5 1317.8 941.6 1319.1 945.2C1320.4 948.8 1322.2 984.6 1323.7 988.2C1325.2 991.8 1326.8 967.2 1328.3 966.7C1329.8 966.2 1331.6 985.1 1332.9 985.1C1334.2 985.1 1335.0 970.3 1336.0 966.7C1337.0 963.1 1337.8 961.1 1339.1 963.6C1340.4 966.1 1342.2 978.4 1343.7 982.0C1345.2 985.6 1346.8 997.9 1348.3 985.1C1349.8 972.3 1351.5 904.2 1352.9 905.2C1354.3 906.2 1355.1 980.0 1356.6 991.3C1358.1 1002.6 1360.4 979.5 1362.1 972.8C1363.8 966.1 1364.9 953.9 1366.7 951.3C1368.5 948.7 1371.4 952.3 1372.9 957.4C1374.4 962.5 1374.6 988.1 1375.9 982.0C1377.2 975.9 1379.0 924.2 1380.6 920.6C1382.1 917.0 1383.7 956.4 1385.2 960.5C1386.7 964.6 1388.3 941.6 1389.8 945.2C1391.3 948.8 1392.9 977.4 1394.4 982.0C1395.9 986.6 1397.5 970.2 1399.0 972.8C1400.5 975.4 1402.2 1002.0 1403.6 997.4C1405.0 992.8 1406.3 945.7 1407.6 945.2C1408.9 944.7 1409.9 990.7 1411.3 994.3C1412.7 997.9 1414.4 969.8 1415.9 966.7C1417.4 963.6 1419.0 973.4 1420.5 975.9C1422.0 978.4 1423.6 977.9 1425.1 982.0C1426.6 986.1 1428.2 1003.0 1429.7 1000.5C1431.2 998.0 1432.8 986.7 1434.4 966.7C1436.1 946.7 1438.1 882.2 1439.6 880.6C1441.1 879.0 1442.2 943.6 1443.6 957.4C1445.0 971.2 1446.7 960.5 1448.2 963.6C1449.7 966.7 1451.0 982.6 1452.8 975.9C1454.6 969.2 1457.3 926.7 1458.9 923.6C1460.5 920.5 1461.8 951.8 1462.4 957.4" fill="none" stroke="#ff7f0e" stroke-width="2.08" stroke-linejoin="round" stroke-linecap="square"/>
</g>
<rect x="116.5" y="576.5" width="1346.0" height="478.0" fill="none" stroke="#000" stroke-width="1.11"/>
<path d="M116.5 1054.5v4.86M284.5 1054.5v4.86M452.5 1054.5v4.86M621.5 1054.5v4.86M789.5 1054.5v4.86M957.5 1054.5v4.86M1125.5 1054.5v4.86M1294.5 1054.5v4.86M116.5 1031.5h-4.86M116.5 926.5h-4.86M116.5 820.5h-4.86M116.5 715.5h-4.86M116.5 610.5h-4.86" stroke="#000" stroke-width="1.11" fill="none"/>
<text x="106.2" y="1039.50" text-anchor="end" class="tl">0.0</text>
<text x="106.2" y="934.25" text-anchor="end" class="tl">0.2</text>
<text x="106.2" y="829.00" text-anchor="end" class="tl">0.4</text>
<text x="106.2" y="723.75" text-anchor="end" class="tl">0.6</text>
<text x="106.2" y="618.50" text-anchor="end" class="tl">0.8</text>
<rect x="1047.55" y="586.45" width="405.9" height="80.3" rx="3.7" fill="#fff" opacity="0.8" stroke="#cccccc" stroke-width="1.11"/>
<circle cx="1073.5" cy="601.60" r="2.78" fill="#1f77b4"/>
<line x1="1054.49" y1="640.48" x2="1091.52" y2="640.48" stroke="#ff7f0e" stroke-width="2.08" stroke-linecap="square"/>
<text x="1106.32" y="607.43" class="lg">Raw Data</text>
<text x="1106.32" y="633.60" class="lg">Butterworth Filtered Data</text>
<text x="1106.32" y="655.32" class="lg">(N=6, Tc=3.3333 min, Type: low)</text>
<text x="784.9" y="30.27" text-anchor="middle" class="ti">10.0 MHz N0000029</text>
<text x="116.4" y="30.27" class="ti">(a)</text>
<text x="116.4" y="568.37" class="ti">(b)</text>
<text transform="translate(37.3 277.6) rotate(-90) scale(1 0.94)" text-anchor="middle" class="al">Doppler Shift [Hz]</text>
<text transform="translate(55.6 815.5) rotate(-90) scale(1 0.94)" text-anchor="middle" class="al">Peak Voltage [V]</text>
<text transform="translate(19.06 1133.51) rotate(-30)" class="tl">10-11 00</text>
<text transform="translate(187.31 1133.51) rotate(-30)" class="tl">10-11 03</text>
<text transform="translate(355.56 1133.51) rotate(-30)" class="tl">10-11 06</text>
<text transform="translate(523.81 1133.51) rotate(-30)" class="tl">10-11 09</text>
<text transform="translate(692.06 1133.51) rotate(-30)" class="tl">10-11 12</text>
<text transform="translate(860.31 1133.51) rotate(-30)" class="tl">10-11 15</text>
<text transform="translate(1028.56 1133.51) rotate(-30)" class="tl">10-11 18</text>
<text transform="translate(1196.81 1133.51) rotate(-30)" class="tl">10-11 21</text>
<text x="789.4" y="1159.95" text-anchor="middle" class="al">UTC</text>
</svg></body></html>
